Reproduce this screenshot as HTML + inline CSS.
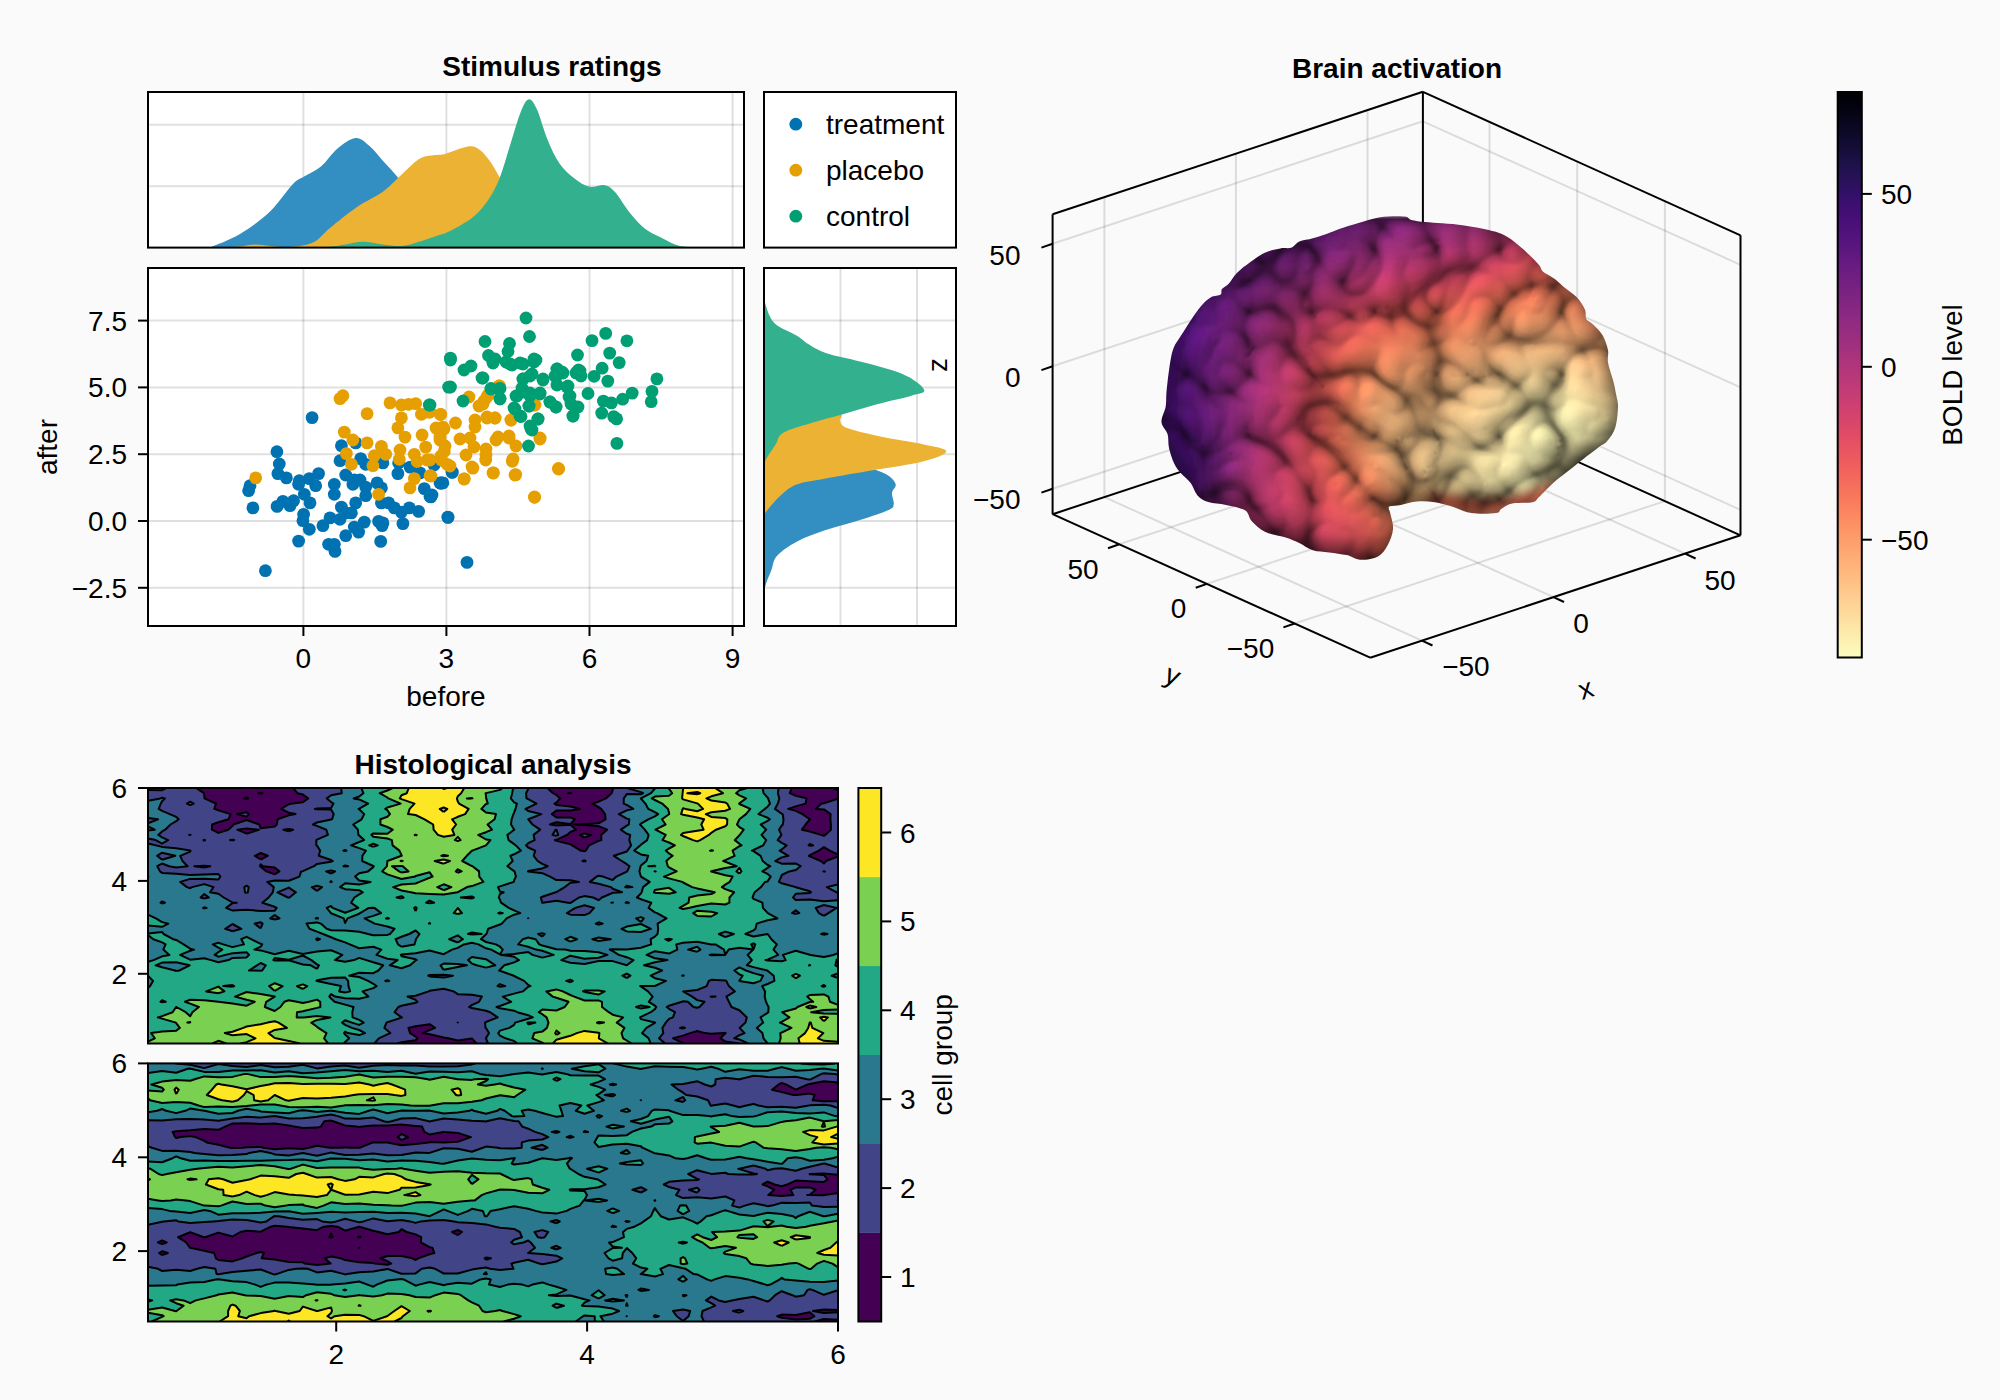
<!DOCTYPE html>
<html><head><meta charset="utf-8"><style>html,body{margin:0;padding:0;background:#fafafa;}svg{display:block;}</style></head><body>
<svg width="2000" height="1400" viewBox="0 0 2000 1400" font-family="'Liberation Sans', Arial, sans-serif">
<defs><linearGradient id="magma" x1="0" y1="0" x2="0" y2="1"><stop offset="0.000" stop-color="#000004"/><stop offset="0.031" stop-color="#030312"/><stop offset="0.062" stop-color="#0a0822"/><stop offset="0.094" stop-color="#130d34"/><stop offset="0.125" stop-color="#1d1147"/><stop offset="0.156" stop-color="#29115a"/><stop offset="0.188" stop-color="#36106b"/><stop offset="0.219" stop-color="#440f76"/><stop offset="0.250" stop-color="#51127c"/><stop offset="0.281" stop-color="#5d177f"/><stop offset="0.312" stop-color="#6a1c81"/><stop offset="0.344" stop-color="#762181"/><stop offset="0.375" stop-color="#832681"/><stop offset="0.406" stop-color="#902a81"/><stop offset="0.438" stop-color="#9c2e7f"/><stop offset="0.469" stop-color="#aa337d"/><stop offset="0.500" stop-color="#b73779"/><stop offset="0.531" stop-color="#c43c75"/><stop offset="0.562" stop-color="#d0416f"/><stop offset="0.594" stop-color="#dc4869"/><stop offset="0.625" stop-color="#e75263"/><stop offset="0.656" stop-color="#ef5d5e"/><stop offset="0.688" stop-color="#f56b5c"/><stop offset="0.719" stop-color="#f9795d"/><stop offset="0.750" stop-color="#fc8961"/><stop offset="0.781" stop-color="#fd9869"/><stop offset="0.812" stop-color="#fea772"/><stop offset="0.844" stop-color="#feb67c"/><stop offset="0.875" stop-color="#fec488"/><stop offset="0.906" stop-color="#fed395"/><stop offset="0.938" stop-color="#fde2a3"/><stop offset="0.969" stop-color="#fcf0b2"/><stop offset="1.000" stop-color="#fcfdbf"/></linearGradient></defs>
<rect width="2000" height="1400" fill="#fafafa"/>
<rect x="148" y="92" width="596" height="155.6" fill="#fff"/>
<rect x="148" y="268" width="596" height="358" fill="#fff"/>
<rect x="764" y="268" width="192" height="358" fill="#fff"/>
<rect x="764" y="92" width="192" height="155.6" fill="#fff"/>
<line x1="303.4" y1="92" x2="303.4" y2="247.6" stroke="rgba(0,0,0,0.12)" stroke-width="2"/>
<line x1="303.4" y1="268" x2="303.4" y2="626" stroke="rgba(0,0,0,0.12)" stroke-width="2"/>
<line x1="446.4" y1="92" x2="446.4" y2="247.6" stroke="rgba(0,0,0,0.12)" stroke-width="2"/>
<line x1="446.4" y1="268" x2="446.4" y2="626" stroke="rgba(0,0,0,0.12)" stroke-width="2"/>
<line x1="589.5" y1="92" x2="589.5" y2="247.6" stroke="rgba(0,0,0,0.12)" stroke-width="2"/>
<line x1="589.5" y1="268" x2="589.5" y2="626" stroke="rgba(0,0,0,0.12)" stroke-width="2"/>
<line x1="732.6" y1="92" x2="732.6" y2="247.6" stroke="rgba(0,0,0,0.12)" stroke-width="2"/>
<line x1="732.6" y1="268" x2="732.6" y2="626" stroke="rgba(0,0,0,0.12)" stroke-width="2"/>
<line x1="148" y1="186.2" x2="744" y2="186.2" stroke="rgba(0,0,0,0.12)" stroke-width="2"/>
<line x1="840.5" y1="268" x2="840.5" y2="626" stroke="rgba(0,0,0,0.12)" stroke-width="2"/>
<line x1="148" y1="124.8" x2="744" y2="124.8" stroke="rgba(0,0,0,0.12)" stroke-width="2"/>
<line x1="917" y1="268" x2="917" y2="626" stroke="rgba(0,0,0,0.12)" stroke-width="2"/>
<line x1="148" y1="587.8" x2="744" y2="587.8" stroke="rgba(0,0,0,0.12)" stroke-width="2"/>
<line x1="764" y1="587.8" x2="956" y2="587.8" stroke="rgba(0,0,0,0.12)" stroke-width="2"/>
<line x1="148" y1="521" x2="744" y2="521" stroke="rgba(0,0,0,0.12)" stroke-width="2"/>
<line x1="764" y1="521" x2="956" y2="521" stroke="rgba(0,0,0,0.12)" stroke-width="2"/>
<line x1="148" y1="454.2" x2="744" y2="454.2" stroke="rgba(0,0,0,0.12)" stroke-width="2"/>
<line x1="764" y1="454.2" x2="956" y2="454.2" stroke="rgba(0,0,0,0.12)" stroke-width="2"/>
<line x1="148" y1="387.4" x2="744" y2="387.4" stroke="rgba(0,0,0,0.12)" stroke-width="2"/>
<line x1="764" y1="387.4" x2="956" y2="387.4" stroke="rgba(0,0,0,0.12)" stroke-width="2"/>
<line x1="148" y1="320.6" x2="744" y2="320.6" stroke="rgba(0,0,0,0.12)" stroke-width="2"/>
<line x1="764" y1="320.6" x2="956" y2="320.6" stroke="rgba(0,0,0,0.12)" stroke-width="2"/>
<clipPath id="ctop"><rect x="148" y="92" width="596" height="155.6"/></clipPath>
<g clip-path="url(#ctop)">
<path d="M210 247.6C215 245.3 230 240 240 234C250 228 261.2 219.8 270 211.5C278.8 203.2 286.8 190.4 292.5 184.5C298.2 178.6 299.8 179.3 304.5 176.3C309.2 173.3 315.5 171.1 321 166.5C326.5 161.9 331.8 153.2 337.5 148.5C343.2 143.8 350.2 138.5 355.5 138C360.8 137.5 364.2 141.5 369 145.5C373.8 149.5 379.2 156.8 384 162C388.8 167.2 392.8 171.3 397.5 177C402.2 182.7 407.4 189.7 412 196C416.6 202.3 420.3 209 425 215C429.7 221 435 227.5 440 232C445 236.5 450 239.4 455 242C460 244.6 467.5 246.7 470 247.6L470 247.6L210 247.6Z" fill="#338ec1"/>
<path d="M225 247.6C227.5 247.4 235 247 240 246.5C245 246 250 244.6 255 244.5C260 244.4 265 245.6 270 246C275 246.4 280 247 285 247C290 247 295 246.9 300 246C305 245.1 310 244.5 315 241.5C320 238.5 323 233.8 330 228C337 222.2 348.2 213 357 207C365.8 201 375.8 196.8 382.5 192C389.2 187.2 391.8 183.8 397.5 178.5C403.2 173.2 412 164.2 417 160.5C422 156.8 423.2 157 427.5 156C431.8 155 438.8 155.1 442.5 154.5C446.2 153.9 445.5 153.6 450 152.2C454.5 150.8 464.5 146.6 469.5 146.2C474.5 145.8 476.5 147.4 480 150C483.5 152.6 487.2 157.5 490.5 162C493.8 166.5 496.2 171.5 499.5 177C502.8 182.5 506.6 188.7 510 195C513.4 201.3 516.7 208.8 520 215C523.3 221.2 525.8 227.2 530 232C534.2 236.8 540 241.4 545 244C550 246.6 557.5 247 560 247.6L560 247.6L225 247.6Z" fill="#ebb233"/>
<path d="M300 247.6C305 247.4 322.5 247.2 330 246.7C337.5 246.2 339.5 245.3 345 244.5C350.5 243.7 356.8 241.8 363 241.8C369.2 241.8 376 243.8 382.5 244.5C389 245.2 395.8 246.5 402 246C408.2 245.5 414.5 243.1 420 241.5C425.5 239.9 430 238.2 435 236.5C440 234.8 443.8 234.2 450 231C456.2 227.8 466.2 222.5 472.5 217.5C478.8 212.5 483 207.5 487.5 201C492 194.5 495.8 187.8 499.5 178.5C503.2 169.2 506.5 156.5 510 145.5C513.5 134.5 517.4 120.2 520.5 112.5C523.6 104.8 526 99.8 528.8 99.3C531.5 98.8 533.9 102.8 537 109.5C540.1 116.2 543.8 130.5 547.5 139.5C551.2 148.5 555 157 559.5 163.5C564 170 569.5 174.6 574.5 178.5C579.5 182.4 584.5 185.6 589.5 186.8C594.5 187.9 600.2 184.4 604.5 185.2C608.8 186.1 610.8 187.4 615 192C619.2 196.6 625 206.9 630 213C635 219.1 640 224.8 645 228.8C650 232.8 655 234.4 660 237C665 239.6 670.5 242.8 675 244.5C679.5 246.2 682.8 246.4 687 246.9C691.2 247.4 697.8 247.5 700 247.6L700 247.6L300 247.6Z" fill="#33b18f"/>
</g>
<clipPath id="cright"><rect x="764" y="268" width="192" height="358"/></clipPath>
<g clip-path="url(#cright)">
<path d="M765 600C765 597.9 764 592.1 765.1 587.1C766.2 582.1 769.4 575.2 771.4 570C773.4 564.8 772.8 560.5 777.1 555.7C781.4 550.9 789 545.7 797.1 541.4C805.2 537.1 815.2 533.6 825.7 530C836.2 526.4 849.5 523.3 860 520C870.5 516.7 883 512.6 888.6 510C894.2 507.4 893.1 507.2 893.7 504.3C894.3 501.4 891.7 496.2 892 492.9C892.3 489.6 896.3 487.2 895.7 484.3C895.1 481.4 892.2 478.2 888.6 475.7C885 473.2 880.7 471.7 874.3 469.4C867.9 467.1 859 464.9 850 462C841 459.1 829.2 455.7 820 452C810.8 448.3 802.5 445.3 795 440C787.5 434.7 779.8 426.7 775 420C770.2 413.3 767.7 405 766 400C764.3 395 765.2 391.7 765 390L764 390L764 600Z" fill="#338ec1"/>
<path d="M765 520C765 518.8 760.7 518.4 765.1 512.9C769.5 507.4 781.3 492.8 791.4 487.1C801.5 481.4 811.9 481.5 825.7 478.6C839.5 475.8 858.1 472.9 874.3 470C890.5 467.1 910.9 464.5 922.9 461.4C934.9 458.3 946.3 454.2 946.3 451.4C946.3 448.5 933.5 446.7 922.9 444.3C912.3 441.9 895.3 439.7 882.9 437.1C870.5 434.5 855.8 431.2 848.6 428.6C841.5 426 841.2 423.8 840 421.4C838.8 419 843.1 416.5 841.4 414.3C839.7 412.1 836.1 410.4 830 408C823.9 405.6 812.5 403 805 400C797.5 397 790.8 395 785 390C779.2 385 773.3 376.7 770 370C766.7 363.3 765.8 353.3 765 350L764 350L764 520Z" fill="#ebb233"/>
<path d="M765 470C765 468.6 763.3 465.7 765.1 461.4C766.9 457.1 772.7 449.1 775.7 444.3C778.7 439.6 777 436.5 782.9 432.9C788.8 429.3 801.4 426 811.4 422.9C821.4 419.8 832 417.4 842.9 414.3C853.8 411.2 865.6 407.4 877 404.3C888.4 401.2 903.5 398 911.4 395.7C919.3 393.4 924.3 393.5 924.3 390.6C924.3 387.8 916.9 382 911.4 378.6C905.9 375.2 900 372.9 891.4 370C882.8 367.1 871 364.2 860 361.4C849 358.5 834.3 355.8 825.7 352.9C817.1 350 813.4 347.2 808.6 344.3C803.8 341.4 802.7 339.3 797 335.7C791.3 332.1 779.6 328.4 774.3 322.9C769 317.4 766.6 307.5 765.1 302.9C763.6 298.2 765 296.3 765 295L764 295L764 470Z" fill="#33b18f"/>
</g>
<g fill="#0072b2"><circle cx="312.1" cy="417.6" r="6.4"/><circle cx="276.9" cy="451.7" r="6.4"/><circle cx="279.3" cy="464" r="6.4"/><circle cx="277.9" cy="473.6" r="6.4"/><circle cx="286.4" cy="477.9" r="6.4"/><circle cx="250" cy="485.7" r="6.4"/><circle cx="248.6" cy="490.7" r="6.4"/><circle cx="252.9" cy="507.9" r="6.4"/><circle cx="265.4" cy="570.7" r="6.4"/><circle cx="298.6" cy="484.3" r="6.4"/><circle cx="304.3" cy="494.3" r="6.4"/><circle cx="310" cy="502.9" r="6.4"/><circle cx="299.3" cy="480.7" r="6.4"/><circle cx="318.6" cy="473.6" r="6.4"/><circle cx="315.7" cy="485.7" r="6.4"/><circle cx="309.3" cy="478.6" r="6.4"/><circle cx="277.1" cy="506.4" r="6.4"/><circle cx="282.9" cy="501.4" r="6.4"/><circle cx="290" cy="505.7" r="6.4"/><circle cx="293.6" cy="500.7" r="6.4"/><circle cx="303.6" cy="514.3" r="6.4"/><circle cx="302.9" cy="520.7" r="6.4"/><circle cx="309.3" cy="529.3" r="6.4"/><circle cx="298.6" cy="541.1" r="6.4"/><circle cx="322.9" cy="525.7" r="6.4"/><circle cx="330" cy="517.9" r="6.4"/><circle cx="334.3" cy="484.3" r="6.4"/><circle cx="334.3" cy="494.3" r="6.4"/><circle cx="341.4" cy="445.7" r="6.4"/><circle cx="340" cy="460.7" r="6.4"/><circle cx="355.7" cy="442.9" r="6.4"/><circle cx="360.7" cy="458.6" r="6.4"/><circle cx="365.7" cy="464.3" r="6.4"/><circle cx="345.7" cy="475" r="6.4"/><circle cx="354.3" cy="480" r="6.4"/><circle cx="360" cy="480" r="6.4"/><circle cx="352.9" cy="484.3" r="6.4"/><circle cx="365.7" cy="487.1" r="6.4"/><circle cx="365.7" cy="495.7" r="6.4"/><circle cx="355.7" cy="502.9" r="6.4"/><circle cx="341.4" cy="507.1" r="6.4"/><circle cx="345.7" cy="512.9" r="6.4"/><circle cx="351.4" cy="512.9" r="6.4"/><circle cx="340" cy="519.3" r="6.4"/><circle cx="328.6" cy="544.3" r="6.4"/><circle cx="334.3" cy="544.3" r="6.4"/><circle cx="345.7" cy="535.7" r="6.4"/><circle cx="335" cy="551.4" r="6.4"/><circle cx="354.3" cy="527.1" r="6.4"/><circle cx="358.6" cy="532.1" r="6.4"/><circle cx="364.3" cy="522.1" r="6.4"/><circle cx="377.1" cy="482.9" r="6.4"/><circle cx="381.4" cy="487.9" r="6.4"/><circle cx="382.9" cy="522.9" r="6.4"/><circle cx="378.6" cy="521.4" r="6.4"/><circle cx="382.1" cy="525.7" r="6.4"/><circle cx="380.7" cy="541.4" r="6.4"/><circle cx="382.9" cy="462.9" r="6.4"/><circle cx="381.4" cy="502.9" r="6.4"/><circle cx="388.6" cy="502.9" r="6.4"/><circle cx="394.3" cy="507.9" r="6.4"/><circle cx="401.4" cy="512.1" r="6.4"/><circle cx="409.3" cy="507.9" r="6.4"/><circle cx="418.6" cy="511.4" r="6.4"/><circle cx="402.9" cy="523.6" r="6.4"/><circle cx="397.9" cy="473.6" r="6.4"/><circle cx="398.6" cy="462.9" r="6.4"/><circle cx="410" cy="467.1" r="6.4"/><circle cx="424.3" cy="488.6" r="6.4"/><circle cx="430" cy="496.4" r="6.4"/><circle cx="440" cy="482.9" r="6.4"/><circle cx="442.9" cy="482.9" r="6.4"/><circle cx="447.9" cy="517.1" r="6.4"/><circle cx="420" cy="472.9" r="6.4"/><circle cx="434.3" cy="464.3" r="6.4"/><circle cx="434" cy="465" r="6.4"/><circle cx="452" cy="472" r="6.4"/><circle cx="441" cy="483" r="6.4"/><circle cx="432" cy="495" r="6.4"/><circle cx="448" cy="517.4" r="6.4"/><circle cx="467" cy="562.4" r="6.4"/><circle cx="452.3" cy="472.4" r="6.4"/><circle cx="441.1" cy="483.1" r="6.4"/><circle cx="430.9" cy="496.9" r="6.4"/></g>
<g fill="#e69f00"><circle cx="255.7" cy="477.9" r="6.4"/><circle cx="340" cy="398.6" r="6.4"/><circle cx="342.9" cy="395.7" r="6.4"/><circle cx="367.1" cy="413.6" r="6.4"/><circle cx="390" cy="402.9" r="6.4"/><circle cx="401.4" cy="405" r="6.4"/><circle cx="408.6" cy="404.3" r="6.4"/><circle cx="415.7" cy="403.6" r="6.4"/><circle cx="421.4" cy="414.3" r="6.4"/><circle cx="428.6" cy="412.1" r="6.4"/><circle cx="440.7" cy="414.3" r="6.4"/><circle cx="401.4" cy="417.9" r="6.4"/><circle cx="397.9" cy="427.9" r="6.4"/><circle cx="405" cy="437.1" r="6.4"/><circle cx="422.1" cy="435" r="6.4"/><circle cx="437.1" cy="428.6" r="6.4"/><circle cx="442.9" cy="427.1" r="6.4"/><circle cx="344.3" cy="432.1" r="6.4"/><circle cx="352.9" cy="440" r="6.4"/><circle cx="367.1" cy="442.9" r="6.4"/><circle cx="381.4" cy="446.4" r="6.4"/><circle cx="385.7" cy="454.3" r="6.4"/><circle cx="374.3" cy="455.7" r="6.4"/><circle cx="372.9" cy="465.7" r="6.4"/><circle cx="346.4" cy="453.6" r="6.4"/><circle cx="351.4" cy="464.3" r="6.4"/><circle cx="400" cy="450" r="6.4"/><circle cx="399.3" cy="459.3" r="6.4"/><circle cx="414.3" cy="454.3" r="6.4"/><circle cx="417.1" cy="461.4" r="6.4"/><circle cx="425.7" cy="447.1" r="6.4"/><circle cx="427.1" cy="460" r="6.4"/><circle cx="440" cy="440" r="6.4"/><circle cx="441.4" cy="460" r="6.4"/><circle cx="414.3" cy="478.6" r="6.4"/><circle cx="410" cy="487.9" r="6.4"/><circle cx="430" cy="475.7" r="6.4"/><circle cx="378.6" cy="494.3" r="6.4"/><circle cx="444.3" cy="451.4" r="6.4"/><circle cx="447.1" cy="464.3" r="6.4"/><circle cx="440.5" cy="414.5" r="6.4"/><circle cx="455.5" cy="423" r="6.4"/><circle cx="436" cy="428" r="6.4"/><circle cx="444" cy="429" r="6.4"/><circle cx="440" cy="437" r="6.4"/><circle cx="445" cy="446" r="6.4"/><circle cx="441" cy="456" r="6.4"/><circle cx="450" cy="466" r="6.4"/><circle cx="460" cy="439" r="6.4"/><circle cx="470" cy="438" r="6.4"/><circle cx="474" cy="447" r="6.4"/><circle cx="466" cy="455" r="6.4"/><circle cx="472" cy="467" r="6.4"/><circle cx="464" cy="479" r="6.4"/><circle cx="486" cy="455" r="6.4"/><circle cx="486" cy="449" r="6.4"/><circle cx="496" cy="440" r="6.4"/><circle cx="509" cy="438" r="6.4"/><circle cx="516" cy="446" r="6.4"/><circle cx="513" cy="459" r="6.4"/><circle cx="493" cy="473" r="6.4"/><circle cx="515" cy="475" r="6.4"/><circle cx="540" cy="439" r="6.4"/><circle cx="558.5" cy="468.5" r="6.4"/><circle cx="534.5" cy="497" r="6.4"/><circle cx="475" cy="420" r="6.4"/><circle cx="475" cy="427" r="6.4"/><circle cx="487" cy="418" r="6.4"/><circle cx="495" cy="418" r="6.4"/><circle cx="511" cy="420" r="6.4"/><circle cx="479" cy="406" r="6.4"/><circle cx="484" cy="401" r="6.4"/><circle cx="488" cy="395" r="6.4"/><circle cx="469" cy="397" r="6.4"/><circle cx="499" cy="386" r="6.4"/><circle cx="534" cy="405" r="6.4"/><circle cx="430" cy="460" r="6.4"/><circle cx="431" cy="476" r="6.4"/><circle cx="430" cy="412" r="6.4"/><circle cx="499.5" cy="386" r="6.4"/><circle cx="487" cy="397" r="6.4"/><circle cx="483" cy="404" r="6.4"/><circle cx="487" cy="417" r="6.4"/><circle cx="495" cy="418" r="6.4"/><circle cx="511" cy="420" r="6.4"/><circle cx="535" cy="405" r="6.4"/><circle cx="498" cy="437" r="6.4"/><circle cx="509" cy="436" r="6.4"/><circle cx="540" cy="438" r="6.4"/><circle cx="558.6" cy="469" r="6.4"/><circle cx="534.6" cy="497.3" r="6.4"/><circle cx="515.7" cy="474.6" r="6.4"/><circle cx="493.4" cy="472.9" r="6.4"/><circle cx="464.3" cy="478.9" r="6.4"/><circle cx="472.9" cy="468.1" r="6.4"/><circle cx="512.3" cy="461.3" r="6.4"/><circle cx="485.7" cy="460" r="6.4"/></g>
<g fill="#009e73"><circle cx="429.3" cy="405" r="6.4"/><circle cx="448.6" cy="387.1" r="6.4"/><circle cx="450.5" cy="387" r="6.4"/><circle cx="463" cy="401" r="6.4"/><circle cx="464" cy="370" r="6.4"/><circle cx="471" cy="366" r="6.4"/><circle cx="482" cy="378" r="6.4"/><circle cx="450.5" cy="360" r="6.4"/><circle cx="491" cy="389" r="6.4"/><circle cx="499" cy="389" r="6.4"/><circle cx="500" cy="399" r="6.4"/><circle cx="493" cy="363" r="6.4"/><circle cx="515" cy="409" r="6.4"/><circle cx="520" cy="416" r="6.4"/><circle cx="529" cy="406" r="6.4"/><circle cx="531" cy="429" r="6.4"/><circle cx="538" cy="419" r="6.4"/><circle cx="528.5" cy="446" r="6.4"/><circle cx="517" cy="396" r="6.4"/><circle cx="523" cy="379" r="6.4"/><circle cx="532" cy="374" r="6.4"/><circle cx="543" cy="380" r="6.4"/><circle cx="540" cy="393" r="6.4"/><circle cx="530" cy="393" r="6.4"/><circle cx="556" cy="407" r="6.4"/><circle cx="550" cy="402" r="6.4"/><circle cx="557" cy="369" r="6.4"/><circle cx="563" cy="373" r="6.4"/><circle cx="556" cy="377" r="6.4"/><circle cx="567" cy="387" r="6.4"/><circle cx="569" cy="397" r="6.4"/><circle cx="573" cy="416" r="6.4"/><circle cx="575" cy="407" r="6.4"/><circle cx="577" cy="372" r="6.4"/><circle cx="580" cy="371" r="6.4"/><circle cx="523" cy="392" r="6.4"/><circle cx="510" cy="364" r="6.4"/><circle cx="534" cy="362" r="6.4"/><circle cx="520" cy="363" r="6.4"/><circle cx="430" cy="405" r="6.4"/><circle cx="526" cy="318" r="6.4"/><circle cx="529.5" cy="336.5" r="6.4"/><circle cx="485" cy="341.5" r="6.4"/><circle cx="509.5" cy="343.5" r="6.4"/><circle cx="508" cy="351.5" r="6.4"/><circle cx="488.5" cy="355.5" r="6.4"/><circle cx="493" cy="362" r="6.4"/><circle cx="495" cy="359" r="6.4"/><circle cx="506" cy="362" r="6.4"/><circle cx="512" cy="365" r="6.4"/><circle cx="523" cy="364" r="6.4"/><circle cx="534" cy="359" r="6.4"/><circle cx="536" cy="360" r="6.4"/><circle cx="483" cy="378" r="6.4"/><circle cx="491" cy="388.5" r="6.4"/><circle cx="500" cy="388.5" r="6.4"/><circle cx="500" cy="398.5" r="6.4"/><circle cx="523" cy="379" r="6.4"/><circle cx="530" cy="376" r="6.4"/><circle cx="543" cy="379" r="6.4"/><circle cx="522" cy="388" r="6.4"/><circle cx="516" cy="396" r="6.4"/><circle cx="530" cy="396" r="6.4"/><circle cx="540" cy="394" r="6.4"/><circle cx="514" cy="408" r="6.4"/><circle cx="529" cy="406" r="6.4"/><circle cx="521" cy="416.5" r="6.4"/><circle cx="538" cy="419" r="6.4"/><circle cx="530" cy="426" r="6.4"/><circle cx="532" cy="430" r="6.4"/><circle cx="557" cy="369" r="6.4"/><circle cx="562" cy="372" r="6.4"/><circle cx="555" cy="376" r="6.4"/><circle cx="557" cy="385" r="6.4"/><circle cx="568" cy="386" r="6.4"/><circle cx="570" cy="396" r="6.4"/><circle cx="550" cy="402" r="6.4"/><circle cx="556" cy="407" r="6.4"/><circle cx="578" cy="407" r="6.4"/><circle cx="573" cy="416" r="6.4"/><circle cx="571" cy="404" r="6.4"/><circle cx="577.5" cy="355" r="6.4"/><circle cx="578.5" cy="370" r="6.4"/><circle cx="581" cy="376" r="6.4"/><circle cx="576" cy="373" r="6.4"/><circle cx="588" cy="393.5" r="6.4"/><circle cx="592" cy="340.6" r="6.4"/><circle cx="605.7" cy="333.4" r="6.4"/><circle cx="626.9" cy="340.8" r="6.4"/><circle cx="609.7" cy="353.1" r="6.4"/><circle cx="619.2" cy="362.6" r="6.4"/><circle cx="602.1" cy="368.2" r="6.4"/><circle cx="594.1" cy="376.3" r="6.4"/><circle cx="607.8" cy="381.1" r="6.4"/><circle cx="656.9" cy="378.9" r="6.4"/><circle cx="652" cy="391.4" r="6.4"/><circle cx="651.2" cy="401.7" r="6.4"/><circle cx="632.2" cy="393.1" r="6.4"/><circle cx="622.6" cy="399.2" r="6.4"/><circle cx="603.4" cy="401.1" r="6.4"/><circle cx="611.4" cy="402.9" r="6.4"/><circle cx="601.7" cy="413.1" r="6.4"/><circle cx="616.6" cy="418.9" r="6.4"/><circle cx="613.7" cy="416.6" r="6.4"/><circle cx="616.9" cy="443.4" r="6.4"/><circle cx="450.4" cy="358.1" r="6.4"/></g>
<rect x="148" y="92" width="596" height="155.6" fill="none" stroke="#000" stroke-width="2"/>
<rect x="148" y="268" width="596" height="358" fill="none" stroke="#000" stroke-width="2"/>
<rect x="764" y="268" width="192" height="358" fill="none" stroke="#000" stroke-width="2"/>
<rect x="764" y="92" width="192" height="155.6" fill="none" stroke="#000" stroke-width="2"/>
<line x1="138" y1="587.8" x2="148" y2="587.8" stroke="#000" stroke-width="2"/>
<text x="127" y="597.8" text-anchor="end" font-size="28">−2.5</text>
<line x1="138" y1="521" x2="148" y2="521" stroke="#000" stroke-width="2"/>
<text x="127" y="531" text-anchor="end" font-size="28">0.0</text>
<line x1="138" y1="454.2" x2="148" y2="454.2" stroke="#000" stroke-width="2"/>
<text x="127" y="464.2" text-anchor="end" font-size="28">2.5</text>
<line x1="138" y1="387.4" x2="148" y2="387.4" stroke="#000" stroke-width="2"/>
<text x="127" y="397.4" text-anchor="end" font-size="28">5.0</text>
<line x1="138" y1="320.6" x2="148" y2="320.6" stroke="#000" stroke-width="2"/>
<text x="127" y="330.6" text-anchor="end" font-size="28">7.5</text>
<line x1="303.4" y1="626" x2="303.4" y2="636" stroke="#000" stroke-width="2"/>
<text x="303.4" y="668" text-anchor="middle" font-size="28">0</text>
<line x1="446.4" y1="626" x2="446.4" y2="636" stroke="#000" stroke-width="2"/>
<text x="446.4" y="668" text-anchor="middle" font-size="28">3</text>
<line x1="589.5" y1="626" x2="589.5" y2="636" stroke="#000" stroke-width="2"/>
<text x="589.5" y="668" text-anchor="middle" font-size="28">6</text>
<line x1="732.6" y1="626" x2="732.6" y2="636" stroke="#000" stroke-width="2"/>
<text x="732.6" y="668" text-anchor="middle" font-size="28">9</text>
<text x="446" y="706" text-anchor="middle" font-size="28">before</text>
<text x="0" y="0" transform="translate(57 447) rotate(-90)" text-anchor="middle" font-size="28">after</text>
<text x="552" y="76" text-anchor="middle" font-size="28" font-weight="bold">Stimulus ratings</text>
<circle cx="795.8" cy="124.2" r="6.4" fill="#0072b2"/>
<text x="826" y="134.2" text-anchor="start" font-size="28">treatment</text>
<circle cx="795.8" cy="170.2" r="6.4" fill="#e69f00"/>
<text x="826" y="180.2" text-anchor="start" font-size="28">placebo</text>
<circle cx="795.8" cy="216.2" r="6.4" fill="#009e73"/>
<text x="826" y="226.2" text-anchor="start" font-size="28">control</text>
<clipPath id="cc1"><rect x="148" y="788" width="690" height="255.5"/></clipPath>
<clipPath id="cc2"><rect x="148" y="1063.4" width="690" height="258.0999999999999"/></clipPath>
<g clip-path="url(#cc1)">
<path d="M401.5 1043.5L415.6 1043.5L429.6 1043.5L443.7 1043.5L457.8 1043.5L471.9 1043.5L476.5 1043.5L471.9 1038.4L457.8 1040.4L448.1 1038.3L443.7 1037.5L429.6 1034.3L422.8 1033.1L429.6 1030.1L435.1 1027.9L429.6 1024.2L415.6 1026.3L408.4 1027.9L410.1 1033.1L415.6 1036.6L417.5 1038.3L415.6 1040.2L401.5 1042.2L397.4 1043.5ZM683.1 1043.2L683.8 1043.5L697.2 1043.5L711.3 1043.5L725.3 1043.5L739.4 1043.5L739.5 1043.5L739.4 1043.5L725.3 1041.4L720.5 1038.3L725.3 1033.2L725.6 1033.1L725.3 1032.7L723.9 1033.1L711.3 1033.7L704.9 1033.1L697.2 1031L690.1 1033.1L683.1 1035.6L673.2 1038.3ZM274.7 874.3L279.4 871.4L274.7 867.6L262.8 866.2L260.7 864.3L259.9 866.2L260.7 866.7L266.4 871.4ZM823.9 863.5L826 861L838 856.4L838 855.8L838 854.6L829.7 850.6L823.9 847.1L818.8 850.6L809.8 855.2L808.9 855.8L809.8 856.3L820.8 861ZM260.7 859.5L267.8 855.8L260.7 853L254.8 855.8ZM584.5 851.2L585.9 850.6L589 845.4L598.6 840.9L601.4 840.1L601.1 834.9L607.1 829.7L598.6 826.2L584.5 825L573.7 824.5L584.5 824L598.6 823.3L605.6 819.3L605 814.1L601.2 808.9L598.6 807.2L592.5 803.6L598.6 801.7L605.9 798.4L611.6 793.2L612.7 790.2L613.2 788L612.7 788L598.6 788L584.5 788L570.4 788L556.4 788L547.4 788L553 793.2L556.4 794.9L560.1 798.4L556.4 802.6L554.5 803.6L556.4 804.9L570.4 806.5L579.9 808.9L570.4 810.6L556.4 810.5L551.9 814.1L556.4 817.4L570.4 817.4L575 819.3L570.4 824.1L556.4 822.2L549.9 824.5L556.4 825.4L570.4 824.7L576.1 829.7L570.4 831.9L567.1 834.9L556.4 839.9L555 840.1L556.4 840.9L570.4 844.2L572.1 845.4L580.7 850.6ZM580.1 834.9L584.5 833.4L591.2 834.9L584.5 837.7ZM568.2 793.2L570.4 792.7L570.9 793.2L570.4 793.4ZM809.8 845.8L813.1 845.4L809.8 843.9L808.6 845.4ZM232.5 840.5L234.2 840.1L232.5 839.8L230.1 840.1ZM823.9 835.8L825.3 834.9L830.9 829.7L830.9 824.5L830.4 819.3L830.6 814.1L823.9 809.4L815.7 808.9L821.4 803.6L823.9 803.2L838 798.6L838 798.4L838 793.2L838 790.3L832.1 788L823.9 788L809.8 788L795.8 788L791.8 788L789.8 793.2L795.8 795.8L806.5 798.4L805.6 803.6L795.8 806.4L788.1 808.9L795.8 810.9L802.5 814.1L809.8 819.3L810 819.3L809.8 819.3L805.6 824.5L801.9 829.7L809.8 831.5L821 834.9ZM218.4 832.9L228.3 829.7L232.5 826L233.4 824.5L246.6 820L259.2 824.5L260.7 828.2L274.7 826.6L276.8 824.5L277.7 819.3L288.8 815.3L295.5 814.1L288.8 812.7L281.2 808.9L288.8 804.2L292.5 803.6L302.9 802.2L308.2 798.4L302.9 794.5L297.4 793.2L293.2 788L288.8 788L274.7 788L260.7 788L246.6 788L232.5 788L218.4 788L204.3 788L196.1 788L203.9 793.2L204.3 795.9L204.5 798.4L216 803.6L214.3 808.9L218.4 810.3L230.6 814.1L228.5 819.3L218.4 822.2L212.1 824.5L211.9 829.7ZM237.1 814.1L246.6 812.3L248.8 814.1L246.6 816.8ZM244.1 798.4L246.6 797.4L248.1 798.4L246.6 799.2ZM258.4 793.2L260.7 792.8L262.3 793.2L260.7 793.7ZM246.6 833.7L258.9 829.7L246.6 828.4L237.3 829.7ZM288.8 831.2L293.1 829.7L288.8 829L283.4 829.7Z" fill="#440154" stroke="#440154" stroke-width="0.6"/>
<path d="M387.4 1043.5L397.4 1043.5L401.5 1042.2L415.6 1040.2L417.5 1038.3L415.6 1036.6L410.1 1033.1L408.4 1027.9L415.6 1026.3L429.6 1024.2L435.1 1027.9L429.6 1030.1L422.8 1033.1L429.6 1034.3L443.7 1037.5L448.1 1038.3L457.8 1040.4L471.9 1038.4L476.5 1043.5L486 1043.5L488.1 1043.5L486 1038.5L485.9 1038.3L486 1038.2L489 1033.1L486 1028.1L485.5 1027.9L485.1 1022.6L486 1022L497.7 1017.4L490.2 1012.2L486 1010.7L471.9 1008L469 1007L471.9 1005L479 1001.8L481.9 996.6L471.9 994.8L457.8 994.2L453.6 991.4L443.7 988.7L429.6 990.7L428.6 991.4L415.6 995.7L407.6 996.6L415.6 999.8L417.4 1001.8L415.6 1002.8L401.5 1005.8L398.3 1007L394.6 1012.2L401.5 1017.3L402 1017.4L401.5 1017.6L387.4 1022.2L386.5 1022.6L384.4 1027.9L387.4 1030.4L390.3 1033.1L387.4 1034.3L378.8 1038.3L374.4 1043.5ZM457.7 1022.6L457.8 1022.6L457.9 1022.6L457.8 1022.7ZM669 1043.5L683.1 1043.5L683.8 1043.5L683.1 1043.2L673.2 1038.3L683.1 1035.6L690.1 1033.1L697.2 1031L704.9 1033.1L711.3 1033.7L723.9 1033.1L725.3 1032.7L725.6 1033.1L725.3 1033.2L720.5 1038.3L725.3 1041.4L739.4 1043.5L739.5 1043.5L748.1 1043.5L739.4 1039.4L734.2 1038.3L739.4 1035.2L744.6 1033.1L739.6 1027.9L745.5 1022.6L746.8 1017.4L741.5 1012.2L739.4 1010.2L731.5 1007L728.9 1001.8L726.4 996.6L734.9 991.4L728.9 986.1L726.3 980.9L725.3 980.4L711.3 979.8L708.8 980.9L706.7 986.1L697.2 990L683.1 991.4L692.2 996.6L697.2 1000.1L704.5 1001.8L699.5 1007L697.2 1007.7L693.4 1007L687.9 1001.8L683.1 1001.2L681.9 1001.8L669 1005.7L666.7 1007L669 1008.8L675 1012.2L672.9 1017.4L669 1018.9L665.8 1022.6L662.4 1027.9L663.3 1033.1L659 1038.3L665.1 1043.5ZM680 1027.9L683.1 1027.2L685 1027.9L683.1 1028.5ZM710.7 996.6L711.3 996.4L715.5 996.6L711.3 997ZM429.6 976.4L443.7 977.5L453 975.7L443.7 974.7L429.6 975L428.2 975.7ZM683.1 975.8L683.7 975.7L683.1 975.3L682.2 975.7ZM232.5 931.2L241.4 928.8L232.5 924L225.2 928.8ZM260.7 928.4L262.6 923.6L260.7 922.3L254.7 923.6ZM598.6 924.8L602.7 923.6L598.6 922.3L595.8 923.6ZM274.7 919.4L279.5 918.4L274.7 915L270.2 918.4ZM317 918.5L318 918.4L317 917.8L315.7 918.4ZM570.4 914.7L584.5 915.1L589.5 913.1L594.1 907.9L584.5 905.2L575.4 907.9L570.4 910.9L566.9 913.1ZM795.8 913.9L799.3 913.1L795.8 910.2L792.1 913.1ZM823.9 915.9L828.4 913.1L836.5 907.9L823.9 905L815.7 907.9L818.8 913.1ZM204.3 908.5L206.6 907.9L204.3 907.3L203.1 907.9ZM232.5 910.6L246.6 909.7L260.7 911L274.7 910.8L276.7 907.9L274.7 906.8L262.3 902.7L268.7 897.5L272.8 892.3L273.8 887.1L267.3 881.9L274.7 880.4L288.8 880.7L299.4 876.6L301.1 871.4L302.9 871.2L314 866.2L317 863.9L331.1 861.7L332.8 861L331.1 860L318.8 855.8L320.2 850.6L317 845.6L316.3 845.4L316.4 840.1L317 839.7L327.9 834.9L326.3 829.7L317 825.9L313 824.5L317 822.4L331.1 819.4L332.1 819.3L333.7 814.1L331.1 809.4L317 809.2L314.8 808.9L317 808.5L331.1 807.9L333.5 803.6L331.1 802L326.8 798.4L331.1 795.2L341.8 793.2L341.1 788L331.1 788L317 788L302.9 788L293.2 788L297.4 793.2L302.9 794.5L308.2 798.4L302.9 802.2L292.5 803.6L288.8 804.2L281.2 808.9L288.8 812.7L295.5 814.1L288.8 815.3L277.7 819.3L276.8 824.5L274.7 826.6L260.7 828.2L259.2 824.5L246.6 820L233.4 824.5L232.5 826L228.3 829.7L218.4 832.9L211.9 829.7L212.1 824.5L218.4 822.2L228.5 819.3L230.6 814.1L218.4 810.3L214.3 808.9L216 803.6L204.5 798.4L204.3 795.9L203.9 793.2L196.1 788L190.2 788L176.2 788L166.1 788L162.1 790.2L148 789.9L148 793.2L148 798.4L148 800.7L160.4 798.4L162.1 797.8L165 798.4L162.1 801.2L160.8 803.6L158.7 808.9L162.1 810.9L169.8 814.1L176.2 816.9L178.7 819.3L176.2 821.1L170.5 824.5L165.2 829.7L162.1 831.4L158.3 834.9L162.1 837.4L168.1 840.1L162.1 843.6L155.7 840.1L148 838.5L148 840.1L148 843.5L156 845.4L162.1 846.9L176.2 848.3L190.2 850.5L190.5 850.6L190.2 851.6L180.2 855.8L182.5 861L187.6 866.2L176.2 867.4L169.1 866.2L162.1 863.5L157.3 866.2L160 871.4L162.1 872.9L176.2 873.8L190.2 875L204.3 874.4L218.4 874L220.4 876.6L218.4 879.5L204.3 878.7L190.2 878.9L180.2 881.9L186.9 887.1L190.2 888.2L192.1 887.1L204.3 884.1L213.5 887.1L210 892.3L218.4 893.7L223.7 897.5L232.5 902.5L236.7 902.7L232.5 903.1L226.1 907.9ZM245 892.3L244.3 887.1L246.6 885.7L248.7 887.1L247.8 892.3L246.6 893ZM266.4 871.4L260.7 866.7L259.9 866.2L260.7 864.3L262.8 866.2L274.7 867.6L279.4 871.4L274.7 874.3ZM194.4 866.2L204.3 865.7L210.3 866.2L204.3 867.4ZM254.8 855.8L260.7 853L267.8 855.8L260.7 859.5ZM203.5 840.1L204.3 839.8L205 840.1L204.3 841.1ZM230.1 840.1L232.5 839.8L234.2 840.1L232.5 840.5ZM189.1 834.9L190.2 834.8L190.6 834.9L190.2 835.1ZM237.3 829.7L246.6 828.4L258.9 829.7L246.6 833.7ZM283.4 829.7L288.8 829L293.1 829.7L288.8 831.2ZM186.9 803.6L190.2 801.6L193.7 803.6L190.2 805.2ZM162.1 903.5L165 902.7L162.1 901.4L160.5 902.7ZM542.3 902.8L542.8 902.7L556.4 900.8L568.1 902.7L570.4 903.1L571 902.7L579 897.5L584.5 896.1L593.1 897.5L598.6 900.2L601.9 897.5L612.7 892.8L622 892.3L612.7 888.8L611.1 887.1L598.6 883.8L589.9 881.9L596.6 876.6L598.6 875.8L603 876.6L612.7 880.1L616.4 876.6L626.8 871.7L627.2 871.4L629.6 866.2L626.8 864.2L621.8 861L613.8 855.8L626.8 851.5L627.5 850.6L631.1 845.4L629.3 840.1L630.2 834.9L626.8 833.8L620.9 829.7L626.8 825.7L628.8 824.5L629.3 819.3L626.8 818.6L618.9 814.1L626.8 810.4L633.3 808.9L626.8 804.9L623.7 803.6L623.8 798.4L626.8 794.1L640.9 794.3L643 793.2L640.9 792.1L626.8 788L626.8 788L613.2 788L612.7 790.2L611.6 793.2L605.9 798.4L598.6 801.7L592.5 803.6L598.6 807.2L601.2 808.9L605 814.1L605.6 819.3L598.6 823.3L584.5 824L573.7 824.5L584.5 825L598.6 826.2L607.1 829.7L601.1 834.9L601.4 840.1L598.6 840.9L589 845.4L585.9 850.6L584.5 851.2L580.7 850.6L572.1 845.4L570.4 844.2L556.4 840.9L555 840.1L556.4 839.9L567.1 834.9L570.4 831.9L576.1 829.7L570.4 824.7L556.4 825.4L549.9 824.5L556.4 822.2L570.4 824.1L575 819.3L570.4 817.4L556.4 817.4L551.9 814.1L556.4 810.5L570.4 810.6L579.9 808.9L570.4 806.5L556.4 804.9L554.5 803.6L556.4 802.6L560.1 798.4L556.4 794.9L553 793.2L547.4 788L542.3 788L528.9 788L528.2 789L526.1 793.2L526.5 798.4L528.2 799.1L536.5 803.6L528.2 807.6L525.5 808.9L528.2 811L541.3 814.1L528.3 819.3L532.5 824.5L540.1 829.7L533.6 834.9L534.6 840.1L528.2 843.2L526 845.4L528.2 847.5L535.2 850.6L533.7 855.8L537.6 861L542.3 863.9L547.7 866.2L542.3 868.4L528.2 871.1L528 871.4L528.2 871.5L542.3 873.2L550 876.6L556.4 880.1L570.4 880.3L578.9 881.9L570.4 882.7L564.7 887.1L556.4 892.2L555.7 892.3L542.3 896.8L540.8 897.5L542.2 902.7ZM582.5 861L584.5 860.3L585.7 861L584.5 861.6ZM552.5 834.9L555.6 829.7L556.4 829.7L556.5 829.7L558.2 834.9L556.4 835.8ZM612.7 902.8L612.9 902.7L612.7 902.6L611.4 902.7ZM204.3 898.5L208.9 897.5L204.3 894.1L200.6 897.5ZM288.8 897.7L289.4 897.5L295.9 892.3L288.8 887.6L277.4 892.3L287.9 897.5ZM795.8 899.9L809.8 899.5L823.9 901.3L838 900.3L838 897.5L838 893.3L836.7 892.3L826.8 887.1L838 884.5L838 881.9L838 876.6L838 871.4L838 866.2L838 861L838 856.4L826 861L823.9 863.5L820.8 861L809.8 856.3L808.9 855.8L809.8 855.2L818.8 850.6L823.9 847.1L829.7 850.6L838 854.6L838 850.6L838 845.4L838 840.1L838 834.9L838 829.7L838 824.5L838 819.3L838 814.1L838 808.9L838 803.6L838 798.6L823.9 803.2L821.4 803.6L815.7 808.9L823.9 809.4L830.6 814.1L830.4 819.3L830.9 824.5L830.9 829.7L825.3 834.9L823.9 835.8L821 834.9L809.8 831.5L801.9 829.7L805.6 824.5L809.8 819.3L810 819.3L809.8 819.3L802.5 814.1L795.8 810.9L788.1 808.9L795.8 806.4L805.6 803.6L806.5 798.4L795.8 795.8L789.8 793.2L791.8 788L781.7 788L778.6 788L777.9 793.2L779.3 798.4L777.9 803.6L774.9 808.9L781.7 813.8L782.7 814.1L783.5 819.3L782.9 824.5L781.7 825.6L779 829.7L781.4 834.9L777.7 840.1L781.7 842.9L786.5 845.4L781.7 849.5L779.6 850.6L781.7 851.9L788.4 855.8L781.7 857.4L775.2 861L781.7 863.7L795.8 863.5L800.6 866.2L795.8 870L789.2 871.4L781.7 875L781.2 876.6L778.9 881.9L781.7 883.3L795.7 887.1L795.8 887.2L809.8 891.2L811 892.3L809.8 892.9L795.8 893.8L793 897.5ZM823.4 871.4L823.9 871.3L824.9 871.4L823.9 871.9ZM808.6 845.4L809.8 843.9L813.1 845.4L809.8 845.8ZM317 891L322.1 887.1L317 885.8L311.8 887.1ZM331.1 882.3L331.7 881.9L331.1 881.1L330.3 881.9ZM331.1 873.7L335.1 871.4L331.1 870.4L326.1 871.4ZM162.1 859.8L175.3 855.8L162.1 852.7L157.1 855.8ZM584.5 837.7L591.2 834.9L584.5 833.4L580.1 834.9ZM154.7 829.7L148 826.3L148 829.7L148 830.4ZM158 819.3L148 817.9L148 819.3L148 823.4ZM246.6 816.8L248.8 814.1L246.6 812.3L237.1 814.1ZM246.6 799.2L248.1 798.4L246.6 797.4L244.1 798.4ZM260.7 793.7L262.3 793.2L260.7 792.8L258.4 793.2ZM570.4 793.4L570.9 793.2L570.4 792.7L568.2 793.2ZM838 790.3L838 788L832.1 788Z" fill="#414487" stroke="#414487" stroke-width="0.6"/>
<path d="M345.1 1043.5L359.2 1043.5L373.3 1043.5L374.4 1043.5L378.8 1038.3L387.4 1034.3L390.3 1033.1L387.4 1030.4L384.4 1027.9L386.5 1022.6L387.4 1022.2L401.5 1017.6L402 1017.4L401.5 1017.3L394.6 1012.2L398.3 1007L401.5 1005.8L415.6 1002.8L417.4 1001.8L415.6 999.8L407.6 996.6L415.6 995.7L428.6 991.4L429.6 990.7L443.7 988.7L453.6 991.4L457.8 994.2L471.9 994.8L481.9 996.6L479 1001.8L471.9 1005L469 1007L471.9 1008L486 1010.7L490.2 1012.2L497.7 1017.4L486 1022L485.1 1022.6L485.5 1027.9L486 1028.1L489 1033.1L486 1038.2L485.9 1038.3L486 1038.5L488.1 1043.5L500 1043.5L514.1 1043.5L517.4 1043.5L514.1 1041L505.6 1038.3L500 1035.7L498.3 1033.1L500 1030.6L509.4 1027.9L514.1 1024.8L515.1 1022.6L528.2 1018.8L532.9 1017.4L528.2 1015.2L517.3 1012.2L514.1 1010.7L500 1008.2L496.5 1007L500 1006L511.2 1001.8L502.8 996.6L514.1 993.6L522.9 991.4L528.2 986.7L530.5 986.1L528.2 984.9L524.1 980.9L514.1 976L513.8 975.7L500 970.7L499.1 970.5L500 969.7L504.3 965.3L514.1 962.4L518.9 960.1L514.1 956.7L501.5 954.9L514.1 953.9L528.2 952L532.5 954.9L542.3 957.6L553.7 954.9L542.3 950.8L536 949.6L528.2 946.7L518.2 944.4L522.9 939.2L528.2 937.5L535.7 939.2L539.2 944.4L542.3 945.5L556.4 949.3L565.4 949.6L570.4 950.7L584.5 951.1L598.6 952.2L607.4 954.9L598.6 957.8L584.5 958.8L570.4 955.7L561.3 960.1L570.4 962.8L584.5 964L598.6 961.1L612.7 961.1L626.8 965.2L633.5 960.1L626.8 957.2L618.9 954.9L612.7 951.2L609.8 949.6L612.7 949.2L626.8 949.5L640.9 947.8L651.2 944.4L650.6 939.2L654.9 936.6L657.5 934L658.2 928.8L657.6 923.6L666.5 918.4L657.1 913.1L654.9 912.4L648.6 907.9L651.3 902.7L640.9 899.2L636.9 897.5L640.9 893.5L641.7 892.3L643.1 887.1L649.7 881.9L641 876.6L640.9 876.5L639.4 871.4L640.6 866.2L640.9 865.6L646.5 861L648.2 855.8L640.9 854.4L634.2 850.6L640.2 845.4L640.9 844.7L647.2 840.1L648.6 834.9L644.8 829.7L640.9 825.4L640 824.5L640.9 823.7L648.3 819.3L654.9 816.3L658.2 814.1L654.9 812.2L648.3 808.9L645.4 803.6L640.9 798.5L640.8 798.4L640.9 798.4L651 793.2L654.9 788.5L655.6 788L654.9 788L640.9 788L626.8 788L640.9 792.1L643 793.2L640.9 794.3L626.8 794.1L623.8 798.4L623.7 803.6L626.8 804.9L633.3 808.9L626.8 810.4L618.9 814.1L626.8 818.6L629.3 819.3L628.8 824.5L626.8 825.7L620.9 829.7L626.8 833.8L630.2 834.9L629.3 840.1L631.1 845.4L627.5 850.6L626.8 851.5L613.8 855.8L621.8 861L626.8 864.2L629.6 866.2L627.2 871.4L626.8 871.7L616.4 876.6L612.7 880.1L603 876.6L598.6 875.8L596.6 876.6L589.9 881.9L598.6 883.8L611.1 887.1L612.7 888.8L622 892.3L612.7 892.8L601.9 897.5L598.6 900.2L593.1 897.5L584.5 896.1L579 897.5L571 902.7L570.4 903.1L568.1 902.7L556.4 900.8L542.8 902.7L542.3 902.8L542.2 902.7L540.8 897.5L542.3 896.8L555.7 892.3L556.4 892.2L564.7 887.1L570.4 882.7L578.9 881.9L570.4 880.3L556.4 880.1L550 876.6L542.3 873.2L528.2 871.5L528 871.4L528.2 871.1L542.3 868.4L547.7 866.2L542.3 863.9L537.6 861L533.7 855.8L535.2 850.6L528.2 847.5L526 845.4L528.2 843.2L534.6 840.1L533.6 834.9L540.1 829.7L532.5 824.5L528.3 819.3L541.3 814.1L528.2 811L525.5 808.9L528.2 807.6L536.5 803.6L528.2 799.1L526.5 798.4L526.1 793.2L528.2 789L528.9 788L528.2 788L514.1 788L513.1 788L512.2 793.2L510.8 798.4L514.1 802.3L516.9 803.6L515.5 808.9L514.1 812.7L513.4 814.1L511.6 819.3L511 824.5L514.1 829.6L514.3 829.7L514.1 829.8L507.4 834.9L508.6 840.1L514.1 844.1L515.8 845.4L520.9 850.6L514.1 854.3L510.4 855.8L512.7 861L507.4 866.2L514.1 871.1L514.6 871.4L515.9 876.6L514.1 880.3L513.9 881.9L500 886.4L498 887.1L500 891.7L503.6 892.3L500 894L498.8 897.5L500 899.7L501 902.7L508.7 907.9L514.1 910.4L520.3 913.1L514.1 914.7L506.6 918.4L501.8 923.6L500 924.5L488.2 928.8L486.5 934L486 934.3L480.9 939.2L486 942L495.9 944.4L500 946.7L502.8 949.6L500 954.4L491.2 949.6L486 948.3L478.5 944.4L471.9 942.8L463.9 944.4L457.8 947.9L452.1 949.6L443.7 954.2L429.6 950.5L415.6 953.2L401.5 954.5L400.9 954.9L401.5 956.2L415.6 959.3L416.7 960.1L415.6 960.4L410.1 965.3L401.5 968.3L389.8 965.3L397.6 960.1L387.4 958.7L376.5 954.9L381.3 949.6L373.3 946.7L359.2 948.2L349.8 944.4L345.1 942.4L335.8 939.2L331.1 937.3L323 934L317 931.6L309.5 928.8L306.5 923.6L317 922.4L320.8 923.6L326.6 928.8L331.1 930.3L345.1 930.5L359.2 931.7L368.1 934L373.3 935.3L387.4 934.9L390 934L394.5 928.8L387.4 926.5L374.7 923.6L373.3 922.8L364.6 918.4L373.3 915.9L381.1 913.1L374.5 907.9L373.3 907.7L368.8 907.9L360 913.1L359.2 913.7L347.5 918.4L345.1 923.1L343.8 918.4L331.1 913.2L331 913.1L326.7 907.9L331.1 906L332.6 907.9L345.1 912.8L358.3 907.9L351.1 902.7L354.4 897.5L359.2 894.4L362.8 892.3L359.2 890.2L345.1 889.2L340.1 887.1L345.1 883.3L359.2 884.4L370.6 881.9L359.2 880.4L355.1 876.6L359.2 873.2L368 871.4L373.3 867.1L373.7 866.2L373.3 866L362.2 861L362.4 855.8L365.9 850.6L359.2 848.1L351 845.4L359.2 842L364.1 840.1L359.2 835.5L358.4 834.9L357.9 829.7L353.2 824.5L359.2 820.9L361.6 819.3L364.2 814.1L359.2 809.3L358.6 808.9L359.2 808.6L368.2 803.6L359.2 799.4L353.7 798.4L359.2 796.5L363.4 793.2L361.3 788L359.2 788L345.1 788L341.1 788L341.8 793.2L331.1 795.2L326.8 798.4L331.1 802L333.5 803.6L331.1 807.9L317 808.5L314.8 808.9L317 809.2L331.1 809.4L333.7 814.1L332.1 819.3L331.1 819.4L317 822.4L313 824.5L317 825.9L326.3 829.7L327.9 834.9L317 839.7L316.4 840.1L316.3 845.4L317 845.6L320.2 850.6L318.8 855.8L331.1 860L332.8 861L331.1 861.7L317 863.9L314 866.2L302.9 871.2L301.1 871.4L299.4 876.6L288.8 880.7L274.7 880.4L267.3 881.9L273.8 887.1L272.8 892.3L268.7 897.5L262.3 902.7L274.7 906.8L276.7 907.9L274.7 910.8L260.7 911L246.6 909.7L232.5 910.6L226.1 907.9L232.5 903.1L236.7 902.7L232.5 902.5L223.7 897.5L218.4 893.7L210 892.3L213.5 887.1L204.3 884.1L192.1 887.1L190.2 888.2L186.9 887.1L180.2 881.9L190.2 878.9L204.3 878.7L218.4 879.5L220.4 876.6L218.4 874L204.3 874.4L190.2 875L176.2 873.8L162.1 872.9L160 871.4L157.3 866.2L162.1 863.5L169.1 866.2L176.2 867.4L187.6 866.2L182.5 861L180.2 855.8L190.2 851.6L190.5 850.6L190.2 850.5L176.2 848.3L162.1 846.9L156 845.4L148 843.5L148 845.4L148 850.6L148 855.8L148 861L148 866.2L148 871.4L148 876.4L148.3 876.6L148 876.8L148 881.9L148 887.1L148 892.3L148 897.5L148 902.4L148.2 902.7L148 903.6L148 907.9L148 913.1L148 914.7L155.9 918.4L162.1 922.1L168.3 923.6L162.1 926.8L148 925.4L148 928.8L148 933.6L162.1 931.9L163.6 934L173.1 939.2L176.2 939.9L183.6 944.4L190.2 948.7L194.1 949.6L190.2 950.8L180.1 954.9L190.2 959.7L204.3 958.2L211 960.1L218.4 962.2L228.5 960.1L232.5 957.9L246.6 957.4L249.1 954.9L246.6 952.2L232.5 953.3L225.6 954.9L218.4 956.7L214.7 954.9L218.4 952.1L222.3 949.6L218.4 947.6L212.8 944.4L218.4 942.8L223.3 944.4L232.5 947.1L244 944.4L241.3 939.2L246.6 936.8L251.1 939.2L260.7 943.8L262.2 944.4L260.7 946.7L254.4 949.6L260.7 950.4L274.7 954.3L288.8 950.8L302.9 953.9L317 951.6L331.1 950.3L342.3 954.9L334.9 960.1L345.1 961.8L354 960.1L359.2 957.9L366.3 960.1L373.3 962.3L383.2 965.3L378.4 970.5L373.3 973.2L359.2 972.7L349.2 975.7L359.2 977L368.1 980.9L373.3 983.8L376.6 986.1L373.3 988.1L362.6 991.4L368.4 996.6L359.2 998.7L345.1 998.3L335.1 996.6L331.1 994.1L329.3 996.6L331.1 998.5L334.6 1001.8L345.1 1004.6L353.5 1007L352.3 1012.2L352.6 1017.4L359.2 1019.9L363.7 1022.6L359.2 1024.9L352 1022.6L345.1 1020.2L342.1 1022.6L345.1 1024.9L351.9 1027.9L359.2 1030L365.1 1033.1L359.2 1035.1L347.8 1033.1L345.1 1031.7L344.1 1033.1L345.1 1034.5L349.2 1038.3L345.1 1042.1L343.9 1043.5ZM497.6 986.1L500 984.1L505.2 986.1L500 986.7ZM385.3 980.9L387.4 980.3L389.2 980.9L387.4 981.3ZM428.2 975.7L429.6 975L443.7 974.7L453 975.7L443.7 977.5L429.6 976.4ZM440.5 965.3L443.7 963.6L457.8 964L466.9 965.3L457.8 966.9L443.7 969.8ZM476.6 965.3L471.9 963.6L468.1 960.1L471.9 956.9L486 959.2L487.5 960.1L495.3 965.3L486 967.6ZM316.2 939.2L317 938.3L320 939.2L317 940.5ZM565.3 939.2L570.4 936.8L577.1 939.2L570.4 941.6ZM592.4 939.2L598.6 937.5L610.8 939.2L598.6 941ZM538.1 934L542.3 933.3L544.7 934L542.3 936.6ZM225.2 928.8L232.5 924L241.4 928.8L232.5 931.2ZM621.5 928.8L626.8 926.6L640.9 924L650.9 928.8L640.9 932L626.8 931.4ZM254.7 923.6L260.7 922.3L262.6 923.6L260.7 928.4ZM595.8 923.6L598.6 922.3L602.7 923.6L598.6 924.8ZM270.2 918.4L274.7 915L279.5 918.4L274.7 919.4ZM315.7 918.4L317 917.8L318 918.4L317 918.5ZM528.1 918.4L528.2 918.3L528.3 918.4L528.2 918.5ZM636.2 918.4L640.9 917.1L643.9 918.4L640.9 922ZM566.9 913.1L570.4 910.9L575.4 907.9L584.5 905.2L594.1 907.9L589.5 913.1L584.5 915.1L570.4 914.7ZM203.1 907.9L204.3 907.3L206.6 907.9L204.3 908.5ZM160.5 902.7L162.1 901.4L165 902.7L162.1 903.5ZM611.4 902.7L612.7 902.6L612.9 902.7L612.7 902.8ZM625.7 902.7L626.8 902L628.9 902.7L626.8 903.4ZM200.6 897.5L204.3 894.1L208.9 897.5L204.3 898.5ZM287.9 897.5L277.4 892.3L288.8 887.6L295.9 892.3L289.4 897.5L288.8 897.7ZM311.8 887.1L317 885.8L322.1 887.1L317 891ZM625.3 887.1L626.8 885.8L632.4 887.1L626.8 887.6ZM330.3 881.9L331.1 881.1L331.7 881.9L331.1 882.3ZM326.1 871.4L331.1 870.4L335.1 871.4L331.1 873.7ZM343.5 866.2L345.1 865.4L348.1 866.2L345.1 866.5ZM157.1 855.8L162.1 852.7L175.3 855.8L162.1 859.8ZM343.4 850.6L345.1 849.9L346.5 850.6L345.1 851.3ZM654.9 1043.5L665.1 1043.5L659 1038.3L663.3 1033.1L662.4 1027.9L665.8 1022.6L669 1018.9L672.9 1017.4L675 1012.2L669 1008.8L666.7 1007L669 1005.7L681.9 1001.8L683.1 1001.2L687.9 1001.8L693.4 1007L697.2 1007.7L699.5 1007L704.5 1001.8L697.2 1000.1L692.2 996.6L683.1 991.4L697.2 990L706.7 986.1L708.8 980.9L711.3 979.8L725.3 980.4L726.3 980.9L728.9 986.1L734.9 991.4L726.4 996.6L728.9 1001.8L731.5 1007L739.4 1010.2L741.5 1012.2L746.8 1017.4L745.5 1022.6L739.6 1027.9L744.6 1033.1L739.4 1035.2L734.2 1038.3L739.4 1039.4L748.1 1043.5L753.5 1043.5L767.6 1043.5L767.6 1043.5L767.6 1043.4L763.5 1038.3L762.4 1033.1L756.8 1027.9L763.2 1022.6L760.5 1017.4L767.6 1012.8L768.3 1012.2L768.6 1007L767.6 1005.1L766 1001.8L764.7 996.6L765.1 991.4L762.1 986.1L767.6 984L774.4 980.9L773.7 975.7L767.6 970.7L767.3 970.5L753.5 967.1L746.9 965.3L751.9 960.1L747.6 954.9L753.3 949.6L739.4 947.8L728.6 949.6L725.3 954.8L724 949.6L715.5 944.4L711.3 944.4L697.2 941.7L683.1 942.8L676.3 944.4L677.3 949.6L669 953.6L654.9 951.2L646.6 954.9L654.9 958.2L667.5 960.1L654.9 962.3L644.1 965.3L654.9 967.8L662.1 970.5L654.9 973.7L650.7 975.7L654.9 978.2L666 980.9L654.9 986L640.9 986L640.2 986.1L640.9 986.4L648 991.4L652.6 996.6L648.8 1001.8L654.9 1005.7L656.3 1007L654.9 1009.1L650.8 1012.2L640.9 1016.9L640.1 1017.4L640.9 1019.1L654.9 1022.5L655.1 1022.6L654.9 1022.8L646.4 1027.9L642.1 1033.1L648.6 1038.3L650.7 1043.5ZM739.3 980.9L739.4 980.5L742.7 975.7L739.4 974.4L734.3 970.5L739.4 967.4L746 970.5L753.5 973.1L763 975.7L760.5 980.9L753.5 983.3L739.4 981ZM682.2 975.7L683.1 975.3L683.7 975.7L683.1 975.8ZM709.7 954.9L711.3 954.6L725.1 954.9L711.3 955.3ZM688.2 949.6L697.2 946.8L700.4 949.6L697.2 951.8ZM683.1 1028.5L685 1027.9L683.1 1027.2L680 1027.9ZM457.8 1022.7L457.9 1022.6L457.8 1022.6L457.7 1022.6ZM640.9 1008.6L649.6 1007L640.9 1005.4L636.1 1007ZM711.3 997L715.5 996.6L711.3 996.4L710.7 996.6ZM345.1 992.6L350.1 991.4L348.5 986.1L348.1 980.9L345.1 977.4L331.1 977.8L317 980.2L316.5 980.9L317 981.1L331.1 984L341 986.1L339.2 991.4ZM150.1 986.1L153 980.9L148 975.8L148 980.9L148 986.1L148 987.8ZM626.8 978.1L630.4 975.7L626.8 973.6L622.4 975.7ZM838 978.1L838 975.7L838 973.4L831.7 975.7ZM176.2 971L179.3 970.5L189.6 965.3L176.2 962.2L162.1 962.6L155.6 965.3L162.1 967.2L175 970.5ZM260.7 970.7L262.2 970.5L265.8 965.3L260.7 963L257 965.3L248.9 970.5ZM317 968.9L319 965.3L317 964.4L311.4 960.1L302.9 955.5L288.8 959.8L274.7 958.1L273.4 960.1L274.7 960.5L288.8 960.3L302.9 964.5L310.8 965.3ZM809.8 965.9L810.2 965.3L809.8 964.9L808.9 965.3ZM838 966.9L838 965.3L838 960.1L838 958.7L836.5 960.1L835.4 965.3ZM153.6 960.1L162.1 956.3L169.4 954.9L163.3 949.6L165.6 944.4L162.1 942.4L153.3 939.2L148 935.1L148 939.2L148 944.4L148 949.6L148 954.9L148 960.1L148 961.8ZM767.6 960.4L781.7 961.2L785.7 960.1L782.9 954.9L795.8 950.7L809.8 954.7L810.5 954.9L823.9 957L833.5 954.9L838 953.2L838 949.6L838 944.4L838 939.2L838 934L838 928.8L838 923.6L838 918.4L838 913.1L838 907.9L838 902.7L838 900.3L823.9 901.3L809.8 899.5L795.8 899.9L793 897.5L795.8 893.8L809.8 892.9L811 892.3L809.8 891.2L795.8 887.2L795.7 887.1L781.7 883.3L778.9 881.9L781.2 876.6L781.7 875L789.2 871.4L795.8 870L800.6 866.2L795.8 863.5L781.7 863.7L775.2 861L781.7 857.4L788.4 855.8L781.7 851.9L779.6 850.6L781.7 849.5L786.5 845.4L781.7 842.9L777.7 840.1L781.4 834.9L779 829.7L781.7 825.6L782.9 824.5L783.5 819.3L782.7 814.1L781.7 813.8L774.9 808.9L777.9 803.6L779.3 798.4L777.9 793.2L778.6 788L767.6 788L762.6 788L763.6 793.2L767.6 797.6L768.1 798.4L770 803.6L767.6 806.7L764.8 808.9L758.5 814.1L767.6 817.7L769.9 819.3L767.6 820.9L760.7 824.5L766.2 829.7L761.5 834.9L766.2 840.1L763.1 845.4L753.5 850L751.9 850.6L753.5 851.1L760.6 855.8L762.7 861L767.6 865L770.3 866.2L767.6 867.8L762.3 871.4L767.6 873.9L770.7 876.6L767.6 881.4L765 881.9L761 887.1L754.7 892.3L753.5 894.8L752.5 897.5L753.5 898.9L762.4 902.7L762.9 907.9L767.6 912.9L767.8 913.1L777.4 918.4L767.6 920.2L756.7 923.6L755.5 928.8L753.5 930.4L745.4 934L753.5 936.5L767.6 934L771.4 939.2L776.8 944.4L773.5 949.6L778.2 954.9L767.6 959.7L765.5 960.1ZM821.2 934L823.9 933.2L827.5 934L823.9 934.8ZM792.1 913.1L795.8 910.2L799.3 913.1L795.8 913.9ZM818.8 913.1L815.7 907.9L823.9 905L836.5 907.9L828.4 913.1L823.9 915.9ZM401.5 946.8L414.5 944.4L415.6 940.8L415.9 939.2L419.5 934L415.6 930.5L409.2 934L401.5 936.8L395.6 939.2L398 944.4ZM753.5 949.4L755.2 944.4L753.5 943.3L751.3 944.4ZM457.8 942.5L462.9 939.2L457.8 935.4L449.2 939.2ZM669 941L671.8 939.2L669 938.8L665.3 939.2ZM471.9 934.4L481.7 934L471.9 932.5L468 934ZM725.3 937.1L733.9 934L725.3 931.6L718.9 934ZM429.6 924L430.1 923.6L429.6 922.9L428.9 923.6ZM387.4 918.7L388.9 918.4L387.4 917.8L386 918.4ZM500 913.7L502.8 913.1L500 912.4L498.3 913.1ZM246.6 893L247.8 892.3L248.7 887.1L246.6 885.7L244.3 887.1L245 892.3ZM838 893.3L838 892.3L838 887.1L838 884.5L826.8 887.1L836.7 892.3ZM823.9 871.9L824.9 871.4L823.9 871.3L823.4 871.4ZM204.3 867.4L210.3 866.2L204.3 865.7L194.4 866.2ZM654.9 866.3L655.2 866.2L654.9 865.8L648.3 866.2ZM584.5 861.6L585.7 861L584.5 860.3L582.5 861ZM162.1 843.6L168.1 840.1L162.1 837.4L158.3 834.9L162.1 831.4L165.2 829.7L170.5 824.5L176.2 821.1L178.7 819.3L176.2 816.9L169.8 814.1L162.1 810.9L158.7 808.9L160.8 803.6L162.1 801.2L165 798.4L162.1 797.8L160.4 798.4L148 800.7L148 803.6L148 808.9L148 814.1L148 817.9L158 819.3L148 823.4L148 824.5L148 826.3L154.7 829.7L148 830.4L148 834.9L148 838.5L155.7 840.1ZM204.3 841.1L205 840.1L204.3 839.8L203.5 840.1ZM190.2 835.1L190.6 834.9L190.2 834.8L189.1 834.9ZM556.4 835.8L558.2 834.9L556.5 829.7L556.4 829.7L555.6 829.7L552.5 834.9ZM190.2 805.2L193.7 803.6L190.2 801.6L186.9 803.6ZM162.1 790.2L166.1 788L162.1 788L148 788L148 789.9Z" fill="#2a788e" stroke="#2a788e" stroke-width="0.6"/>
<path d="M154.8 1038.3L151.2 1033.1L162.1 1031.4L176.2 1030.7L179.8 1027.9L176.2 1023.1L175.9 1022.6L162.1 1018.6L157.8 1017.4L162.1 1016.1L172.6 1012.2L176.1 1007L176.2 1006.9L176.4 1007L185.7 1012.2L190.2 1016.2L192.4 1012.2L198.9 1007L190.2 1003.6L185 1001.8L190.2 999.7L204.3 1000.2L218.4 1001.8L218.5 1001.8L232.5 1003.4L246.6 1005.7L254.7 1001.8L246.6 999.8L235.1 996.6L246.6 992L260.7 994.1L274.7 996.6L266.2 1001.8L264.8 1007L274.7 1011L280.4 1007L284.3 1001.8L288.8 1000.2L296.9 1001.8L302.9 1002.9L308.9 1001.8L317 999.6L320.2 1001.8L320.4 1007L317 1007.9L302.9 1011.3L297 1012.2L296.7 1017.4L302.9 1017.6L303.8 1017.4L317 1015.9L330.5 1017.4L317 1019.9L311.3 1022.6L317 1026.8L318.3 1027.9L326.5 1033.1L324.1 1038.3L328.2 1043.5L331.1 1043.5L343.9 1043.5L345.1 1042.1L349.2 1038.3L345.1 1034.5L344.1 1033.1L345.1 1031.7L347.8 1033.1L359.2 1035.1L365.1 1033.1L359.2 1030L351.9 1027.9L345.1 1024.9L342.1 1022.6L345.1 1020.2L352 1022.6L359.2 1024.9L363.7 1022.6L359.2 1019.9L352.6 1017.4L352.3 1012.2L353.5 1007L345.1 1004.6L334.6 1001.8L331.1 998.5L329.3 996.6L331.1 994.1L335.1 996.6L345.1 998.3L359.2 998.7L368.4 996.6L362.6 991.4L373.3 988.1L376.6 986.1L373.3 983.8L368.1 980.9L359.2 977L349.2 975.7L359.2 972.7L373.3 973.2L378.4 970.5L383.2 965.3L373.3 962.3L366.3 960.1L359.2 957.9L354 960.1L345.1 961.8L334.9 960.1L342.3 954.9L331.1 950.3L317 951.6L302.9 953.9L288.8 950.8L274.7 954.3L260.7 950.4L254.4 949.6L260.7 946.7L262.2 944.4L260.7 943.8L251.1 939.2L246.6 936.8L241.3 939.2L244 944.4L232.5 947.1L223.3 944.4L218.4 942.8L212.8 944.4L218.4 947.6L222.3 949.6L218.4 952.1L214.7 954.9L218.4 956.7L225.6 954.9L232.5 953.3L246.6 952.2L249.1 954.9L246.6 957.4L232.5 957.9L228.5 960.1L218.4 962.2L211 960.1L204.3 958.2L190.2 959.7L180.1 954.9L190.2 950.8L194.1 949.6L190.2 948.7L183.6 944.4L176.2 939.9L173.1 939.2L163.6 934L162.1 931.9L148 933.6L148 934L148 935.1L153.3 939.2L162.1 942.4L165.6 944.4L163.3 949.6L169.4 954.9L162.1 956.3L153.6 960.1L148 961.8L148 965.3L148 970.5L148 975.7L148 975.8L153 980.9L150.1 986.1L148 987.8L148 991.4L148 996.6L148 1001.8L148 1007L148 1012.2L148 1017.4L148 1022.6L148 1027.9L148 1033.1L148 1038.3L148 1041.6ZM160.5 1001.8L162.1 1000.2L165.8 1001.8L162.1 1002.3ZM206.2 991.4L218.4 986.6L224.4 991.4L218.4 993.3ZM339.2 991.4L341 986.1L331.1 984L317 981.1L316.5 980.9L317 980.2L331.1 977.8L345.1 977.4L348.1 980.9L348.5 986.1L350.1 991.4L345.1 992.6ZM223.3 986.1L232.5 985.1L234.2 986.1L232.5 986.8ZM269.1 986.1L274.7 983.2L282.6 986.1L274.7 991ZM296.9 986.1L302.9 984.4L307.2 986.1L302.9 989ZM175 970.5L162.1 967.2L155.6 965.3L162.1 962.6L176.2 962.2L189.6 965.3L179.3 970.5L176.2 971ZM248.9 970.5L257 965.3L260.7 963L265.8 965.3L262.2 970.5L260.7 970.7ZM310.8 965.3L302.9 964.5L288.8 960.3L274.7 960.5L273.4 960.1L274.7 958.1L288.8 959.8L302.9 955.5L311.4 960.1L317 964.4L319 965.3L317 968.9ZM514.1 1041L517.4 1043.5L528.2 1043.5L542.3 1043.5L543.7 1043.5L542.3 1042.7L532.4 1038.3L534.2 1033.1L542.3 1031.6L546.9 1027.9L548.5 1022.6L546.6 1017.4L542.3 1014.2L538.7 1012.2L542.3 1009.5L556.4 1010.5L564.7 1007L568.5 1001.8L556.4 997.8L552.7 996.6L546.3 991.4L556.4 989.4L562.8 991.4L570.4 995L574.2 996.6L584.5 1000.5L598.6 1000.4L602 1001.8L602 1007L608.8 1012.2L612.7 1014.7L623.1 1017.4L616.8 1022.6L624.4 1027.9L621.5 1033.1L623.1 1038.3L626.8 1040.5L631.6 1043.5L640.9 1043.5L650.7 1043.5L648.6 1038.3L642.1 1033.1L646.4 1027.9L654.9 1022.8L655.1 1022.6L654.9 1022.5L640.9 1019.1L640.1 1017.4L640.9 1016.9L650.8 1012.2L654.9 1009.1L656.3 1007L654.9 1005.7L648.8 1001.8L652.6 996.6L648 991.4L640.9 986.4L640.2 986.1L640.9 986L654.9 986L666 980.9L654.9 978.2L650.7 975.7L654.9 973.7L662.1 970.5L654.9 967.8L644.1 965.3L654.9 962.3L667.5 960.1L654.9 958.2L646.6 954.9L654.9 951.2L669 953.6L677.3 949.6L676.3 944.4L683.1 942.8L697.2 941.7L711.3 944.4L715.5 944.4L724 949.6L725.3 954.8L728.6 949.6L739.4 947.8L753.3 949.6L747.6 954.9L751.9 960.1L746.9 965.3L753.5 967.1L767.3 970.5L767.6 970.7L773.7 975.7L774.4 980.9L767.6 984L762.1 986.1L765.1 991.4L764.7 996.6L766 1001.8L767.6 1005.1L768.6 1007L768.3 1012.2L767.6 1012.8L760.5 1017.4L763.2 1022.6L756.8 1027.9L762.4 1033.1L763.5 1038.3L767.6 1043.4L767.6 1043.5L779 1043.5L780.7 1038.3L780.3 1033.1L781.7 1032.5L791.5 1027.9L781.7 1023.4L779.9 1022.6L781.7 1021.8L789.5 1017.4L782.2 1012.2L795.8 1008.5L797.5 1007L809.8 1002L813.2 1001.8L809.8 999L807.3 996.6L809.8 995L823.9 994.4L828.4 996.6L830 1001.8L838 1004.8L838 1001.8L838 996.6L838 991.4L838 986.1L838 980.9L838 978.1L831.7 975.7L838 973.4L838 970.5L838 966.9L835.4 965.3L836.5 960.1L838 958.7L838 954.9L838 953.2L833.5 954.9L823.9 957L810.5 954.9L809.8 954.7L795.8 950.7L782.9 954.9L785.7 960.1L781.7 961.2L767.6 960.4L765.5 960.1L767.6 959.7L778.2 954.9L773.5 949.6L776.8 944.4L771.4 939.2L767.6 934L753.5 936.5L745.4 934L753.5 930.4L755.5 928.8L756.7 923.6L767.6 920.2L777.4 918.4L767.8 913.1L767.6 912.9L762.9 907.9L762.4 902.7L753.5 898.9L752.5 897.5L753.5 894.8L754.7 892.3L761 887.1L765 881.9L767.6 881.4L770.7 876.6L767.6 873.9L762.3 871.4L767.6 867.8L770.3 866.2L767.6 865L762.7 861L760.6 855.8L753.5 851.1L751.9 850.6L753.5 850L763.1 845.4L766.2 840.1L761.5 834.9L766.2 829.7L760.7 824.5L767.6 820.9L769.9 819.3L767.6 817.7L758.5 814.1L764.8 808.9L767.6 806.7L770 803.6L768.1 798.4L767.6 797.6L763.6 793.2L762.6 788L753.5 788L747.1 788L739.4 790.3L736.1 793.2L739.4 795.4L746.1 798.4L739.4 803.3L739.1 803.6L739.4 804L750.3 808.9L746 814.1L739.4 819.3L739.4 819.3L737 824.5L739.4 827.1L743.7 829.7L739.8 834.9L739.4 835.2L734.8 840.1L739.4 843.7L741.6 845.4L739.4 846.2L732.6 850.6L734.6 855.8L725.3 860.2L723.2 861L725.3 861.7L736.7 866.2L725.3 868L711.3 871.3L711.1 871.4L711.3 871.5L725.3 875.2L732.6 876.6L729.7 881.9L725.3 884.6L721.9 887.1L725.3 889.1L734.1 892.3L729.5 897.5L729.4 902.7L725.3 904.5L711.3 903.6L697.2 906L688.6 907.9L683.1 909.1L679.6 907.9L683.1 905.9L688.6 902.7L689.2 897.5L697.2 895.5L711.3 894L714.7 892.3L711.3 891.5L697.2 888.4L692.1 887.1L683.1 882.5L682.3 881.9L669 878.4L664 876.6L669 874.6L676.7 871.4L669 867.3L667.8 866.2L666.4 861L669 858.5L672.7 855.8L669 853.4L665.8 850.6L669 848.5L674.9 845.4L669 842.5L662.6 840.1L665.7 834.9L655.5 829.7L665.6 824.5L662 819.3L669 814.2L669.2 814.1L669 812.5L668 808.9L662.2 803.6L654.9 800L651.8 798.4L654.9 796.6L669 795.7L672.2 793.2L669 788.6L668.6 788L655.6 788L654.9 788.5L651 793.2L640.9 798.4L640.8 798.4L640.9 798.5L645.4 803.6L648.3 808.9L654.9 812.2L658.2 814.1L654.9 816.3L648.3 819.3L640.9 823.7L640 824.5L640.9 825.4L644.8 829.7L648.6 834.9L647.2 840.1L640.9 844.7L640.2 845.4L634.2 850.6L640.9 854.4L648.2 855.8L646.5 861L640.9 865.6L640.6 866.2L639.4 871.4L640.9 876.5L641 876.6L649.7 881.9L643.1 887.1L641.7 892.3L640.9 893.5L636.9 897.5L640.9 899.2L651.3 902.7L648.6 907.9L654.9 912.4L657.1 913.1L666.5 918.4L657.6 923.6L658.2 928.8L657.5 934L654.9 936.6L650.6 939.2L651.2 944.4L640.9 947.8L626.8 949.5L612.7 949.2L609.8 949.6L612.7 951.2L618.9 954.9L626.8 957.2L633.5 960.1L626.8 965.2L612.7 961.1L598.6 961.1L584.5 964L570.4 962.8L561.3 960.1L570.4 955.7L584.5 958.8L598.6 957.8L607.4 954.9L598.6 952.2L584.5 951.1L570.4 950.7L565.4 949.6L556.4 949.3L542.3 945.5L539.2 944.4L535.7 939.2L528.2 937.5L522.9 939.2L518.2 944.4L528.2 946.7L536 949.6L542.3 950.8L553.7 954.9L542.3 957.6L532.5 954.9L528.2 952L514.1 953.9L501.5 954.9L514.1 956.7L518.9 960.1L514.1 962.4L504.3 965.3L500 969.7L499.1 970.5L500 970.7L513.8 975.7L514.1 976L524.1 980.9L528.2 984.9L530.5 986.1L528.2 986.7L522.9 991.4L514.1 993.6L502.8 996.6L511.2 1001.8L500 1006L496.5 1007L500 1008.2L514.1 1010.7L517.3 1012.2L528.2 1015.2L532.9 1017.4L528.2 1018.8L515.1 1022.6L514.1 1024.8L509.4 1027.9L500 1030.6L498.3 1033.1L500 1035.7L505.6 1038.3ZM527.4 1022.6L528.2 1022.4L535.4 1022.6L528.2 1024.5ZM636.1 1007L640.9 1005.4L649.6 1007L640.9 1008.6ZM583 991.4L584.5 990.5L598.6 990.4L604.7 991.4L598.6 994.6L584.5 991.9ZM821.7 986.1L823.9 984.9L825.2 986.1L823.9 987ZM566.3 980.9L570.4 979.6L572.8 980.9L570.4 982.3ZM622.4 975.7L626.8 973.6L630.4 975.7L626.8 978.1ZM792.2 975.7L795.8 973.9L800 975.7L795.8 978.3ZM808.9 965.3L809.8 964.9L810.2 965.3L809.8 965.9ZM751.3 944.4L753.5 943.3L755.2 944.4L753.5 949.4ZM665.3 939.2L669 938.8L671.8 939.2L669 941ZM718.9 934L725.3 931.6L733.9 934L725.3 937.1ZM693.2 913.1L697.2 910.7L711.3 911.7L717.2 913.1L711.3 916.5L697.2 915.9ZM654 892.3L654.9 889.9L669 887.8L675.7 892.3L669 893.8L654.9 892.8ZM654.6 871.4L654.9 871.3L655.7 871.4L654.9 871.7ZM736.5 871.4L739.4 867.8L741.5 871.4L739.4 873.6ZM648.3 866.2L654.9 865.8L655.2 866.2L654.9 866.3ZM190.2 1022.7L190.3 1022.6L190.2 1022.1L187.4 1022.6ZM598.6 1023.6L604 1022.6L598.6 1021.9L597 1022.6ZM823.9 1013.5L838 1013.8L838 1012.2L838 1009.6L823.9 1010L811.2 1012.2ZM500 986.7L505.2 986.1L500 984.1L497.6 986.1ZM387.4 981.3L389.2 980.9L387.4 980.3L385.3 980.9ZM739.4 981L753.5 983.3L760.5 980.9L763 975.7L753.5 973.1L746 970.5L739.4 967.4L734.3 970.5L739.4 974.4L742.7 975.7L739.4 980.5L739.3 980.9ZM401.5 968.3L410.1 965.3L415.6 960.4L416.7 960.1L415.6 959.3L401.5 956.2L400.9 954.9L401.5 954.5L415.6 953.2L429.6 950.5L443.7 954.2L452.1 949.6L457.8 947.9L463.9 944.4L471.9 942.8L478.5 944.4L486 948.3L491.2 949.6L500 954.4L502.8 949.6L500 946.7L495.9 944.4L486 942L480.9 939.2L486 934.3L486.5 934L488.2 928.8L500 924.5L501.8 923.6L506.6 918.4L514.1 914.7L520.3 913.1L514.1 910.4L508.7 907.9L501 902.7L500 899.7L498.8 897.5L500 894L503.6 892.3L500 891.7L498 887.1L500 886.4L513.9 881.9L514.1 880.3L515.9 876.6L514.6 871.4L514.1 871.1L507.4 866.2L512.7 861L510.4 855.8L514.1 854.3L520.9 850.6L515.8 845.4L514.1 844.1L508.6 840.1L507.4 834.9L514.1 829.8L514.3 829.7L514.1 829.6L511 824.5L511.6 819.3L513.4 814.1L514.1 812.7L515.5 808.9L516.9 803.6L514.1 802.3L510.8 798.4L512.2 793.2L513.1 788L502.7 788L500 789.9L486 793.1L485.6 793.2L486 796.7L486.2 798.4L487.8 803.6L486 803.9L481.4 808.9L486 812.5L496 814.1L494.6 819.3L487.6 824.5L492 829.7L486 832.2L478.2 834.9L486 839.5L490.4 840.1L486 845.4L486 845.4L472.3 850.6L471.9 850.7L466.8 855.8L462.2 861L471.9 866.1L472.5 866.2L479.1 871.4L479.3 876.6L483.4 881.9L471.9 886.1L467 887.1L457.8 892.2L457.5 892.3L443.7 894.5L429.6 893.9L415.6 893.3L410.9 892.3L401.5 890.5L393.2 887.1L401.5 884.5L415.6 883.5L419.5 881.9L429.6 877.8L432.6 876.6L429.6 872.2L415.6 876L415.1 876.6L401.5 879L394.3 876.6L387.4 874.4L382.2 871.4L386.9 866.2L387.4 861.2L387.4 861L401.5 855.8L401.7 855.8L401.5 855L399.4 850.6L392.6 845.4L391.9 840.1L387.4 838.5L373.3 836.8L371.4 834.9L373.3 833.4L387.4 833.8L392.7 829.7L387.4 827L380.4 824.5L380.5 819.3L387.4 816.8L390 814.1L387.4 810.2L385.3 808.9L387.4 807.5L400.7 803.6L388.3 798.4L387.4 797.5L379.7 793.2L387.4 790.5L392.7 788L387.4 788L373.3 788L361.3 788L363.4 793.2L359.2 796.5L353.7 798.4L359.2 799.4L368.2 803.6L359.2 808.6L358.6 808.9L359.2 809.3L364.2 814.1L361.6 819.3L359.2 820.9L353.2 824.5L357.9 829.7L358.4 834.9L359.2 835.5L364.1 840.1L359.2 842L351 845.4L359.2 848.1L365.9 850.6L362.4 855.8L362.2 861L373.3 866L373.7 866.2L373.3 867.1L368 871.4L359.2 873.2L355.1 876.6L359.2 880.4L370.6 881.9L359.2 884.4L345.1 883.3L340.1 887.1L345.1 889.2L359.2 890.2L362.8 892.3L359.2 894.4L354.4 897.5L351.1 902.7L358.3 907.9L345.1 912.8L332.6 907.9L331.1 906L326.7 907.9L331 913.1L331.1 913.2L343.8 918.4L345.1 923.1L347.5 918.4L359.2 913.7L360 913.1L368.8 907.9L373.3 907.7L374.5 907.9L381.1 913.1L373.3 915.9L364.6 918.4L373.3 922.8L374.7 923.6L387.4 926.5L394.5 928.8L390 934L387.4 934.9L373.3 935.3L368.1 934L359.2 931.7L345.1 930.5L331.1 930.3L326.6 928.8L320.8 923.6L317 922.4L306.5 923.6L309.5 928.8L317 931.6L323 934L331.1 937.3L335.8 939.2L345.1 942.4L349.8 944.4L359.2 948.2L373.3 946.7L381.3 949.6L376.5 954.9L387.4 958.7L397.6 960.1L389.8 965.3ZM398 944.4L395.6 939.2L401.5 936.8L409.2 934L415.6 930.5L419.5 934L415.9 939.2L415.6 940.8L414.5 944.4L401.5 946.8ZM449.2 939.2L457.8 935.4L462.9 939.2L457.8 942.5ZM468 934L471.9 932.5L481.7 934L471.9 934.4ZM428.9 923.6L429.6 922.9L430.1 923.6L429.6 924ZM386 918.4L387.4 917.8L388.9 918.4L387.4 918.7ZM453.8 913.1L457.8 908L462 913.1L457.8 914ZM498.3 913.1L500 912.4L502.8 913.1L500 913.7ZM414.1 907.9L415.6 907L416.7 907.9L415.6 911.2ZM426.2 902.7L429.6 900.6L434.1 902.7L429.6 903.3ZM396.6 897.5L401.5 896.1L403.6 897.5L401.5 898.4ZM460.8 897.5L471.9 896.5L473.9 897.5L471.9 898.5ZM369.2 845.4L373.3 843.7L377.7 845.4L373.3 846.8ZM443.7 969.8L457.8 966.9L466.9 965.3L457.8 964L443.7 963.6L440.5 965.3ZM486 967.6L495.3 965.3L487.5 960.1L486 959.2L471.9 956.9L468.1 960.1L471.9 963.6L476.6 965.3ZM711.3 955.3L725.1 954.9L711.3 954.6L709.7 954.9ZM697.2 951.8L700.4 949.6L697.2 946.8L688.2 949.6ZM317 940.5L320 939.2L317 938.3L316.2 939.2ZM570.4 941.6L577.1 939.2L570.4 936.8L565.3 939.2ZM598.6 941L610.8 939.2L598.6 937.5L592.4 939.2ZM542.3 936.6L544.7 934L542.3 933.3L538.1 934ZM823.9 934.8L827.5 934L823.9 933.2L821.2 934ZM626.8 931.4L640.9 932L650.9 928.8L640.9 924L626.8 926.6L621.5 928.8ZM162.1 926.8L168.3 923.6L162.1 922.1L155.9 918.4L148 914.7L148 918.4L148 923.6L148 925.4ZM528.2 918.5L528.3 918.4L528.2 918.3L528.1 918.4ZM640.9 922L643.9 918.4L640.9 917.1L636.2 918.4ZM148.2 902.7L148 902.4L148 902.7L148 903.6ZM626.8 903.4L628.9 902.7L626.8 902L625.7 902.7ZM443.7 890.2L451.4 887.1L443.7 884.3L437.3 887.1ZM626.8 887.6L632.4 887.1L626.8 885.8L625.3 887.1ZM148.3 876.6L148 876.4L148 876.6L148 876.8ZM401.5 872.5L408.6 871.4L402.8 866.2L401.5 865.9L392 866.2L399.2 871.4ZM457.8 872.7L461.7 871.4L457.8 869.3L455.8 871.4ZM345.1 866.5L348.1 866.2L345.1 865.4L343.5 866.2ZM443.7 856.3L448 855.8L443.7 855L441.4 855.8ZM345.1 851.3L346.5 850.6L345.1 849.9L343.4 850.6ZM711.3 851L713 850.6L711.3 850.3L710 850.6ZM415.6 835.7L416.7 834.9L415.6 834.6L414.7 834.9Z" fill="#22a884" stroke="#22a884" stroke-width="0.6"/>
<path d="M162.1 1043.5L176.2 1043.5L190.2 1043.5L204.3 1043.5L212.5 1043.5L218.4 1040.8L226.2 1043.5L232.5 1043.5L240.4 1043.5L246.6 1042.2L255.5 1038.3L246.6 1034.1L232.5 1035.3L224.8 1033.1L232.5 1031.8L243.3 1027.9L246.6 1026.5L260.7 1024.3L267.6 1022.6L274.7 1021.2L278.5 1022.6L286.9 1027.9L274.7 1029.9L268.5 1033.1L274.7 1038L276 1038.3L288.8 1040.9L300 1043.5L302.9 1043.5L317 1043.5L328.2 1043.5L324.1 1038.3L326.5 1033.1L318.3 1027.9L317 1026.8L311.3 1022.6L317 1019.9L330.5 1017.4L317 1015.9L303.8 1017.4L302.9 1017.6L296.7 1017.4L297 1012.2L302.9 1011.3L317 1007.9L320.4 1007L320.2 1001.8L317 999.6L308.9 1001.8L302.9 1002.9L296.9 1001.8L288.8 1000.2L284.3 1001.8L280.4 1007L274.7 1011L264.8 1007L266.2 1001.8L274.7 996.6L260.7 994.1L246.6 992L235.1 996.6L246.6 999.8L254.7 1001.8L246.6 1005.7L232.5 1003.4L218.5 1001.8L218.4 1001.8L204.3 1000.2L190.2 999.7L185 1001.8L190.2 1003.6L198.9 1007L192.4 1012.2L190.2 1016.2L185.7 1012.2L176.4 1007L176.2 1006.9L176.1 1007L172.6 1012.2L162.1 1016.1L157.8 1017.4L162.1 1018.6L175.9 1022.6L176.2 1023.1L179.8 1027.9L176.2 1030.7L162.1 1031.4L151.2 1033.1L154.8 1038.3L148 1041.6L148 1043.5ZM187.4 1022.6L190.2 1022.1L190.3 1022.6L190.2 1022.7ZM542.3 1042.7L543.7 1043.5L553 1043.5L556.4 1039.7L561.5 1038.3L570.4 1035.8L576.8 1033.1L584.5 1030.9L598.6 1032.7L599.4 1033.1L598.8 1038.3L608 1043.5L612.7 1043.5L626.8 1043.5L631.6 1043.5L626.8 1040.5L623.1 1038.3L621.5 1033.1L624.4 1027.9L616.8 1022.6L623.1 1017.4L612.7 1014.7L608.8 1012.2L602 1007L602 1001.8L598.6 1000.4L584.5 1000.5L574.2 996.6L570.4 995L562.8 991.4L556.4 989.4L546.3 991.4L552.7 996.6L556.4 997.8L568.5 1001.8L564.7 1007L556.4 1010.5L542.3 1009.5L538.7 1012.2L542.3 1014.2L546.6 1017.4L548.5 1022.6L546.9 1027.9L542.3 1031.6L534.2 1033.1L532.4 1038.3ZM555.2 1033.1L556.4 1030.6L559.5 1033.1L556.4 1034.9ZM597 1022.6L598.6 1021.9L604 1022.6L598.6 1023.6ZM781.7 1043.5L795.8 1043.5L799.8 1043.5L798.4 1038.3L805.1 1033.1L808.2 1027.9L809.7 1022.6L809.8 1022.6L810.8 1022.6L812.3 1027.9L823.4 1033.1L817.9 1038.3L823.9 1040.8L838 1041.7L838 1038.3L838 1033.1L838 1027.9L838 1022.6L838 1017.4L838 1013.8L823.9 1013.5L811.2 1012.2L823.9 1010L838 1009.6L838 1007L838 1004.8L830 1001.8L828.4 996.6L823.9 994.4L809.8 995L807.3 996.6L809.8 999L813.2 1001.8L809.8 1002L797.5 1007L795.8 1008.5L782.2 1012.2L789.5 1017.4L781.7 1021.8L779.9 1022.6L781.7 1023.4L791.5 1027.9L781.7 1032.5L780.3 1033.1L780.7 1038.3L779 1043.5ZM820.1 1017.4L823.9 1016.7L827.9 1017.4L823.9 1021.3ZM806.4 1007L809.8 1005.6L816.3 1007L809.8 1008.5ZM528.2 1024.5L535.4 1022.6L528.2 1022.4L527.4 1022.6ZM162.1 1002.3L165.8 1001.8L162.1 1000.2L160.5 1001.8ZM218.4 993.3L224.4 991.4L218.4 986.6L206.2 991.4ZM584.5 991.9L598.6 994.6L604.7 991.4L598.6 990.4L584.5 990.5L583 991.4ZM232.5 986.8L234.2 986.1L232.5 985.1L223.3 986.1ZM274.7 991L282.6 986.1L274.7 983.2L269.1 986.1ZM302.9 989L307.2 986.1L302.9 984.4L296.9 986.1ZM823.9 987L825.2 986.1L823.9 984.9L821.7 986.1ZM570.4 982.3L572.8 980.9L570.4 979.6L566.3 980.9ZM795.8 978.3L800 975.7L795.8 973.9L792.2 975.7ZM457.8 914L462 913.1L457.8 908L453.8 913.1ZM697.2 915.9L711.3 916.5L717.2 913.1L711.3 911.7L697.2 910.7L693.2 913.1ZM415.6 911.2L416.7 907.9L415.6 907L414.1 907.9ZM683.1 909.1L688.6 907.9L697.2 906L711.3 903.6L725.3 904.5L729.4 902.7L729.5 897.5L734.1 892.3L725.3 889.1L721.9 887.1L725.3 884.6L729.7 881.9L732.6 876.6L725.3 875.2L711.3 871.5L711.1 871.4L711.3 871.3L725.3 868L736.7 866.2L725.3 861.7L723.2 861L725.3 860.2L734.6 855.8L732.6 850.6L739.4 846.2L741.6 845.4L739.4 843.7L734.8 840.1L739.4 835.2L739.8 834.9L743.7 829.7L739.4 827.1L737 824.5L739.4 819.3L739.4 819.3L746 814.1L750.3 808.9L739.4 804L739.1 803.6L739.4 803.3L746.1 798.4L739.4 795.4L736.1 793.2L739.4 790.3L747.1 788L739.4 788L725.3 788L715 788L723 793.2L711.3 796.3L706.4 798.4L711.3 800.5L725.3 802.5L727.1 803.6L730.1 808.9L725.3 810.7L711.3 812.3L705.8 814.1L711.3 816.9L725.3 818.1L727.3 819.3L727.1 824.5L725.3 826.2L716 829.7L711.3 832.8L708.9 834.9L700.2 840.1L697.2 841.4L693.1 840.1L683.1 836L680.9 834.9L683.1 833L697.2 830.7L703.6 829.7L701.3 824.5L704.1 819.3L697.2 817.5L683.1 814.8L681.1 814.1L682.7 808.9L683.1 808.3L685.6 808.9L697.2 811.3L703.1 808.9L697.9 803.6L697.2 803.4L683.1 799.4L682.1 798.4L682.6 793.2L683.1 789L683.5 788L683.1 788L669 788L668.6 788L669 788.6L672.2 793.2L669 795.7L654.9 796.6L651.8 798.4L654.9 800L662.2 803.6L668 808.9L669 812.5L669.2 814.1L669 814.2L662 819.3L665.6 824.5L655.5 829.7L665.7 834.9L662.6 840.1L669 842.5L674.9 845.4L669 848.5L665.8 850.6L669 853.4L672.7 855.8L669 858.5L666.4 861L667.8 866.2L669 867.3L676.7 871.4L669 874.6L664 876.6L669 878.4L682.3 881.9L683.1 882.5L692.1 887.1L697.2 888.4L711.3 891.5L714.7 892.3L711.3 894L697.2 895.5L689.2 897.5L688.6 902.7L683.1 905.9L679.6 907.9ZM710 850.6L711.3 850.3L713 850.6L711.3 851ZM429.6 903.3L434.1 902.7L429.6 900.6L426.2 902.7ZM401.5 898.4L403.6 897.5L401.5 896.1L396.6 897.5ZM471.9 898.5L473.9 897.5L471.9 896.5L460.8 897.5ZM415.6 893.3L429.6 893.9L443.7 894.5L457.5 892.3L457.8 892.2L467 887.1L471.9 886.1L483.4 881.9L479.3 876.6L479.1 871.4L472.5 866.2L471.9 866.1L462.2 861L466.8 855.8L471.9 850.7L472.3 850.6L486 845.4L486 845.4L490.4 840.1L486 839.5L478.2 834.9L486 832.2L492 829.7L487.6 824.5L494.6 819.3L496 814.1L486 812.5L481.4 808.9L486 803.9L487.8 803.6L486.2 798.4L486 796.7L485.6 793.2L486 793.1L500 789.9L502.7 788L500 788L486 788L471.9 788L464.3 788L461.1 793.2L457.8 796.3L456.9 798.4L457.8 801.6L459 803.6L468.6 808.9L465.1 814.1L457.8 816.8L452.1 819.3L456.1 824.5L452.2 829.7L454.4 834.9L443.7 836.7L437.9 834.9L433.6 829.7L433.2 824.5L429.6 822.4L424.6 819.3L415.6 815L408 814.1L409.7 808.9L414.5 803.6L401.5 799.1L399.8 798.4L401.5 795.2L406.8 793.2L408.7 788L401.5 788L392.7 788L387.4 790.5L379.7 793.2L387.4 797.5L388.3 798.4L400.7 803.6L387.4 807.5L385.3 808.9L387.4 810.2L390 814.1L387.4 816.8L380.5 819.3L380.4 824.5L387.4 827L392.7 829.7L387.4 833.8L373.3 833.4L371.4 834.9L373.3 836.8L387.4 838.5L391.9 840.1L392.6 845.4L399.4 850.6L401.5 855L401.7 855.8L401.5 855.8L387.4 861L387.4 861.2L386.9 866.2L382.2 871.4L387.4 874.4L394.3 876.6L401.5 879L415.1 876.6L415.6 876L429.6 872.2L432.6 876.6L429.6 877.8L419.5 881.9L415.6 883.5L401.5 884.5L393.2 887.1L401.5 890.5L410.9 892.3ZM437.3 887.1L443.7 884.3L451.4 887.1L443.7 890.2ZM399.2 871.4L392 866.2L401.5 865.9L402.8 866.2L408.6 871.4L401.5 872.5ZM455.8 871.4L457.8 869.3L461.7 871.4L457.8 872.7ZM400.6 861L401.5 860.7L402.7 861L401.5 861.3ZM434.7 861L443.7 859.6L449.9 861L443.7 863.7ZM441.4 855.8L443.7 855L448 855.8L443.7 856.3ZM454.8 840.1L457.8 836.9L460.6 840.1L457.8 841ZM414.7 834.9L415.6 834.6L416.7 834.9L415.6 835.7ZM466.9 798.4L471.9 797.9L472.4 798.4L471.9 798.8ZM654.9 892.8L669 893.8L675.7 892.3L669 887.8L654.9 889.9L654 892.3ZM654.9 871.7L655.7 871.4L654.9 871.3L654.6 871.4ZM739.4 873.6L741.5 871.4L739.4 867.8L736.5 871.4ZM373.3 846.8L377.7 845.4L373.3 843.7L369.2 845.4ZM443.7 812.1L447.3 808.9L443.7 807.5L439.8 808.9ZM697.2 794.2L700.3 793.2L697.2 792L687.3 793.2ZM443.7 789L447 788L443.7 788L442 788Z" fill="#7ad151" stroke="#7ad151" stroke-width="0.6"/>
<path d="M218.4 1043.5L226.2 1043.5L218.4 1040.8L212.5 1043.5ZM246.6 1043.5L260.7 1043.5L274.7 1043.5L288.8 1043.5L300 1043.5L288.8 1040.9L276 1038.3L274.7 1038L268.5 1033.1L274.7 1029.9L286.9 1027.9L278.5 1022.6L274.7 1021.2L267.6 1022.6L260.7 1024.3L246.6 1026.5L243.3 1027.9L232.5 1031.8L224.8 1033.1L232.5 1035.3L246.6 1034.1L255.5 1038.3L246.6 1042.2L240.4 1043.5ZM556.4 1043.5L570.4 1043.5L584.5 1043.5L598.6 1043.5L608 1043.5L598.8 1038.3L599.4 1033.1L598.6 1032.7L584.5 1030.9L576.8 1033.1L570.4 1035.8L561.5 1038.3L556.4 1039.7L553 1043.5ZM809.8 1043.5L823.9 1043.5L838 1043.5L838 1041.7L823.9 1040.8L817.9 1038.3L823.4 1033.1L812.3 1027.9L810.8 1022.6L809.8 1022.6L809.7 1022.6L808.2 1027.9L805.1 1033.1L798.4 1038.3L799.8 1043.5ZM556.4 1034.9L559.5 1033.1L556.4 1030.6L555.2 1033.1ZM823.9 1021.3L827.9 1017.4L823.9 1016.7L820.1 1017.4ZM809.8 1008.5L816.3 1007L809.8 1005.6L806.4 1007ZM401.5 861.3L402.7 861L401.5 860.7L400.6 861ZM443.7 863.7L449.9 861L443.7 859.6L434.7 861ZM457.8 841L460.6 840.1L457.8 836.9L454.8 840.1ZM697.2 841.4L700.2 840.1L708.9 834.9L711.3 832.8L716 829.7L725.3 826.2L727.1 824.5L727.3 819.3L725.3 818.1L711.3 816.9L705.8 814.1L711.3 812.3L725.3 810.7L730.1 808.9L727.1 803.6L725.3 802.5L711.3 800.5L706.4 798.4L711.3 796.3L723 793.2L715 788L711.3 788L697.2 788L683.5 788L683.1 789L682.6 793.2L682.1 798.4L683.1 799.4L697.2 803.4L697.9 803.6L703.1 808.9L697.2 811.3L685.6 808.9L683.1 808.3L682.7 808.9L681.1 814.1L683.1 814.8L697.2 817.5L704.1 819.3L701.3 824.5L703.6 829.7L697.2 830.7L683.1 833L680.9 834.9L683.1 836L693.1 840.1ZM687.3 793.2L697.2 792L700.3 793.2L697.2 794.2ZM443.7 836.7L454.4 834.9L452.2 829.7L456.1 824.5L452.1 819.3L457.8 816.8L465.1 814.1L468.6 808.9L459 803.6L457.8 801.6L456.9 798.4L457.8 796.3L461.1 793.2L464.3 788L457.8 788L447 788L443.7 789L442 788L429.6 788L415.6 788L408.7 788L406.8 793.2L401.5 795.2L399.8 798.4L401.5 799.1L414.5 803.6L409.7 808.9L408 814.1L415.6 815L424.6 819.3L429.6 822.4L433.2 824.5L433.6 829.7L437.9 834.9ZM439.8 808.9L443.7 807.5L447.3 808.9L443.7 812.1ZM471.9 798.8L472.4 798.4L471.9 797.9L466.9 798.4Z" fill="#fde725" stroke="#fde725" stroke-width="0.6"/>
<path d="M397.4 1043.5L401.5 1042.2L415.6 1040.2L417.5 1038.3L415.6 1036.6L410.1 1033.1L408.4 1027.9L415.6 1026.3L429.6 1024.2L435.1 1027.9L429.6 1030.1L422.8 1033.1L429.6 1034.3L443.7 1037.5L448.1 1038.3L457.8 1040.4L471.9 1038.4L476.5 1043.5M683.8 1043.5L683.1 1043.2L673.2 1038.3L683.1 1035.6L690.1 1033.1L697.2 1031L704.9 1033.1L711.3 1033.7L723.9 1033.1L725.3 1032.7L725.6 1033.1L725.3 1033.2L720.5 1038.3L725.3 1041.4L739.4 1043.5L739.5 1043.5M838 856.4L826 861L823.9 863.5L820.8 861L809.8 856.3L808.9 855.8L809.8 855.2L818.8 850.6L823.9 847.1L829.7 850.6L838 854.6M838 798.6L823.9 803.2L821.4 803.6L815.7 808.9L823.9 809.4L830.6 814.1L830.4 819.3L830.9 824.5L830.9 829.7L825.3 834.9L823.9 835.8L821 834.9L809.8 831.5L801.9 829.7L805.6 824.5L809.8 819.3L810 819.3L809.8 819.3L802.5 814.1L795.8 810.9L788.1 808.9L795.8 806.4L805.6 803.6L806.5 798.4L795.8 795.8L789.8 793.2L791.8 788M293.2 788L297.4 793.2L302.9 794.5L308.2 798.4L302.9 802.2L292.5 803.6L288.8 804.2L281.2 808.9L288.8 812.7L295.5 814.1L288.8 815.3L277.7 819.3L276.8 824.5L274.7 826.6L260.7 828.2L259.2 824.5L246.6 820L233.4 824.5L232.5 826L228.3 829.7L218.4 832.9L211.9 829.7L212.1 824.5L218.4 822.2L228.5 819.3L230.6 814.1L218.4 810.3L214.3 808.9L216 803.6L204.5 798.4L204.3 795.9L203.9 793.2L196.1 788M613.2 788L612.7 790.2L611.6 793.2L605.9 798.4L598.6 801.7L592.5 803.6L598.6 807.2L601.2 808.9L605 814.1L605.6 819.3L598.6 823.3L584.5 824L573.7 824.5L584.5 825L598.6 826.2L607.1 829.7L601.1 834.9L601.4 840.1L598.6 840.9L589 845.4L585.9 850.6L584.5 851.2L580.7 850.6L572.1 845.4L570.4 844.2L556.4 840.9L555 840.1L556.4 839.9L567.1 834.9L570.4 831.9L576.1 829.7L570.4 824.7L556.4 825.4L549.9 824.5L556.4 822.2L570.4 824.1L575 819.3L570.4 817.4L556.4 817.4L551.9 814.1L556.4 810.5L570.4 810.6L579.9 808.9L570.4 806.5L556.4 804.9L554.5 803.6L556.4 802.6L560.1 798.4L556.4 794.9L553 793.2L547.4 788M832.1 788L838 790.3M274.7 874.3L266.4 871.4L260.7 866.7L259.9 866.2L260.7 864.3L262.8 866.2L274.7 867.6L279.4 871.4L274.7 874.3M260.7 859.5L254.8 855.8L260.7 853L267.8 855.8L260.7 859.5M809.8 845.8L808.6 845.4L809.8 843.9L813.1 845.4L809.8 845.8M232.5 840.5L230.1 840.1L232.5 839.8L234.2 840.1L232.5 840.5M584.5 837.7L591.2 834.9L584.5 833.4L580.1 834.9L584.5 837.7M246.6 833.7L237.3 829.7L246.6 828.4L258.9 829.7L246.6 833.7M288.8 831.2L283.4 829.7L288.8 829L293.1 829.7L288.8 831.2M246.6 816.8L248.8 814.1L246.6 812.3L237.1 814.1L246.6 816.8M246.6 799.2L248.1 798.4L246.6 797.4L244.1 798.4L246.6 799.2M260.7 793.7L262.3 793.2L260.7 792.8L258.4 793.2L260.7 793.7M570.4 793.4L570.9 793.2L570.4 792.7L568.2 793.2L570.4 793.4M374.4 1043.5L378.8 1038.3L387.4 1034.3L390.3 1033.1L387.4 1030.4L384.4 1027.9L386.5 1022.6L387.4 1022.2L401.5 1017.6L402 1017.4L401.5 1017.3L394.6 1012.2L398.3 1007L401.5 1005.8L415.6 1002.8L417.4 1001.8L415.6 999.8L407.6 996.6L415.6 995.7L428.6 991.4L429.6 990.7L443.7 988.7L453.6 991.4L457.8 994.2L471.9 994.8L481.9 996.6L479 1001.8L471.9 1005L469 1007L471.9 1008L486 1010.7L490.2 1012.2L497.7 1017.4L486 1022L485.1 1022.6L485.5 1027.9L486 1028.1L489 1033.1L486 1038.2L485.9 1038.3L486 1038.5L488.1 1043.5M665.1 1043.5L659 1038.3L663.3 1033.1L662.4 1027.9L665.8 1022.6L669 1018.9L672.9 1017.4L675 1012.2L669 1008.8L666.7 1007L669 1005.7L681.9 1001.8L683.1 1001.2L687.9 1001.8L693.4 1007L697.2 1007.7L699.5 1007L704.5 1001.8L697.2 1000.1L692.2 996.6L683.1 991.4L697.2 990L706.7 986.1L708.8 980.9L711.3 979.8L725.3 980.4L726.3 980.9L728.9 986.1L734.9 991.4L726.4 996.6L728.9 1001.8L731.5 1007L739.4 1010.2L741.5 1012.2L746.8 1017.4L745.5 1022.6L739.6 1027.9L744.6 1033.1L739.4 1035.2L734.2 1038.3L739.4 1039.4L748.1 1043.5M838 900.3L823.9 901.3L809.8 899.5L795.8 899.9L793 897.5L795.8 893.8L809.8 892.9L811 892.3L809.8 891.2L795.8 887.2L795.7 887.1L781.7 883.3L778.9 881.9L781.2 876.6L781.7 875L789.2 871.4L795.8 870L800.6 866.2L795.8 863.5L781.7 863.7L775.2 861L781.7 857.4L788.4 855.8L781.7 851.9L779.6 850.6L781.7 849.5L786.5 845.4L781.7 842.9L777.7 840.1L781.4 834.9L779 829.7L781.7 825.6L782.9 824.5L783.5 819.3L782.7 814.1L781.7 813.8L774.9 808.9L777.9 803.6L779.3 798.4L777.9 793.2L778.6 788M838 884.5L826.8 887.1L836.7 892.3L838 893.3M148 838.5L155.7 840.1L162.1 843.6L168.1 840.1L162.1 837.4L158.3 834.9L162.1 831.4L165.2 829.7L170.5 824.5L176.2 821.1L178.7 819.3L176.2 816.9L169.8 814.1L162.1 810.9L158.7 808.9L160.8 803.6L162.1 801.2L165 798.4L162.1 797.8L160.4 798.4L148 800.7M148 826.3L154.7 829.7L148 830.4M148 817.9L158 819.3L148 823.4M148 789.9L162.1 790.2L166.1 788M341.1 788L341.8 793.2L331.1 795.2L326.8 798.4L331.1 802L333.5 803.6L331.1 807.9L317 808.5L314.8 808.9L317 809.2L331.1 809.4L333.7 814.1L332.1 819.3L331.1 819.4L317 822.4L313 824.5L317 825.9L326.3 829.7L327.9 834.9L317 839.7L316.4 840.1L316.3 845.4L317 845.6L320.2 850.6L318.8 855.8L331.1 860L332.8 861L331.1 861.7L317 863.9L314 866.2L302.9 871.2L301.1 871.4L299.4 876.6L288.8 880.7L274.7 880.4L267.3 881.9L273.8 887.1L272.8 892.3L268.7 897.5L262.3 902.7L274.7 906.8L276.7 907.9L274.7 910.8L260.7 911L246.6 909.7L232.5 910.6L226.1 907.9L232.5 903.1L236.7 902.7L232.5 902.5L223.7 897.5L218.4 893.7L210 892.3L213.5 887.1L204.3 884.1L192.1 887.1L190.2 888.2L186.9 887.1L180.2 881.9L190.2 878.9L204.3 878.7L218.4 879.5L220.4 876.6L218.4 874L204.3 874.4L190.2 875L176.2 873.8L162.1 872.9L160 871.4L157.3 866.2L162.1 863.5L169.1 866.2L176.2 867.4L187.6 866.2L182.5 861L180.2 855.8L190.2 851.6L190.5 850.6L190.2 850.5L176.2 848.3L162.1 846.9L156 845.4L148 843.5M626.8 788L640.9 792.1L643 793.2L640.9 794.3L626.8 794.1L623.8 798.4L623.7 803.6L626.8 804.9L633.3 808.9L626.8 810.4L618.9 814.1L626.8 818.6L629.3 819.3L628.8 824.5L626.8 825.7L620.9 829.7L626.8 833.8L630.2 834.9L629.3 840.1L631.1 845.4L627.5 850.6L626.8 851.5L613.8 855.8L621.8 861L626.8 864.2L629.6 866.2L627.2 871.4L626.8 871.7L616.4 876.6L612.7 880.1L603 876.6L598.6 875.8L596.6 876.6L589.9 881.9L598.6 883.8L611.1 887.1L612.7 888.8L622 892.3L612.7 892.8L601.9 897.5L598.6 900.2L593.1 897.5L584.5 896.1L579 897.5L571 902.7L570.4 903.1L568.1 902.7L556.4 900.8L542.8 902.7L542.3 902.8L542.2 902.7L540.8 897.5L542.3 896.8L555.7 892.3L556.4 892.2L564.7 887.1L570.4 882.7L578.9 881.9L570.4 880.3L556.4 880.1L550 876.6L542.3 873.2L528.2 871.5L528 871.4L528.2 871.1L542.3 868.4L547.7 866.2L542.3 863.9L537.6 861L533.7 855.8L535.2 850.6L528.2 847.5L526 845.4L528.2 843.2L534.6 840.1L533.6 834.9L540.1 829.7L532.5 824.5L528.3 819.3L541.3 814.1L528.2 811L525.5 808.9L528.2 807.6L536.5 803.6L528.2 799.1L526.5 798.4L526.1 793.2L528.2 789L528.9 788M683.1 1028.5L685 1027.9L683.1 1027.2L680 1027.9L683.1 1028.5M457.8 1022.7L457.9 1022.6L457.8 1022.6L457.7 1022.6L457.8 1022.7M711.3 997L715.5 996.6L711.3 996.4L710.7 996.6L711.3 997M429.6 976.4L428.2 975.7L429.6 975L443.7 974.7L453 975.7L443.7 977.5L429.6 976.4M683.1 975.8L682.2 975.7L683.1 975.3L683.7 975.7L683.1 975.8M232.5 931.2L225.2 928.8L232.5 924L241.4 928.8L232.5 931.2M260.7 928.4L254.7 923.6L260.7 922.3L262.6 923.6L260.7 928.4M598.6 924.8L595.8 923.6L598.6 922.3L602.7 923.6L598.6 924.8M274.7 919.4L270.2 918.4L274.7 915L279.5 918.4L274.7 919.4M317 918.5L315.7 918.4L317 917.8L318 918.4L317 918.5M570.4 914.7L566.9 913.1L570.4 910.9L575.4 907.9L584.5 905.2L594.1 907.9L589.5 913.1L584.5 915.1L570.4 914.7M795.8 913.9L792.1 913.1L795.8 910.2L799.3 913.1L795.8 913.9M823.9 915.9L818.8 913.1L815.7 907.9L823.9 905L836.5 907.9L828.4 913.1L823.9 915.9M204.3 908.5L203.1 907.9L204.3 907.3L206.6 907.9L204.3 908.5M162.1 903.5L160.5 902.7L162.1 901.4L165 902.7L162.1 903.5M612.7 902.8L611.4 902.7L612.7 902.6L612.9 902.7L612.7 902.8M204.3 898.5L200.6 897.5L204.3 894.1L208.9 897.5L204.3 898.5M288.8 897.7L287.9 897.5L277.4 892.3L288.8 887.6L295.9 892.3L289.4 897.5L288.8 897.7M246.6 893L247.8 892.3L248.7 887.1L246.6 885.7L244.3 887.1L245 892.3L246.6 893M317 891L311.8 887.1L317 885.8L322.1 887.1L317 891M331.1 882.3L330.3 881.9L331.1 881.1L331.7 881.9L331.1 882.3M331.1 873.7L326.1 871.4L331.1 870.4L335.1 871.4L331.1 873.7M823.9 871.9L824.9 871.4L823.9 871.3L823.4 871.4L823.9 871.9M204.3 867.4L210.3 866.2L204.3 865.7L194.4 866.2L204.3 867.4M584.5 861.6L585.7 861L584.5 860.3L582.5 861L584.5 861.6M162.1 859.8L157.1 855.8L162.1 852.7L175.3 855.8L162.1 859.8M204.3 841.1L205 840.1L204.3 839.8L203.5 840.1L204.3 841.1M190.2 835.1L190.6 834.9L190.2 834.8L189.1 834.9L190.2 835.1M556.4 835.8L558.2 834.9L556.5 829.7L556.4 829.7L555.6 829.7L552.5 834.9L556.4 835.8M190.2 805.2L193.7 803.6L190.2 801.6L186.9 803.6L190.2 805.2M343.9 1043.5L345.1 1042.1L349.2 1038.3L345.1 1034.5L344.1 1033.1L345.1 1031.7L347.8 1033.1L359.2 1035.1L365.1 1033.1L359.2 1030L351.9 1027.9L345.1 1024.9L342.1 1022.6L345.1 1020.2L352 1022.6L359.2 1024.9L363.7 1022.6L359.2 1019.9L352.6 1017.4L352.3 1012.2L353.5 1007L345.1 1004.6L334.6 1001.8L331.1 998.5L329.3 996.6L331.1 994.1L335.1 996.6L345.1 998.3L359.2 998.7L368.4 996.6L362.6 991.4L373.3 988.1L376.6 986.1L373.3 983.8L368.1 980.9L359.2 977L349.2 975.7L359.2 972.7L373.3 973.2L378.4 970.5L383.2 965.3L373.3 962.3L366.3 960.1L359.2 957.9L354 960.1L345.1 961.8L334.9 960.1L342.3 954.9L331.1 950.3L317 951.6L302.9 953.9L288.8 950.8L274.7 954.3L260.7 950.4L254.4 949.6L260.7 946.7L262.2 944.4L260.7 943.8L251.1 939.2L246.6 936.8L241.3 939.2L244 944.4L232.5 947.1L223.3 944.4L218.4 942.8L212.8 944.4L218.4 947.6L222.3 949.6L218.4 952.1L214.7 954.9L218.4 956.7L225.6 954.9L232.5 953.3L246.6 952.2L249.1 954.9L246.6 957.4L232.5 957.9L228.5 960.1L218.4 962.2L211 960.1L204.3 958.2L190.2 959.7L180.1 954.9L190.2 950.8L194.1 949.6L190.2 948.7L183.6 944.4L176.2 939.9L173.1 939.2L163.6 934L162.1 931.9L148 933.6M650.7 1043.5L648.6 1038.3L642.1 1033.1L646.4 1027.9L654.9 1022.8L655.1 1022.6L654.9 1022.5L640.9 1019.1L640.1 1017.4L640.9 1016.9L650.8 1012.2L654.9 1009.1L656.3 1007L654.9 1005.7L648.8 1001.8L652.6 996.6L648 991.4L640.9 986.4L640.2 986.1L640.9 986L654.9 986L666 980.9L654.9 978.2L650.7 975.7L654.9 973.7L662.1 970.5L654.9 967.8L644.1 965.3L654.9 962.3L667.5 960.1L654.9 958.2L646.6 954.9L654.9 951.2L669 953.6L677.3 949.6L676.3 944.4L683.1 942.8L697.2 941.7L711.3 944.4L715.5 944.4L724 949.6L725.3 954.8L728.6 949.6L739.4 947.8L753.3 949.6L747.6 954.9L751.9 960.1L746.9 965.3L753.5 967.1L767.3 970.5L767.6 970.7L773.7 975.7L774.4 980.9L767.6 984L762.1 986.1L765.1 991.4L764.7 996.6L766 1001.8L767.6 1005.1L768.6 1007L768.3 1012.2L767.6 1012.8L760.5 1017.4L763.2 1022.6L756.8 1027.9L762.4 1033.1L763.5 1038.3L767.6 1043.4L767.6 1043.5M148 975.8L153 980.9L150.1 986.1L148 987.8M838 978.1L831.7 975.7L838 973.4M838 966.9L835.4 965.3L836.5 960.1L838 958.7M838 953.2L833.5 954.9L823.9 957L810.5 954.9L809.8 954.7L795.8 950.7L782.9 954.9L785.7 960.1L781.7 961.2L767.6 960.4L765.5 960.1L767.6 959.7L778.2 954.9L773.5 949.6L776.8 944.4L771.4 939.2L767.6 934L753.5 936.5L745.4 934L753.5 930.4L755.5 928.8L756.7 923.6L767.6 920.2L777.4 918.4L767.8 913.1L767.6 912.9L762.9 907.9L762.4 902.7L753.5 898.9L752.5 897.5L753.5 894.8L754.7 892.3L761 887.1L765 881.9L767.6 881.4L770.7 876.6L767.6 873.9L762.3 871.4L767.6 867.8L770.3 866.2L767.6 865L762.7 861L760.6 855.8L753.5 851.1L751.9 850.6L753.5 850L763.1 845.4L766.2 840.1L761.5 834.9L766.2 829.7L760.7 824.5L767.6 820.9L769.9 819.3L767.6 817.7L758.5 814.1L764.8 808.9L767.6 806.7L770 803.6L768.1 798.4L767.6 797.6L763.6 793.2L762.6 788M148 935.1L153.3 939.2L162.1 942.4L165.6 944.4L163.3 949.6L169.4 954.9L162.1 956.3L153.6 960.1L148 961.8M148 925.4L162.1 926.8L168.3 923.6L162.1 922.1L155.9 918.4L148 914.7M148 903.6L148.2 902.7L148 902.4M148 876.8L148.3 876.6L148 876.4M361.3 788L363.4 793.2L359.2 796.5L353.7 798.4L359.2 799.4L368.2 803.6L359.2 808.6L358.6 808.9L359.2 809.3L364.2 814.1L361.6 819.3L359.2 820.9L353.2 824.5L357.9 829.7L358.4 834.9L359.2 835.5L364.1 840.1L359.2 842L351 845.4L359.2 848.1L365.9 850.6L362.4 855.8L362.2 861L373.3 866L373.7 866.2L373.3 867.1L368 871.4L359.2 873.2L355.1 876.6L359.2 880.4L370.6 881.9L359.2 884.4L345.1 883.3L340.1 887.1L345.1 889.2L359.2 890.2L362.8 892.3L359.2 894.4L354.4 897.5L351.1 902.7L358.3 907.9L345.1 912.8L332.6 907.9L331.1 906L326.7 907.9L331 913.1L331.1 913.2L343.8 918.4L345.1 923.1L347.5 918.4L359.2 913.7L360 913.1L368.8 907.9L373.3 907.7L374.5 907.9L381.1 913.1L373.3 915.9L364.6 918.4L373.3 922.8L374.7 923.6L387.4 926.5L394.5 928.8L390 934L387.4 934.9L373.3 935.3L368.1 934L359.2 931.7L345.1 930.5L331.1 930.3L326.6 928.8L320.8 923.6L317 922.4L306.5 923.6L309.5 928.8L317 931.6L323 934L331.1 937.3L335.8 939.2L345.1 942.4L349.8 944.4L359.2 948.2L373.3 946.7L381.3 949.6L376.5 954.9L387.4 958.7L397.6 960.1L389.8 965.3L401.5 968.3L410.1 965.3L415.6 960.4L416.7 960.1L415.6 959.3L401.5 956.2L400.9 954.9L401.5 954.5L415.6 953.2L429.6 950.5L443.7 954.2L452.1 949.6L457.8 947.9L463.9 944.4L471.9 942.8L478.5 944.4L486 948.3L491.2 949.6L500 954.4L502.8 949.6L500 946.7L495.9 944.4L486 942L480.9 939.2L486 934.3L486.5 934L488.2 928.8L500 924.5L501.8 923.6L506.6 918.4L514.1 914.7L520.3 913.1L514.1 910.4L508.7 907.9L501 902.7L500 899.7L498.8 897.5L500 894L503.6 892.3L500 891.7L498 887.1L500 886.4L513.9 881.9L514.1 880.3L515.9 876.6L514.6 871.4L514.1 871.1L507.4 866.2L512.7 861L510.4 855.8L514.1 854.3L520.9 850.6L515.8 845.4L514.1 844.1L508.6 840.1L507.4 834.9L514.1 829.8L514.3 829.7L514.1 829.6L511 824.5L511.6 819.3L513.4 814.1L514.1 812.7L515.5 808.9L516.9 803.6L514.1 802.3L510.8 798.4L512.2 793.2L513.1 788M655.6 788L654.9 788.5L651 793.2L640.9 798.4L640.8 798.4L640.9 798.5L645.4 803.6L648.3 808.9L654.9 812.2L658.2 814.1L654.9 816.3L648.3 819.3L640.9 823.7L640 824.5L640.9 825.4L644.8 829.7L648.6 834.9L647.2 840.1L640.9 844.7L640.2 845.4L634.2 850.6L640.9 854.4L648.2 855.8L646.5 861L640.9 865.6L640.6 866.2L639.4 871.4L640.9 876.5L641 876.6L649.7 881.9L643.1 887.1L641.7 892.3L640.9 893.5L636.9 897.5L640.9 899.2L651.3 902.7L648.6 907.9L654.9 912.4L657.1 913.1L666.5 918.4L657.6 923.6L658.2 928.8L657.5 934L654.9 936.6L650.6 939.2L651.2 944.4L640.9 947.8L626.8 949.5L612.7 949.2L609.8 949.6L612.7 951.2L618.9 954.9L626.8 957.2L633.5 960.1L626.8 965.2L612.7 961.1L598.6 961.1L584.5 964L570.4 962.8L561.3 960.1L570.4 955.7L584.5 958.8L598.6 957.8L607.4 954.9L598.6 952.2L584.5 951.1L570.4 950.7L565.4 949.6L556.4 949.3L542.3 945.5L539.2 944.4L535.7 939.2L528.2 937.5L522.9 939.2L518.2 944.4L528.2 946.7L536 949.6L542.3 950.8L553.7 954.9L542.3 957.6L532.5 954.9L528.2 952L514.1 953.9L501.5 954.9L514.1 956.7L518.9 960.1L514.1 962.4L504.3 965.3L500 969.7L499.1 970.5L500 970.7L513.8 975.7L514.1 976L524.1 980.9L528.2 984.9L530.5 986.1L528.2 986.7L522.9 991.4L514.1 993.6L502.8 996.6L511.2 1001.8L500 1006L496.5 1007L500 1008.2L514.1 1010.7L517.3 1012.2L528.2 1015.2L532.9 1017.4L528.2 1018.8L515.1 1022.6L514.1 1024.8L509.4 1027.9L500 1030.6L498.3 1033.1L500 1035.7L505.6 1038.3L514.1 1041L517.4 1043.5M640.9 1008.6L636.1 1007L640.9 1005.4L649.6 1007L640.9 1008.6M345.1 992.6L339.2 991.4L341 986.1L331.1 984L317 981.1L316.5 980.9L317 980.2L331.1 977.8L345.1 977.4L348.1 980.9L348.5 986.1L350.1 991.4L345.1 992.6M500 986.7L505.2 986.1L500 984.1L497.6 986.1L500 986.7M387.4 981.3L389.2 980.9L387.4 980.3L385.3 980.9L387.4 981.3M739.4 981L753.5 983.3L760.5 980.9L763 975.7L753.5 973.1L746 970.5L739.4 967.4L734.3 970.5L739.4 974.4L742.7 975.7L739.4 980.5L739.3 980.9L739.4 981M626.8 978.1L622.4 975.7L626.8 973.6L630.4 975.7L626.8 978.1M176.2 971L175 970.5L162.1 967.2L155.6 965.3L162.1 962.6L176.2 962.2L189.6 965.3L179.3 970.5L176.2 971M260.7 970.7L248.9 970.5L257 965.3L260.7 963L265.8 965.3L262.2 970.5L260.7 970.7M317 968.9L310.8 965.3L302.9 964.5L288.8 960.3L274.7 960.5L273.4 960.1L274.7 958.1L288.8 959.8L302.9 955.5L311.4 960.1L317 964.4L319 965.3L317 968.9M443.7 969.8L457.8 966.9L466.9 965.3L457.8 964L443.7 963.6L440.5 965.3L443.7 969.8M486 967.6L495.3 965.3L487.5 960.1L486 959.2L471.9 956.9L468.1 960.1L471.9 963.6L476.6 965.3L486 967.6M809.8 965.9L808.9 965.3L809.8 964.9L810.2 965.3L809.8 965.9M711.3 955.3L725.1 954.9L711.3 954.6L709.7 954.9L711.3 955.3M697.2 951.8L700.4 949.6L697.2 946.8L688.2 949.6L697.2 951.8M401.5 946.8L398 944.4L395.6 939.2L401.5 936.8L409.2 934L415.6 930.5L419.5 934L415.9 939.2L415.6 940.8L414.5 944.4L401.5 946.8M753.5 949.4L751.3 944.4L753.5 943.3L755.2 944.4L753.5 949.4M317 940.5L320 939.2L317 938.3L316.2 939.2L317 940.5M457.8 942.5L449.2 939.2L457.8 935.4L462.9 939.2L457.8 942.5M570.4 941.6L577.1 939.2L570.4 936.8L565.3 939.2L570.4 941.6M598.6 941L610.8 939.2L598.6 937.5L592.4 939.2L598.6 941M669 941L665.3 939.2L669 938.8L671.8 939.2L669 941M471.9 934.4L468 934L471.9 932.5L481.7 934L471.9 934.4M542.3 936.6L544.7 934L542.3 933.3L538.1 934L542.3 936.6M725.3 937.1L718.9 934L725.3 931.6L733.9 934L725.3 937.1M823.9 934.8L827.5 934L823.9 933.2L821.2 934L823.9 934.8M626.8 931.4L640.9 932L650.9 928.8L640.9 924L626.8 926.6L621.5 928.8L626.8 931.4M429.6 924L428.9 923.6L429.6 922.9L430.1 923.6L429.6 924M387.4 918.7L386 918.4L387.4 917.8L388.9 918.4L387.4 918.7M528.2 918.5L528.3 918.4L528.2 918.3L528.1 918.4L528.2 918.5M640.9 922L643.9 918.4L640.9 917.1L636.2 918.4L640.9 922M500 913.7L498.3 913.1L500 912.4L502.8 913.1L500 913.7M626.8 903.4L628.9 902.7L626.8 902L625.7 902.7L626.8 903.4M626.8 887.6L632.4 887.1L626.8 885.8L625.3 887.1L626.8 887.6M345.1 866.5L348.1 866.2L345.1 865.4L343.5 866.2L345.1 866.5M654.9 866.3L648.3 866.2L654.9 865.8L655.2 866.2L654.9 866.3M345.1 851.3L346.5 850.6L345.1 849.9L343.4 850.6L345.1 851.3M328.2 1043.5L324.1 1038.3L326.5 1033.1L318.3 1027.9L317 1026.8L311.3 1022.6L317 1019.9L330.5 1017.4L317 1015.9L303.8 1017.4L302.9 1017.6L296.7 1017.4L297 1012.2L302.9 1011.3L317 1007.9L320.4 1007L320.2 1001.8L317 999.6L308.9 1001.8L302.9 1002.9L296.9 1001.8L288.8 1000.2L284.3 1001.8L280.4 1007L274.7 1011L264.8 1007L266.2 1001.8L274.7 996.6L260.7 994.1L246.6 992L235.1 996.6L246.6 999.8L254.7 1001.8L246.6 1005.7L232.5 1003.4L218.5 1001.8L218.4 1001.8L204.3 1000.2L190.2 999.7L185 1001.8L190.2 1003.6L198.9 1007L192.4 1012.2L190.2 1016.2L185.7 1012.2L176.4 1007L176.2 1006.9L176.1 1007L172.6 1012.2L162.1 1016.1L157.8 1017.4L162.1 1018.6L175.9 1022.6L176.2 1023.1L179.8 1027.9L176.2 1030.7L162.1 1031.4L151.2 1033.1L154.8 1038.3L148 1041.6M631.6 1043.5L626.8 1040.5L623.1 1038.3L621.5 1033.1L624.4 1027.9L616.8 1022.6L623.1 1017.4L612.7 1014.7L608.8 1012.2L602 1007L602 1001.8L598.6 1000.4L584.5 1000.5L574.2 996.6L570.4 995L562.8 991.4L556.4 989.4L546.3 991.4L552.7 996.6L556.4 997.8L568.5 1001.8L564.7 1007L556.4 1010.5L542.3 1009.5L538.7 1012.2L542.3 1014.2L546.6 1017.4L548.5 1022.6L546.9 1027.9L542.3 1031.6L534.2 1033.1L532.4 1038.3L542.3 1042.7L543.7 1043.5M838 1013.8L823.9 1013.5L811.2 1012.2L823.9 1010L838 1009.6M838 1004.8L830 1001.8L828.4 996.6L823.9 994.4L809.8 995L807.3 996.6L809.8 999L813.2 1001.8L809.8 1002L797.5 1007L795.8 1008.5L782.2 1012.2L789.5 1017.4L781.7 1021.8L779.9 1022.6L781.7 1023.4L791.5 1027.9L781.7 1032.5L780.3 1033.1L780.7 1038.3L779 1043.5M392.7 788L387.4 790.5L379.7 793.2L387.4 797.5L388.3 798.4L400.7 803.6L387.4 807.5L385.3 808.9L387.4 810.2L390 814.1L387.4 816.8L380.5 819.3L380.4 824.5L387.4 827L392.7 829.7L387.4 833.8L373.3 833.4L371.4 834.9L373.3 836.8L387.4 838.5L391.9 840.1L392.6 845.4L399.4 850.6L401.5 855L401.7 855.8L401.5 855.8L387.4 861L387.4 861.2L386.9 866.2L382.2 871.4L387.4 874.4L394.3 876.6L401.5 879L415.1 876.6L415.6 876L429.6 872.2L432.6 876.6L429.6 877.8L419.5 881.9L415.6 883.5L401.5 884.5L393.2 887.1L401.5 890.5L410.9 892.3L415.6 893.3L429.6 893.9L443.7 894.5L457.5 892.3L457.8 892.2L467 887.1L471.9 886.1L483.4 881.9L479.3 876.6L479.1 871.4L472.5 866.2L471.9 866.1L462.2 861L466.8 855.8L471.9 850.7L472.3 850.6L486 845.4L486 845.4L490.4 840.1L486 839.5L478.2 834.9L486 832.2L492 829.7L487.6 824.5L494.6 819.3L496 814.1L486 812.5L481.4 808.9L486 803.9L487.8 803.6L486.2 798.4L486 796.7L485.6 793.2L486 793.1L500 789.9L502.7 788M668.6 788L669 788.6L672.2 793.2L669 795.7L654.9 796.6L651.8 798.4L654.9 800L662.2 803.6L668 808.9L669 812.5L669.2 814.1L669 814.2L662 819.3L665.6 824.5L655.5 829.7L665.7 834.9L662.6 840.1L669 842.5L674.9 845.4L669 848.5L665.8 850.6L669 853.4L672.7 855.8L669 858.5L666.4 861L667.8 866.2L669 867.3L676.7 871.4L669 874.6L664 876.6L669 878.4L682.3 881.9L683.1 882.5L692.1 887.1L697.2 888.4L711.3 891.5L714.7 892.3L711.3 894L697.2 895.5L689.2 897.5L688.6 902.7L683.1 905.9L679.6 907.9L683.1 909.1L688.6 907.9L697.2 906L711.3 903.6L725.3 904.5L729.4 902.7L729.5 897.5L734.1 892.3L725.3 889.1L721.9 887.1L725.3 884.6L729.7 881.9L732.6 876.6L725.3 875.2L711.3 871.5L711.1 871.4L711.3 871.3L725.3 868L736.7 866.2L725.3 861.7L723.2 861L725.3 860.2L734.6 855.8L732.6 850.6L739.4 846.2L741.6 845.4L739.4 843.7L734.8 840.1L739.4 835.2L739.8 834.9L743.7 829.7L739.4 827.1L737 824.5L739.4 819.3L739.4 819.3L746 814.1L750.3 808.9L739.4 804L739.1 803.6L739.4 803.3L746.1 798.4L739.4 795.4L736.1 793.2L739.4 790.3L747.1 788M190.2 1022.7L187.4 1022.6L190.2 1022.1L190.3 1022.6L190.2 1022.7M528.2 1024.5L535.4 1022.6L528.2 1022.4L527.4 1022.6L528.2 1024.5M598.6 1023.6L597 1022.6L598.6 1021.9L604 1022.6L598.6 1023.6M162.1 1002.3L165.8 1001.8L162.1 1000.2L160.5 1001.8L162.1 1002.3M218.4 993.3L224.4 991.4L218.4 986.6L206.2 991.4L218.4 993.3M584.5 991.9L598.6 994.6L604.7 991.4L598.6 990.4L584.5 990.5L583 991.4L584.5 991.9M232.5 986.8L234.2 986.1L232.5 985.1L223.3 986.1L232.5 986.8M274.7 991L282.6 986.1L274.7 983.2L269.1 986.1L274.7 991M302.9 989L307.2 986.1L302.9 984.4L296.9 986.1L302.9 989M823.9 987L825.2 986.1L823.9 984.9L821.7 986.1L823.9 987M570.4 982.3L572.8 980.9L570.4 979.6L566.3 980.9L570.4 982.3M795.8 978.3L800 975.7L795.8 973.9L792.2 975.7L795.8 978.3M457.8 914L462 913.1L457.8 908L453.8 913.1L457.8 914M697.2 915.9L711.3 916.5L717.2 913.1L711.3 911.7L697.2 910.7L693.2 913.1L697.2 915.9M415.6 911.2L416.7 907.9L415.6 907L414.1 907.9L415.6 911.2M429.6 903.3L434.1 902.7L429.6 900.6L426.2 902.7L429.6 903.3M401.5 898.4L403.6 897.5L401.5 896.1L396.6 897.5L401.5 898.4M471.9 898.5L473.9 897.5L471.9 896.5L460.8 897.5L471.9 898.5M654.9 892.8L669 893.8L675.7 892.3L669 887.8L654.9 889.9L654 892.3L654.9 892.8M443.7 890.2L437.3 887.1L443.7 884.3L451.4 887.1L443.7 890.2M401.5 872.5L399.2 871.4L392 866.2L401.5 865.9L402.8 866.2L408.6 871.4L401.5 872.5M457.8 872.7L455.8 871.4L457.8 869.3L461.7 871.4L457.8 872.7M654.9 871.7L655.7 871.4L654.9 871.3L654.6 871.4L654.9 871.7M739.4 873.6L741.5 871.4L739.4 867.8L736.5 871.4L739.4 873.6M443.7 856.3L441.4 855.8L443.7 855L448 855.8L443.7 856.3M711.3 851L710 850.6L711.3 850.3L713 850.6L711.3 851M373.3 846.8L377.7 845.4L373.3 843.7L369.2 845.4L373.3 846.8M415.6 835.7L414.7 834.9L415.6 834.6L416.7 834.9L415.6 835.7M226.2 1043.5L218.4 1040.8L212.5 1043.5M300 1043.5L288.8 1040.9L276 1038.3L274.7 1038L268.5 1033.1L274.7 1029.9L286.9 1027.9L278.5 1022.6L274.7 1021.2L267.6 1022.6L260.7 1024.3L246.6 1026.5L243.3 1027.9L232.5 1031.8L224.8 1033.1L232.5 1035.3L246.6 1034.1L255.5 1038.3L246.6 1042.2L240.4 1043.5M608 1043.5L598.8 1038.3L599.4 1033.1L598.6 1032.7L584.5 1030.9L576.8 1033.1L570.4 1035.8L561.5 1038.3L556.4 1039.7L553 1043.5M838 1041.7L823.9 1040.8L817.9 1038.3L823.4 1033.1L812.3 1027.9L810.8 1022.6L809.8 1022.6L809.7 1022.6L808.2 1027.9L805.1 1033.1L798.4 1038.3L799.8 1043.5M408.7 788L406.8 793.2L401.5 795.2L399.8 798.4L401.5 799.1L414.5 803.6L409.7 808.9L408 814.1L415.6 815L424.6 819.3L429.6 822.4L433.2 824.5L433.6 829.7L437.9 834.9L443.7 836.7L454.4 834.9L452.2 829.7L456.1 824.5L452.1 819.3L457.8 816.8L465.1 814.1L468.6 808.9L459 803.6L457.8 801.6L456.9 798.4L457.8 796.3L461.1 793.2L464.3 788M447 788L443.7 789L442 788M683.5 788L683.1 789L682.6 793.2L682.1 798.4L683.1 799.4L697.2 803.4L697.9 803.6L703.1 808.9L697.2 811.3L685.6 808.9L683.1 808.3L682.7 808.9L681.1 814.1L683.1 814.8L697.2 817.5L704.1 819.3L701.3 824.5L703.6 829.7L697.2 830.7L683.1 833L680.9 834.9L683.1 836L693.1 840.1L697.2 841.4L700.2 840.1L708.9 834.9L711.3 832.8L716 829.7L725.3 826.2L727.1 824.5L727.3 819.3L725.3 818.1L711.3 816.9L705.8 814.1L711.3 812.3L725.3 810.7L730.1 808.9L727.1 803.6L725.3 802.5L711.3 800.5L706.4 798.4L711.3 796.3L723 793.2L715 788M556.4 1034.9L559.5 1033.1L556.4 1030.6L555.2 1033.1L556.4 1034.9M823.9 1021.3L827.9 1017.4L823.9 1016.7L820.1 1017.4L823.9 1021.3M809.8 1008.5L816.3 1007L809.8 1005.6L806.4 1007L809.8 1008.5M401.5 861.3L402.7 861L401.5 860.7L400.6 861L401.5 861.3M443.7 863.7L449.9 861L443.7 859.6L434.7 861L443.7 863.7M457.8 841L460.6 840.1L457.8 836.9L454.8 840.1L457.8 841M443.7 812.1L439.8 808.9L443.7 807.5L447.3 808.9L443.7 812.1M471.9 798.8L472.4 798.4L471.9 797.9L466.9 798.4L471.9 798.8M697.2 794.2L687.3 793.2L697.2 792L700.3 793.2L697.2 794.2" fill="none" stroke="#000" stroke-width="2" stroke-linejoin="round"/>
</g>
<g clip-path="url(#cc2)">
<path d="M781.7 1317.7L795.8 1319.4L809.8 1318.8L814.4 1316.2L809.8 1312.3L795.8 1315L781.7 1314.6L777.2 1316.2ZM823.9 1321.5L838 1321.5L838 1319.8L823.9 1319L814.8 1321.5ZM823.9 1312.9L838 1312.2L838 1311L838 1309.9L823.9 1309.4L812.9 1311ZM317 1264.9L330.6 1263.6L324.8 1258.3L331.1 1256.6L340.9 1258.3L345.1 1260.1L359.2 1262.2L373.3 1263.1L374.8 1263.6L387.4 1264.7L391.2 1263.6L387.4 1261.1L380.4 1258.3L387.4 1256L401.5 1255.9L412.3 1258.3L415.6 1260L418.3 1258.3L429.6 1254.2L434.4 1253L432.4 1247.8L429.6 1247.1L420.9 1242.5L421.2 1237.2L415.6 1234.4L406.6 1232L401.5 1229.2L398.9 1232L387.4 1234.3L378.7 1232L373.3 1230.8L359.3 1226.7L359.2 1226.7L359.1 1226.7L345.1 1230.7L337.6 1226.7L331.1 1225.9L323.7 1226.7L317 1230.2L302.9 1228.4L288.8 1227L287.5 1226.7L274.7 1225.8L270.7 1226.7L260.7 1231.7L246.6 1230.7L240.3 1232L232.5 1236.5L218.4 1232.6L205.1 1237.2L204.3 1237.5L203.8 1237.2L190.2 1232.2L178 1237.2L186.2 1242.5L190.1 1247.8L190.2 1247.8L204.3 1250.7L214.1 1253L215.9 1258.3L218.4 1259.9L232.5 1261.4L242.4 1258.3L246.6 1256.5L256.6 1253L260.7 1252L263.8 1253L261.6 1258.3L274.7 1259.5L288.8 1262.1L302.9 1262.2L304.7 1263.6ZM358.9 1247.8L359.2 1247.6L359.6 1247.8L359.2 1248.1ZM329.5 1237.2L331.1 1233.5L332.7 1237.2L331.1 1237.6ZM358.1 1237.2L359.2 1236.5L360.7 1237.2L359.2 1237.6ZM162.1 1255.1L167.8 1253L162.1 1251.3L159.1 1253ZM162.1 1244.1L166.6 1242.5L162.1 1240.5L157.9 1242.5ZM457.8 1235.1L461.9 1232L457.8 1230L452.1 1232ZM781.7 1196L793.3 1195.1L790.5 1189.8L795.8 1187.4L809.8 1187.4L815.8 1189.8L809.8 1194.8L807.2 1195.1L809.8 1195.1L823.9 1195.3L824.5 1195.1L838 1193.1L838 1189.8L838 1184.5L838 1179.3L838 1174.7L829 1174L823.9 1173.6L809.8 1174L809.7 1174L809.8 1174.2L823.9 1175.1L827.7 1179.3L823.9 1181.9L809.8 1181.2L795.8 1180.6L787.4 1184.5L781.7 1186.2L774.6 1184.5L767.6 1181.7L762.5 1184.5L767.6 1186.3L774.4 1189.8L768.3 1195.1ZM232.5 1148.1L242.9 1147.7L246.6 1147.2L260.7 1146.9L263.4 1147.7L274.7 1149.3L288.8 1148.2L302.9 1148.9L308.9 1147.7L317 1145.8L330 1147.7L331.1 1147.8L341.9 1147.7L345.1 1147.3L349.8 1147.7L359.2 1147.8L359.6 1147.7L373.1 1142.4L373.3 1142.3L378.6 1142.4L387.4 1142.6L401.5 1145.3L415.6 1144.1L428.6 1142.4L429.6 1142.1L443.7 1142.4L457.8 1141.7L470.9 1137.1L457.8 1132.9L444.3 1131.9L443.7 1131.8L443.4 1131.9L429.6 1134.6L424.5 1131.9L422.1 1126.6L415.6 1125.9L401.5 1124.5L387.4 1125.5L373.3 1125.5L362.4 1126.6L359.2 1127.1L356.5 1126.6L345.1 1125.5L333.2 1121.3L331.1 1120.6L324.3 1121.3L320.9 1126.6L317 1127.6L302.9 1127.9L294.2 1126.6L288.8 1125.6L274.7 1123.6L260.7 1123.9L246.6 1123.2L232.5 1123.5L225 1126.6L218.4 1129.8L204.3 1128.9L190.2 1130.3L176.2 1131.2L172.6 1131.9L175.1 1137.1L176.2 1138.1L180.6 1137.1L190.2 1136L195.7 1137.1L204.3 1140.8L206.7 1142.4L218.4 1144.8L230.1 1147.7ZM397.8 1137.1L401.5 1134L408 1137.1L401.5 1140.1ZM823.9 1101.3L838 1101.2L838 1100.3L838 1095L838 1089.7L838 1084.5L838 1082.5L823.9 1081.3L809.8 1084.1L807.8 1084.5L795.8 1089.7L786 1084.5L781.7 1083L778.6 1084.5L772 1089.7L781.7 1092L793.4 1095L795.8 1095.1L796.7 1095L809.8 1093.6L814.6 1095L812.6 1100.3Z" fill="#440154" stroke="#440154" stroke-width="0.6"/>
<path d="M654.9 1317.3L658.8 1316.2L654.9 1315.1L653.8 1316.2ZM683.1 1321L688.6 1316.2L690.2 1311L683.1 1309.5L673 1311L676.7 1316.2ZM711.3 1321.5L725.3 1321.5L739.4 1321.5L753.5 1321.5L767.6 1321.5L781.7 1321.5L795.8 1321.5L809.8 1321.5L814.8 1321.5L823.9 1319L838 1319.8L838 1316.2L838 1312.2L823.9 1312.9L812.9 1311L823.9 1309.4L838 1309.9L838 1305.7L838 1300.4L838 1295.2L838 1290.1L823.9 1294.8L812.4 1289.9L809.8 1289.3L807.6 1289.9L804 1295.2L795.8 1296.7L792.4 1295.2L781.7 1291.2L775.1 1295.2L769.8 1300.4L767.6 1301.5L764 1300.4L753.5 1296.7L739.4 1298.9L731.9 1300.4L725.3 1301.9L718.7 1300.4L711.3 1296.6L705.9 1300.4L711.3 1303.2L715.2 1305.7L711.3 1307.4L702.5 1311L701.5 1316.2L704 1321.5ZM777.2 1316.2L781.7 1314.6L795.8 1315L809.8 1312.3L814.4 1316.2L809.8 1318.8L795.8 1319.4L781.7 1317.7ZM733 1311L739.4 1309.8L743.3 1311L739.4 1312.7ZM683.1 1296.5L686.5 1295.2L683.1 1295.1L682.9 1295.2ZM218.4 1274.3L220 1274.1L232.5 1272.1L246.6 1270.7L260.7 1269.5L273.1 1274.1L274.7 1274.5L276.5 1274.1L288.8 1269.9L296.2 1268.8L302.9 1268.4L307.6 1268.8L317 1272.4L331.1 1270.8L344.3 1274.1L345.1 1274.4L347.1 1274.1L359.2 1272.2L373.3 1271.6L387.4 1268.9L401.5 1273.7L415.6 1273.4L421.7 1268.8L429.6 1267.5L435.2 1268.8L443.7 1273.5L457.8 1273.5L471.9 1269.6L476.5 1268.8L486 1267.5L490.1 1268.8L500 1269.9L513.5 1268.8L511.4 1263.6L514.1 1262.7L528.2 1259.8L539.2 1263.6L542.3 1264.2L546.5 1263.6L556.4 1261.6L562.2 1258.3L556.4 1255.7L542.3 1254L528.2 1253.1L528.1 1253L528.2 1253L535.1 1247.8L530.7 1242.5L528.2 1240.4L523.5 1242.5L514.1 1244.3L511.1 1242.5L514.1 1239.8L522 1237.2L519.8 1232L514.1 1228.9L500 1227.7L495.2 1226.7L486 1224.4L471.9 1223.1L457.8 1222.2L454.1 1221.4L443.7 1219.9L429.6 1220.5L420.8 1221.4L415.6 1222.9L410.3 1221.4L401.5 1219.9L387.4 1221.3L373.3 1218.4L363.4 1221.4L359.2 1222.3L355.5 1221.4L345.1 1218.7L336.4 1221.4L331.1 1222.6L322.3 1221.4L317 1219.1L302.9 1219.8L288.8 1217.9L279.1 1216.2L274.7 1216L274.2 1216.2L266.4 1221.4L260.7 1222.4L255.2 1221.4L246.6 1219.9L232.5 1219.6L218.4 1221.1L213.5 1221.4L204.3 1222.1L190.2 1223.1L178.3 1221.4L176.2 1220.3L163.7 1221.4L162.1 1221.7L148 1224.8L148 1226.7L148 1232L148 1237.2L148 1242.5L148 1247.8L148 1253L148 1258.3L148 1263.6L148 1266.8L158 1268.8L162.1 1271L176.2 1269.7L190.2 1271L197.3 1268.8L204.3 1267L215.4 1268.8L216.6 1274.1ZM304.7 1263.6L302.9 1262.2L288.8 1262.1L274.7 1259.5L261.6 1258.3L263.8 1253L260.7 1252L256.6 1253L246.6 1256.5L242.4 1258.3L232.5 1261.4L218.4 1259.9L215.9 1258.3L214.1 1253L204.3 1250.7L190.2 1247.8L190.1 1247.8L186.2 1242.5L178 1237.2L190.2 1232.2L203.8 1237.2L204.3 1237.5L205.1 1237.2L218.4 1232.6L232.5 1236.5L240.3 1232L246.6 1230.7L260.7 1231.7L270.7 1226.7L274.7 1225.8L287.5 1226.7L288.8 1227L302.9 1228.4L317 1230.2L323.7 1226.7L331.1 1225.9L337.6 1226.7L345.1 1230.7L359.1 1226.7L359.2 1226.7L359.3 1226.7L373.3 1230.8L378.7 1232L387.4 1234.3L398.9 1232L401.5 1229.2L406.6 1232L415.6 1234.4L421.2 1237.2L420.9 1242.5L429.6 1247.1L432.4 1247.8L434.4 1253L429.6 1254.2L418.3 1258.3L415.6 1260L412.3 1258.3L401.5 1255.9L387.4 1256L380.4 1258.3L387.4 1261.1L391.2 1263.6L387.4 1264.7L374.8 1263.6L373.3 1263.1L359.2 1262.2L345.1 1260.1L340.9 1258.3L331.1 1256.6L324.8 1258.3L330.6 1263.6L317 1264.9ZM484.6 1258.3L486 1257.5L490.9 1258.3L486 1259.7ZM159.1 1253L162.1 1251.3L167.8 1253L162.1 1255.1ZM157.9 1242.5L162.1 1240.5L166.6 1242.5L162.1 1244.1ZM452.1 1232L457.8 1230L461.9 1232L457.8 1235.1ZM486 1274.3L486.8 1274.1L486 1272.2L483.8 1274.1ZM359.2 1248.1L359.6 1247.8L359.2 1247.6L358.9 1247.8ZM556.4 1249.5L560.7 1247.8L556.4 1245.8L551.3 1247.8ZM331.1 1237.6L332.7 1237.2L331.1 1233.5L329.5 1237.2ZM359.2 1237.6L360.7 1237.2L359.2 1236.5L358.1 1237.2ZM542.3 1237.9L544.6 1237.2L548.2 1232L542.3 1230.1L534.5 1232L537.9 1237.2ZM556.4 1223.4L559.8 1221.4L556.4 1220L550.6 1221.4ZM739.4 1207.6L744.8 1205.6L753.5 1203.3L765.3 1205.6L767.6 1206.2L772.1 1205.6L781.7 1202.8L795.8 1203.1L809.8 1202.5L812 1205.6L823.9 1207.1L838 1206.8L838 1205.6L838 1200.8L837.7 1200.4L838 1200.2L838 1195.1L838 1193.1L824.5 1195.1L823.9 1195.3L809.8 1195.1L807.2 1195.1L809.8 1194.8L815.8 1189.8L809.8 1187.4L795.8 1187.4L790.5 1189.8L793.3 1195.1L781.7 1196L768.3 1195.1L774.4 1189.8L767.6 1186.3L762.5 1184.5L767.6 1181.7L774.6 1184.5L781.7 1186.2L787.4 1184.5L795.8 1180.6L809.8 1181.2L823.9 1181.9L827.7 1179.3L823.9 1175.1L809.8 1174.2L809.7 1174L809.8 1174L823.9 1173.6L829 1174L838 1174.7L838 1174L838 1168.7L838 1167.5L824.6 1163.5L823.9 1163.4L823.7 1163.5L809.8 1166.8L801.8 1168.7L795.8 1170.7L784.7 1168.7L781.7 1168.3L774.1 1168.7L767.6 1170.2L765.6 1168.7L753.5 1165.5L739.4 1168.7L738.3 1168.7L739.4 1169.1L753.5 1173.4L757 1174L753.5 1174.5L739.4 1174.4L728.3 1174L725.3 1172.8L711.3 1173.9L697.2 1170.2L688.2 1174L697.2 1178.9L698.9 1179.3L697.2 1180.1L683.1 1180.6L669 1181.8L663.8 1184.5L669 1187L679.5 1189.8L676 1195.1L683.1 1198.1L697.2 1197.3L711.3 1198.4L725.3 1196.5L734.3 1200.4L732.1 1205.6ZM689 1189.8L697.2 1187.8L699.5 1189.8L697.2 1192.7ZM640.9 1192.5L646.4 1189.8L640.9 1187.2L632.4 1189.8ZM204.3 1153.9L218.4 1155.3L232.5 1155L246.6 1154.1L249.1 1152.9L260.7 1151.1L270.4 1152.9L274.7 1154.4L288.8 1155.5L302.9 1153L317 1155.8L329.5 1152.9L331.1 1152.5L333.2 1152.9L345.1 1154.9L359.2 1154.7L373.3 1153.6L387.4 1155.3L401.5 1155.1L413 1152.9L415.6 1152.4L429.5 1152.9L429.6 1152.9L429.6 1152.9L443.7 1148.3L457.8 1148.7L471.9 1151.7L482.9 1147.7L486 1146.6L497.8 1147.7L500 1148.3L514.1 1148.6L521.7 1147.7L521.8 1142.4L528.2 1140.6L542.3 1139.5L548.3 1137.1L542.3 1134.1L535 1131.9L528.2 1128.7L522.3 1126.6L518.6 1121.3L514.1 1121L500 1118.2L486.4 1121.3L486 1121.5L484 1121.3L471.9 1120.7L457.8 1119.4L443.7 1118.5L430.5 1121.3L429.6 1121.5L428.8 1121.3L415.6 1118.1L401.5 1118.5L391.6 1121.3L387.4 1122L383.8 1121.3L373.3 1117.4L359.2 1118.8L345.1 1118.6L338 1116.1L331.1 1114.5L320.6 1116.1L317 1116.8L302.9 1118.2L288.8 1118.6L274.7 1116.1L260.7 1117.6L246.6 1116.8L232.5 1118.4L218.4 1120.8L204.3 1119.5L190.2 1119L176.2 1119.3L162.1 1120.5L148 1120.2L148 1121.3L148 1126.6L148 1131.9L148 1137.1L148 1142.4L148 1146.3L151.9 1147.7L162.1 1150.9L176.2 1150.8L190.2 1152.1L194.4 1152.9ZM230.1 1147.7L218.4 1144.8L206.7 1142.4L204.3 1140.8L195.7 1137.1L190.2 1136L180.6 1137.1L176.2 1138.1L175.1 1137.1L172.6 1131.9L176.2 1131.2L190.2 1130.3L204.3 1128.9L218.4 1129.8L225 1126.6L232.5 1123.5L246.6 1123.2L260.7 1123.9L274.7 1123.6L288.8 1125.6L294.2 1126.6L302.9 1127.9L317 1127.6L320.9 1126.6L324.3 1121.3L331.1 1120.6L333.2 1121.3L345.1 1125.5L356.5 1126.6L359.2 1127.1L362.4 1126.6L373.3 1125.5L387.4 1125.5L401.5 1124.5L415.6 1125.9L422.1 1126.6L424.5 1131.9L429.6 1134.6L443.4 1131.9L443.7 1131.8L444.3 1131.9L457.8 1132.9L470.9 1137.1L457.8 1141.7L443.7 1142.4L429.6 1142.1L428.6 1142.4L415.6 1144.1L401.5 1145.3L387.4 1142.6L378.6 1142.4L373.3 1142.3L373.1 1142.4L359.6 1147.7L359.2 1147.8L349.8 1147.7L345.1 1147.3L341.9 1147.7L331.1 1147.8L330 1147.7L317 1145.8L308.9 1147.7L302.9 1148.9L288.8 1148.2L274.7 1149.3L263.4 1147.7L260.7 1146.9L246.6 1147.2L242.9 1147.7L232.5 1148.1ZM542.3 1150L547.6 1147.7L542.3 1144.8L531.5 1147.7ZM401.5 1140.1L408 1137.1L401.5 1134L397.8 1137.1ZM570.4 1137.9L573.5 1137.1L570.4 1135.7L566.7 1137.1ZM556.4 1133L559.4 1131.9L556.4 1130.9L551.7 1131.9ZM711.3 1105.7L712.2 1105.5L725.3 1103.5L733.2 1105.5L739.4 1107.2L746.2 1105.5L753.5 1103.9L758.3 1105.5L767.6 1107.2L781.7 1106.8L795.8 1107.7L808.8 1105.5L809.8 1105.3L823.9 1104.8L830.6 1105.5L838 1108L838 1105.5L838 1101.2L823.9 1101.3L812.6 1100.3L814.6 1095L809.8 1093.6L796.7 1095L795.8 1095.1L793.4 1095L781.7 1092L772 1089.7L778.6 1084.5L781.7 1083L786 1084.5L795.8 1089.7L807.8 1084.5L809.8 1084.1L823.9 1081.3L838 1082.5L838 1079.2L838 1074.4L834 1073.9L823.9 1073.3L821.5 1073.9L811.1 1079.2L809.8 1079.5L807.1 1079.2L795.8 1076.8L781.7 1077.3L767.6 1076.9L753.5 1075.7L739.6 1079.2L739.4 1079.6L739 1079.2L725.3 1077.7L715.7 1079.2L715.2 1084.5L711.3 1086.5L704.7 1084.5L697.2 1081.2L683.1 1083.9L671.5 1084.5L678.3 1089.7L683.1 1092.7L686.3 1095L697.2 1096.5L708.1 1100.3L710.6 1105.5ZM683.1 1101.9L685.3 1100.3L683.1 1097L675.4 1100.3ZM176.2 1063.5L190.2 1064.8L204.3 1068.1L218.4 1064L232.5 1065.9L246.6 1067L260.7 1065.1L274.7 1067.2L288.8 1066.7L302.9 1064.8L317 1068.4L331.1 1066.6L345.1 1065.4L359.2 1067.8L373.3 1065.7L387.4 1065.1L401.5 1065.6L415.6 1065.5L429.6 1066.4L443.7 1066.6L457.8 1066.3L471.9 1064.4L475.6 1063.4L471.9 1063.4L457.8 1063.4L443.7 1063.4L429.6 1063.4L415.6 1063.4L401.5 1063.4L387.4 1063.4L373.3 1063.4L359.2 1063.4L345.1 1063.4L331.1 1063.4L317 1063.4L302.9 1063.4L288.8 1063.4L274.7 1063.4L260.7 1063.4L246.6 1063.4L232.5 1063.4L218.4 1063.4L204.3 1063.4L190.2 1063.4L176.2 1063.4L175.5 1063.4Z" fill="#414487" stroke="#414487" stroke-width="0.6"/>
<path d="M584.5 1321.5L594.8 1321.5L594.7 1316.2L584.5 1315.5L583 1316.2L575.8 1321.5ZM612.7 1321.5L626.8 1321.5L640.9 1321.5L654.9 1321.5L669 1321.5L683.1 1321.5L697.2 1321.5L704 1321.5L701.5 1316.2L702.5 1311L711.3 1307.4L715.2 1305.7L711.3 1303.2L705.9 1300.4L711.3 1296.6L718.7 1300.4L725.3 1301.9L731.9 1300.4L739.4 1298.9L753.5 1296.7L764 1300.4L767.6 1301.5L769.8 1300.4L775.1 1295.2L781.7 1291.2L792.4 1295.2L795.8 1296.7L804 1295.2L807.6 1289.9L809.8 1289.3L812.4 1289.9L823.9 1294.8L838 1290.1L838 1289.9L838 1284.6L838 1280.6L823.9 1281.9L809.8 1281.8L795.8 1280.5L784.4 1279.4L781.7 1277.8L779.8 1279.4L770.3 1284.6L767.6 1285.2L765.5 1284.6L753.5 1281L747.9 1279.4L739.4 1277.8L725.3 1276.1L714.6 1279.4L711.3 1280.9L707 1279.4L697.2 1274.4L693.7 1274.1L685.6 1268.8L683.1 1268.2L669 1265L660.4 1268.8L663 1274.1L654.9 1276.5L640.9 1274.1L640.6 1274.1L640.9 1274.1L647.4 1268.8L640.9 1267.6L633 1263.6L636.3 1258.3L632.3 1253L626.8 1248.1L622.8 1253L622.1 1258.3L612.7 1260.7L608.6 1258.3L604.5 1253L612.7 1248.1L621.9 1247.8L612.7 1246.5L609 1242.5L612.7 1242.1L624 1237.2L623 1232L626.8 1228.9L634.4 1226.7L640.9 1223.3L643.7 1221.4L651 1216.2L653.3 1210.9L654.9 1208L656.7 1210.9L660.8 1216.2L669 1219.5L683.1 1217.3L692.8 1221.4L697.2 1223.7L700.7 1221.4L706.5 1216.2L711.3 1215.2L722.9 1210.9L725.3 1210.3L727.4 1210.9L739.4 1214.5L753.5 1215.9L767.6 1212.8L781.7 1213.9L793.2 1216.2L795.8 1218.1L798.1 1216.2L809.8 1211.8L823.4 1216.2L823.9 1216.3L824.9 1216.2L838 1213.8L838 1210.9L838 1206.8L823.9 1207.1L812 1205.6L809.8 1202.5L795.8 1203.1L781.7 1202.8L772.1 1205.6L767.6 1206.2L765.3 1205.6L753.5 1203.3L744.8 1205.6L739.4 1207.6L732.1 1205.6L734.3 1200.4L725.3 1196.5L711.3 1198.4L697.2 1197.3L683.1 1198.1L676 1195.1L679.5 1189.8L669 1187L663.8 1184.5L669 1181.8L683.1 1180.6L697.2 1180.1L698.9 1179.3L697.2 1178.9L688.2 1174L697.2 1170.2L711.3 1173.9L725.3 1172.8L728.3 1174L739.4 1174.4L753.5 1174.5L757 1174L753.5 1173.4L739.4 1169.1L738.3 1168.7L739.4 1168.7L753.5 1165.5L765.6 1168.7L767.6 1170.2L774.1 1168.7L781.7 1168.3L784.7 1168.7L795.8 1170.7L801.8 1168.7L809.8 1166.8L823.7 1163.5L823.9 1163.4L824.6 1163.5L838 1167.5L838 1163.5L838 1158.2L838 1156.7L832.6 1158.2L823.9 1159.7L809.8 1160.7L802.1 1158.2L795.8 1157.2L787.7 1158.2L782.5 1163.5L781.7 1163.7L778.8 1163.5L767.6 1161.7L753.5 1159.3L746.6 1158.2L739.4 1156.7L732.1 1158.2L725.3 1159.5L711.3 1159.8L705.9 1158.2L697.2 1155.2L687.3 1158.2L683.1 1159L675.2 1158.2L669 1155.4L654.9 1153.2L653.8 1152.9L642.4 1147.7L640.9 1146.2L626.8 1143.8L612.7 1144.4L598.6 1147L594.4 1142.4L597.5 1137.1L598.6 1135.4L612.7 1136L626.8 1135.2L632 1131.9L640.9 1128.5L651.2 1126.6L654.9 1124.3L669 1123.6L672.4 1121.3L669 1116.7L654.9 1119.6L649.7 1121.3L640.9 1123.7L630.9 1121.3L640.9 1119L648.1 1116.1L651.8 1110.8L654.9 1109.5L669 1110.3L669.6 1110.8L683.1 1115.1L697.2 1115L708.8 1116.1L711.3 1116.4L713 1116.1L725.3 1114.2L731.9 1116.1L739.4 1116.9L753.5 1116.5L755.7 1116.1L767.6 1112.2L781.7 1111.6L795.8 1113.1L809.8 1113.4L823.9 1112.4L835.2 1116.1L838 1116.5L838 1116.1L838 1110.8L838 1108L830.6 1105.5L823.9 1104.8L809.8 1105.3L808.8 1105.5L795.8 1107.7L781.7 1106.8L767.6 1107.2L758.3 1105.5L753.5 1103.9L746.2 1105.5L739.4 1107.2L733.2 1105.5L725.3 1103.5L712.2 1105.5L711.3 1105.7L710.6 1105.5L708.1 1100.3L697.2 1096.5L686.3 1095L683.1 1092.7L678.3 1089.7L671.5 1084.5L683.1 1083.9L697.2 1081.2L704.7 1084.5L711.3 1086.5L715.2 1084.5L715.7 1079.2L725.3 1077.7L739 1079.2L739.4 1079.6L739.6 1079.2L753.5 1075.7L767.6 1076.9L781.7 1077.3L795.8 1076.8L807.1 1079.2L809.8 1079.5L811.1 1079.2L821.5 1073.9L823.9 1073.3L834 1073.9L838 1074.4L838 1073.9L838 1070.5L825.2 1068.7L823.9 1068.5L820.5 1068.7L809.8 1070.1L795.8 1070.7L788.3 1068.7L781.7 1067.1L775.1 1068.7L767.6 1070.8L753.5 1070.7L739.4 1069.3L725.3 1071.8L718 1068.7L711.3 1066.8L701.7 1068.7L697.2 1069.6L693.6 1068.7L683.1 1067L669 1066.7L654.9 1066.3L641.8 1068.7L640.9 1069L639.6 1068.7L626.8 1066.6L613.1 1063.4L612.7 1063.4L598.6 1063.4L584.5 1063.4L570.4 1063.4L556.4 1063.4L542.3 1063.4L528.2 1063.4L514.1 1063.4L500 1063.4L486 1063.4L475.6 1063.4L471.9 1064.4L457.8 1066.3L443.7 1066.6L429.6 1066.4L415.6 1065.5L401.5 1065.6L387.4 1065.1L373.3 1065.7L359.2 1067.8L345.1 1065.4L331.1 1066.6L317 1068.4L302.9 1064.8L288.8 1066.7L274.7 1067.2L260.7 1065.1L246.6 1067L232.5 1065.9L218.4 1064L204.3 1068.1L190.2 1064.8L176.2 1063.5L175.5 1063.4L162.1 1063.4L148 1063.4L148 1068.7L148 1073.1L162.1 1071L176.2 1072.8L187.8 1068.7L190.2 1068.5L190.7 1068.7L204.3 1071.9L218.4 1072.1L232.5 1070.4L246.6 1070.5L260.7 1070.3L274.7 1072.6L288.8 1071.3L302.9 1073.3L317 1072.5L331.1 1071.3L345.1 1070.1L359.2 1071.2L373.3 1070.8L387.4 1071.9L401.5 1070.7L415.6 1073.7L429.6 1071.4L443.7 1071.7L457.8 1072.3L471.9 1071.2L479.9 1073.9L486 1074.9L500 1076.2L514.1 1074L514.5 1073.9L528.2 1072.6L538.4 1073.9L542.3 1074.4L544.6 1073.9L556.4 1071.9L566.3 1073.9L570.4 1075.3L584.5 1075.6L598.6 1075.6L605 1079.2L598.6 1081.9L590.6 1084.5L598.6 1086.9L605.2 1089.7L598.6 1094.1L596.4 1095L598.6 1096.7L603.9 1100.3L598.6 1102.1L587.3 1105.5L593.9 1110.8L584.5 1113.8L575.8 1110.8L581.3 1105.5L570.4 1103.1L559.5 1105.5L561.4 1110.8L563 1116.1L556.4 1116.8L553.9 1116.1L542.3 1113L534.7 1110.8L528.2 1109.6L521.7 1110.8L524.4 1116.1L514.1 1116.6L512 1116.1L504.7 1110.8L500 1108.9L497.2 1110.8L486 1113.8L473.7 1110.8L471.9 1109.7L469.4 1110.8L457.8 1112.6L443.7 1113.4L430.4 1110.8L429.6 1110.6L415.6 1110.7L401.5 1110.5L400.3 1110.8L387.4 1113.2L378.3 1110.8L373.3 1109.5L368.8 1110.8L359.2 1113.9L345.1 1112.8L331.9 1110.8L331.1 1110.7L330 1110.8L317 1112.1L308.7 1110.8L302.9 1110.2L298.4 1110.8L288.8 1113.2L274.7 1112.4L260.7 1111.4L259 1110.8L246.6 1108.8L237.9 1110.8L232.5 1113L218.4 1113.7L204.5 1110.8L204.3 1110.8L190.2 1108.6L185.2 1110.8L176.2 1113.1L166.2 1110.8L162.1 1109L157.1 1110.8L148 1112.3L148 1116.1L148 1120.2L162.1 1120.5L176.2 1119.3L190.2 1119L204.3 1119.5L218.4 1120.8L232.5 1118.4L246.6 1116.8L260.7 1117.6L274.7 1116.1L288.8 1118.6L302.9 1118.2L317 1116.8L320.6 1116.1L331.1 1114.5L338 1116.1L345.1 1118.6L359.2 1118.8L373.3 1117.4L383.8 1121.3L387.4 1122L391.6 1121.3L401.5 1118.5L415.6 1118.1L428.8 1121.3L429.6 1121.5L430.5 1121.3L443.7 1118.5L457.8 1119.4L471.9 1120.7L484 1121.3L486 1121.5L486.4 1121.3L500 1118.2L514.1 1121L518.6 1121.3L522.3 1126.6L528.2 1128.7L535 1131.9L542.3 1134.1L548.3 1137.1L542.3 1139.5L528.2 1140.6L521.8 1142.4L521.7 1147.7L514.1 1148.6L500 1148.3L497.8 1147.7L486 1146.6L482.9 1147.7L471.9 1151.7L457.8 1148.7L443.7 1148.3L429.6 1152.9L429.6 1152.9L429.5 1152.9L415.6 1152.4L413 1152.9L401.5 1155.1L387.4 1155.3L373.3 1153.6L359.2 1154.7L345.1 1154.9L333.2 1152.9L331.1 1152.5L329.5 1152.9L317 1155.8L302.9 1153L288.8 1155.5L274.7 1154.4L270.4 1152.9L260.7 1151.1L249.1 1152.9L246.6 1154.1L232.5 1155L218.4 1155.3L204.3 1153.9L194.4 1152.9L190.2 1152.1L176.2 1150.8L162.1 1150.9L151.9 1147.7L148 1146.3L148 1147.7L148 1152.9L148 1158.2L148 1161.4L162.1 1162.2L172.6 1158.2L176.2 1156.4L180.7 1158.2L190.2 1160.8L204.3 1160.5L218.4 1161.1L232.5 1161.1L246.6 1160.8L260.7 1160.7L274.7 1160.2L288.8 1160.1L302.9 1159.5L317 1161.3L331.1 1158.6L345.1 1158.8L359.2 1160.3L373.3 1159.6L387.4 1161.5L401.5 1160.5L415.6 1160.8L429.6 1161.9L440.1 1163.5L443.7 1163.8L444.9 1163.5L457.8 1160.6L471.9 1158.4L486 1159.8L500 1160.2L513.1 1158.2L514.1 1157.9L514.8 1158.2L514.1 1159.2L511.7 1163.5L514.1 1164.5L522.2 1163.5L528.2 1162.7L542.2 1158.2L542.3 1158.2L542.4 1158.2L556.4 1160.1L568.3 1158.2L570.4 1157.6L572 1158.2L570.4 1159.4L566.9 1163.5L569.8 1168.7L570.4 1168.8L578.4 1174L584.5 1176.8L597 1179.3L598.6 1179.8L605.6 1184.5L598.6 1187.3L584.5 1189.3L570.4 1189.2L569.8 1189.8L570.4 1190.6L584.5 1190.9L587.1 1195.1L584.5 1199.9L583.8 1200.4L579.6 1205.6L570.4 1208.9L566.7 1210.9L556.4 1213.6L542.3 1212.5L535.6 1210.9L528.2 1208.7L514.1 1206.2L500 1209.2L490.6 1210.9L487 1216.2L486 1216.3L484.9 1216.2L482.8 1210.9L471.9 1208.8L468.3 1210.9L457.8 1214.9L447.5 1210.9L443.7 1209.4L440.8 1210.9L429.7 1216.2L429.6 1216.2L429.6 1216.2L415.6 1213.5L401.5 1212.8L387.4 1213L373.3 1211.7L359.2 1212L345.1 1212.5L331.1 1211.8L317 1212.9L302.9 1213.7L288.8 1211.3L274.7 1211.4L260.7 1212.8L246.6 1213.3L232.5 1213.3L218.4 1214.7L209.8 1210.9L204.3 1210.1L199.6 1210.9L190.2 1213L176.2 1211.5L169.5 1210.9L162.1 1209.1L148 1208L148 1210.9L148 1216.2L148 1221.4L148 1224.8L162.1 1221.7L163.7 1221.4L176.2 1220.3L178.3 1221.4L190.2 1223.1L204.3 1222.1L213.5 1221.4L218.4 1221.1L232.5 1219.6L246.6 1219.9L255.2 1221.4L260.7 1222.4L266.4 1221.4L274.2 1216.2L274.7 1216L279.1 1216.2L288.8 1217.9L302.9 1219.8L317 1219.1L322.3 1221.4L331.1 1222.6L336.4 1221.4L345.1 1218.7L355.5 1221.4L359.2 1222.3L363.4 1221.4L373.3 1218.4L387.4 1221.3L401.5 1219.9L410.3 1221.4L415.6 1222.9L420.8 1221.4L429.6 1220.5L443.7 1219.9L454.1 1221.4L457.8 1222.2L471.9 1223.1L486 1224.4L495.2 1226.7L500 1227.7L514.1 1228.9L519.8 1232L522 1237.2L514.1 1239.8L511.1 1242.5L514.1 1244.3L523.5 1242.5L528.2 1240.4L530.7 1242.5L535.1 1247.8L528.2 1253L528.1 1253L528.2 1253.1L542.3 1254L556.4 1255.7L562.2 1258.3L556.4 1261.6L546.5 1263.6L542.3 1264.2L539.2 1263.6L528.2 1259.8L514.1 1262.7L511.4 1263.6L513.5 1268.8L500 1269.9L490.1 1268.8L486 1267.5L476.5 1268.8L471.9 1269.6L457.8 1273.5L443.7 1273.5L435.2 1268.8L429.6 1267.5L421.7 1268.8L415.6 1273.4L401.5 1273.7L387.4 1268.9L373.3 1271.6L359.2 1272.2L347.1 1274.1L345.1 1274.4L344.3 1274.1L331.1 1270.8L317 1272.4L307.6 1268.8L302.9 1268.4L296.2 1268.8L288.8 1269.9L276.5 1274.1L274.7 1274.5L273.1 1274.1L260.7 1269.5L246.6 1270.7L232.5 1272.1L220 1274.1L218.4 1274.3L216.6 1274.1L215.4 1268.8L204.3 1267L197.3 1268.8L190.2 1271L176.2 1269.7L162.1 1271L158 1268.8L148 1266.8L148 1268.8L148 1274.1L148 1279.4L148 1284.6L148 1285.8L162.1 1285.6L176.2 1285.2L177.2 1284.6L190.2 1282.5L204.3 1281.9L215.6 1279.4L218.4 1279.2L220.1 1279.4L232.5 1281.2L246.6 1282.1L255.3 1284.6L260.7 1286.9L266.4 1284.6L274.7 1282.6L288.8 1282.4L302.9 1283.4L315.5 1284.6L317 1284.7L331.1 1284.7L331.7 1284.6L345.1 1283.6L359.2 1281.5L367.4 1284.6L373.3 1286.7L376.7 1284.6L387.4 1280.5L396.8 1279.4L401.5 1279L403.6 1279.4L413.7 1284.6L415.6 1285.7L419.1 1284.6L429.6 1282L441 1284.6L443.7 1285.2L445.9 1284.6L457.8 1282.7L471.9 1283.7L480.4 1279.4L486 1278.4L490.7 1279.4L489 1284.6L500 1287L507.7 1284.6L514.1 1283.7L522.3 1284.6L528.2 1286.4L532.4 1284.6L542.3 1282.4L548.8 1284.6L556.4 1286.7L566.4 1289.9L556.4 1294.4L548.9 1295.2L556.4 1296.1L570.4 1295.5L584.5 1299.3L589.4 1300.4L584.5 1302.7L581.9 1305.7L584.5 1306.1L598.6 1306.4L612.7 1308.6L619.1 1311L612.7 1313.7L600.5 1316.2L604 1321.5ZM626.5 1316.2L626.8 1316.2L626.9 1316.2L626.8 1316.3ZM653.8 1316.2L654.9 1315.1L658.8 1316.2L654.9 1317.3ZM676.7 1316.2L673 1311L683.1 1309.5L690.2 1311L688.6 1316.2L683.1 1321ZM626.1 1305.7L626.8 1303.3L627.6 1305.7L626.8 1306ZM605.1 1300.4L612.7 1298.7L623.9 1300.4L612.7 1301.5ZM591.6 1295.2L598.6 1290.2L604.7 1295.2L598.6 1298.6ZM625.6 1295.2L626.8 1295L627.3 1295.2L626.8 1297.5ZM682.9 1295.2L683.1 1295.1L686.5 1295.2L683.1 1296.5ZM638.5 1289.9L640.9 1288.5L649 1289.9L640.9 1291ZM678.4 1279.4L683.1 1275.9L686.7 1279.4L683.1 1281.9ZM483.8 1274.1L486 1272.2L486.8 1274.1L486 1274.3ZM606.1 1274.1L605.2 1268.8L612.7 1267.5L617.2 1268.8L624 1274.1L612.7 1274.9ZM551.3 1247.8L556.4 1245.8L560.7 1247.8L556.4 1249.5ZM537.9 1237.2L534.5 1232L542.3 1230.1L548.2 1232L544.6 1237.2L542.3 1237.9ZM611.6 1226.7L612.7 1225.6L616 1226.7L612.7 1227.1ZM550.6 1221.4L556.4 1220L559.8 1221.4L556.4 1223.4ZM625.5 1221.4L626.8 1220.9L629.5 1221.4L626.8 1222ZM607.3 1210.9L612.7 1208.4L619.1 1210.9L612.7 1213.2ZM677.6 1210.9L680 1205.6L683.1 1205.3L686.2 1205.6L689.2 1210.9L683.1 1214.4ZM585.1 1200.4L598.6 1198.7L607.1 1200.4L598.6 1202.1ZM654.5 1200.4L654.9 1200.2L655.3 1200.4L654.9 1201.5ZM632.4 1189.8L640.9 1187.2L646.4 1189.8L640.9 1192.5ZM587.1 1168.7L598.6 1166.3L607.3 1168.7L598.6 1172.6ZM619.9 1163.5L626.8 1162.1L640.9 1160.2L643.1 1163.5L640.9 1165L626.8 1164.6ZM620.8 1152.9L626.8 1150L629.8 1152.9L626.8 1154ZM531.5 1147.7L542.3 1144.8L547.6 1147.7L542.3 1150ZM566.7 1137.1L570.4 1135.7L573.5 1137.1L570.4 1137.9ZM551.7 1131.9L556.4 1130.9L559.4 1131.9L556.4 1133ZM583.8 1131.9L584.5 1131L588.1 1131.9L584.5 1132.2ZM606.4 1126.6L612.7 1124.8L623.9 1126.6L612.7 1128.6ZM596.6 1116.1L598.6 1115L602 1116.1L598.6 1118.1ZM621.1 1110.8L626.8 1108.6L630.1 1110.8L626.8 1112.1ZM640.7 1100.3L640.9 1100.2L641 1100.3L640.9 1100.4ZM675.4 1100.3L683.1 1097L685.3 1100.3L683.1 1101.9ZM604.7 1095L612.7 1094L615.1 1095L612.7 1096.5ZM609.9 1084.5L612.7 1083.6L616.1 1084.5L612.7 1085.3ZM541.9 1068.7L542.3 1068.5L542.7 1068.7L542.3 1069.6ZM571.9 1068.7L584.5 1066.3L598.6 1064.2L605.4 1068.7L598.6 1072.3L584.5 1071.3ZM739.4 1312.7L743.3 1311L739.4 1309.8L733 1311ZM556.4 1308L563.9 1305.7L556.4 1303.6L552.6 1305.7ZM486 1259.7L490.9 1258.3L486 1257.5L484.6 1258.3ZM838 1200.8L838 1200.4L838 1200.2L837.7 1200.4ZM697.2 1192.7L699.5 1189.8L697.2 1187.8L689 1189.8ZM556.4 1081L560.5 1079.2L556.4 1077.5L553.5 1079.2Z" fill="#2a788e" stroke="#2a788e" stroke-width="0.6"/>
<path d="M162.1 1316.9L163.6 1316.2L162.1 1315.2L148 1312.8L148 1316.2L148 1321.5L151.8 1321.5ZM514.1 1321.5L528.2 1321.5L542.3 1321.5L556.4 1321.5L570.4 1321.5L575.8 1321.5L583 1316.2L584.5 1315.5L594.7 1316.2L594.8 1321.5L598.6 1321.5L604 1321.5L600.5 1316.2L612.7 1313.7L619.1 1311L612.7 1308.6L598.6 1306.4L584.5 1306.1L581.9 1305.7L584.5 1302.7L589.4 1300.4L584.5 1299.3L570.4 1295.5L556.4 1296.1L548.9 1295.2L556.4 1294.4L566.4 1289.9L556.4 1286.7L548.8 1284.6L542.3 1282.4L532.4 1284.6L528.2 1286.4L522.3 1284.6L514.1 1283.7L507.7 1284.6L500 1287L489 1284.6L490.7 1279.4L486 1278.4L480.4 1279.4L471.9 1283.7L457.8 1282.7L445.9 1284.6L443.7 1285.2L441 1284.6L429.6 1282L419.1 1284.6L415.6 1285.7L413.7 1284.6L403.6 1279.4L401.5 1279L396.8 1279.4L387.4 1280.5L376.7 1284.6L373.3 1286.7L367.4 1284.6L359.2 1281.5L345.1 1283.6L331.7 1284.6L331.1 1284.7L317 1284.7L315.5 1284.6L302.9 1283.4L288.8 1282.4L274.7 1282.6L266.4 1284.6L260.7 1286.9L255.3 1284.6L246.6 1282.1L232.5 1281.2L220.1 1279.4L218.4 1279.2L215.6 1279.4L204.3 1281.9L190.2 1282.5L177.2 1284.6L176.2 1285.2L162.1 1285.6L148 1285.8L148 1289.9L148 1295.2L148 1299.5L152.2 1300.4L148 1301.8L148 1305.7L148 1309.7L162.1 1307.5L175 1311L176.2 1311.2L176.5 1311L183.6 1305.7L176.2 1303.2L170.1 1300.4L176.2 1299.2L183.6 1300.4L190.2 1303.2L195.8 1300.4L204.3 1298.4L216.6 1295.2L218.4 1294.5L232.5 1292.6L244.9 1295.2L246.6 1295.4L260.7 1296L274.7 1298.8L288.8 1296L302.9 1297.1L306.2 1295.2L317 1292.3L331.1 1293.8L334.2 1295.2L345.1 1297.1L358.6 1295.2L359.2 1295L360.1 1295.2L373.3 1296.4L381.9 1295.2L387.4 1293.6L401.5 1293.9L409.5 1295.2L415.6 1297L429.6 1297.6L435.4 1295.2L443.7 1292.6L457.8 1293.9L460.9 1295.2L468.3 1300.4L471.9 1302.3L479 1305.7L482.5 1311L486 1312.2L495.2 1311L500 1310L502.4 1311L514.1 1314.1L520.7 1316.2L514.1 1318.7L503.7 1321.5ZM552.6 1305.7L556.4 1303.6L563.9 1305.7L556.4 1308ZM343.3 1289.9L345.1 1289.6L346.2 1289.9L345.1 1290.5ZM626.8 1316.3L626.9 1316.2L626.8 1316.2L626.5 1316.2ZM626.8 1306L627.6 1305.7L626.8 1303.3L626.1 1305.7ZM317 1300.6L317.4 1300.4L317 1300.1L315.5 1300.4ZM612.7 1301.5L623.9 1300.4L612.7 1298.7L605.1 1300.4ZM598.6 1298.6L604.7 1295.2L598.6 1290.2L591.6 1295.2ZM626.8 1297.5L627.3 1295.2L626.8 1295L625.6 1295.2ZM640.9 1291L649 1289.9L640.9 1288.5L638.5 1289.9ZM767.6 1285.2L770.3 1284.6L779.8 1279.4L781.7 1277.8L784.4 1279.4L795.8 1280.5L809.8 1281.8L823.9 1281.9L838 1280.6L838 1279.4L838 1274.1L838 1268.8L838 1267.3L832.5 1263.6L823.9 1260.9L817.2 1263.6L811.1 1268.8L809.8 1269.1L808.7 1268.8L798.5 1263.6L795.8 1262.9L789 1263.6L781.7 1264.8L767.6 1265.9L753.5 1264.5L750.6 1263.6L746.3 1258.3L739.4 1256.1L725.3 1254.1L723.8 1253L725.3 1251.6L735.9 1247.8L725.3 1245.9L714.9 1247.8L711.3 1248.3L709.5 1247.8L702.5 1242.5L697.2 1240.1L692.1 1237.2L697.2 1234.4L702.8 1237.2L711.3 1240L717.1 1237.2L712.1 1232L725.3 1231.6L739.4 1230.6L752 1226.7L753.5 1226.3L761.4 1226.7L767.6 1227.2L771.2 1226.7L781.7 1225.5L786.6 1226.7L795.8 1228.1L806 1226.7L809.8 1225.8L823.9 1223.3L833 1221.4L838 1220.4L838 1216.2L838 1213.8L824.9 1216.2L823.9 1216.3L823.4 1216.2L809.8 1211.8L798.1 1216.2L795.8 1218.1L793.2 1216.2L781.7 1213.9L767.6 1212.8L753.5 1215.9L739.4 1214.5L727.4 1210.9L725.3 1210.3L722.9 1210.9L711.3 1215.2L706.5 1216.2L700.7 1221.4L697.2 1223.7L692.8 1221.4L683.1 1217.3L669 1219.5L660.8 1216.2L656.7 1210.9L654.9 1208L653.3 1210.9L651 1216.2L643.7 1221.4L640.9 1223.3L634.4 1226.7L626.8 1228.9L623 1232L624 1237.2L612.7 1242.1L609 1242.5L612.7 1246.5L621.9 1247.8L612.7 1248.1L604.5 1253L608.6 1258.3L612.7 1260.7L622.1 1258.3L622.8 1253L626.8 1248.1L632.3 1253L636.3 1258.3L633 1263.6L640.9 1267.6L647.4 1268.8L640.9 1274.1L640.6 1274.1L640.9 1274.1L654.9 1276.5L663 1274.1L660.4 1268.8L669 1265L683.1 1268.2L685.6 1268.8L693.7 1274.1L697.2 1274.4L707 1279.4L711.3 1280.9L714.6 1279.4L725.3 1276.1L739.4 1277.8L747.9 1279.4L753.5 1281L765.5 1284.6ZM680.7 1263.6L680.6 1258.3L683.1 1257.1L685.1 1258.3L687.3 1263.6L683.1 1264.3ZM711.3 1258.3L711.3 1258.3L711.3 1258.3L711.3 1258.3ZM678.8 1242.5L683.1 1241.7L686.9 1242.5L683.1 1243.8ZM763.5 1221.4L767.6 1219.9L773.6 1221.4L767.6 1226.1ZM683.1 1281.9L686.7 1279.4L683.1 1275.9L678.4 1279.4ZM612.7 1274.9L624 1274.1L617.2 1268.8L612.7 1267.5L605.2 1268.8L606.1 1274.1ZM739.4 1237.7L753.5 1238.9L757.2 1237.2L753.5 1234.3L739.4 1235L737.4 1237.2ZM612.7 1227.1L616 1226.7L612.7 1225.6L611.6 1226.7ZM626.8 1222L629.5 1221.4L626.8 1220.9L625.5 1221.4ZM429.6 1216.2L429.7 1216.2L440.8 1210.9L443.7 1209.4L447.5 1210.9L457.8 1214.9L468.3 1210.9L471.9 1208.8L482.8 1210.9L484.9 1216.2L486 1216.3L487 1216.2L490.6 1210.9L500 1209.2L514.1 1206.2L528.2 1208.7L535.6 1210.9L542.3 1212.5L556.4 1213.6L566.7 1210.9L570.4 1208.9L579.6 1205.6L583.8 1200.4L584.5 1199.9L587.1 1195.1L584.5 1190.9L570.4 1190.6L569.8 1189.8L570.4 1189.2L584.5 1189.3L598.6 1187.3L605.6 1184.5L598.6 1179.8L597 1179.3L584.5 1176.8L578.4 1174L570.4 1168.8L569.8 1168.7L566.9 1163.5L570.4 1159.4L572 1158.2L570.4 1157.6L568.3 1158.2L556.4 1160.1L542.4 1158.2L542.3 1158.2L542.2 1158.2L528.2 1162.7L522.2 1163.5L514.1 1164.5L511.7 1163.5L514.1 1159.2L514.8 1158.2L514.1 1157.9L513.1 1158.2L500 1160.2L486 1159.8L471.9 1158.4L457.8 1160.6L444.9 1163.5L443.7 1163.8L440.1 1163.5L429.6 1161.9L415.6 1160.8L401.5 1160.5L387.4 1161.5L373.3 1159.6L359.2 1160.3L345.1 1158.8L331.1 1158.6L317 1161.3L302.9 1159.5L288.8 1160.1L274.7 1160.2L260.7 1160.7L246.6 1160.8L232.5 1161.1L218.4 1161.1L204.3 1160.5L190.2 1160.8L180.7 1158.2L176.2 1156.4L172.6 1158.2L162.1 1162.2L148 1161.4L148 1163.5L148 1168.3L150.2 1168.7L158.6 1174L162.1 1175.1L166.8 1174L176.2 1172.3L190.2 1169.8L197.4 1168.7L204.3 1167.9L218.4 1166.7L232.5 1167.4L246.6 1166.2L260.7 1165L274.7 1166.2L286.8 1168.7L288.8 1169.1L290.7 1168.7L302.9 1164.6L317 1168L331.1 1167.4L345.1 1167.4L359.2 1167.6L364 1168.7L373.3 1169.7L387.4 1169.1L396.8 1168.7L401.5 1168.1L403.6 1168.7L415.6 1170.7L429.6 1172.8L443.7 1171.7L457.8 1171.3L471.9 1172.8L486 1173.3L500 1173.4L501 1174L511.8 1179.3L514.1 1180.1L519.2 1179.3L528.2 1178.1L531.4 1179.3L532.8 1184.5L542.3 1187.7L549.2 1189.8L542.3 1193.3L528.2 1192.7L514.1 1190L509.9 1189.8L500 1189.6L499.2 1189.8L486 1193.4L481.7 1195.1L474.9 1200.4L471.9 1200.5L457.8 1201.7L443.7 1203.7L429.6 1202.1L415.6 1202.6L402.6 1205.6L401.5 1205.8L391.5 1205.6L387.4 1205.3L373.3 1204.8L359.2 1203.6L345.1 1203.9L331.1 1202.3L323.5 1205.6L317 1207.9L304.5 1205.6L302.9 1204.4L288.8 1204.9L286.2 1205.6L274.7 1207.2L265.3 1205.6L260.7 1203.8L246.6 1203.9L232.5 1201.5L221.1 1205.6L218.4 1206.3L204.3 1205.6L204.2 1205.6L190.2 1201.1L185.8 1200.4L176.2 1199.5L170.8 1200.4L162.1 1201.1L157.9 1200.4L148 1198.8L148 1200.4L148 1205.6L148 1208L162.1 1209.1L169.5 1210.9L176.2 1211.5L190.2 1213L199.6 1210.9L204.3 1210.1L209.8 1210.9L218.4 1214.7L232.5 1213.3L246.6 1213.3L260.7 1212.8L274.7 1211.4L288.8 1211.3L302.9 1213.7L317 1212.9L331.1 1211.8L345.1 1212.5L359.2 1212L373.3 1211.7L387.4 1213L401.5 1212.8L415.6 1213.5L429.6 1216.2ZM612.7 1213.2L619.1 1210.9L612.7 1208.4L607.3 1210.9ZM683.1 1214.4L689.2 1210.9L686.2 1205.6L683.1 1205.3L680 1205.6L677.6 1210.9ZM598.6 1202.1L607.1 1200.4L598.6 1198.7L585.1 1200.4ZM654.9 1201.5L655.3 1200.4L654.9 1200.2L654.5 1200.4ZM150 1179.3L148 1178.4L148 1179.3L148 1180.4ZM471.9 1184.1L478.5 1179.3L471.9 1174.8L468.2 1179.3ZM598.6 1172.6L607.3 1168.7L598.6 1166.3L587.1 1168.7ZM626.8 1164.6L640.9 1165L643.1 1163.5L640.9 1160.2L626.8 1162.1L619.9 1163.5ZM781.7 1163.7L782.5 1163.5L787.7 1158.2L795.8 1157.2L802.1 1158.2L809.8 1160.7L823.9 1159.7L832.6 1158.2L838 1156.7L838 1152.9L838 1149.4L830.9 1147.7L823.9 1147.2L816.1 1147.7L809.8 1149.1L795.8 1150.9L781.7 1149.3L767.6 1148.2L763.5 1147.7L755.7 1142.4L753.5 1141.7L751.3 1142.4L739.4 1146.6L725.3 1145.8L711.3 1142.6L697.2 1143.7L694.7 1142.4L694.9 1137.1L697.2 1136.4L711.3 1133.6L719.1 1131.9L711.3 1127.2L710.6 1126.6L711.3 1126.4L725.3 1125.7L739.4 1122.7L753.5 1126.5L767.6 1126.1L781.7 1121.9L785.4 1121.3L795.8 1120.3L809.8 1117.6L823.9 1121.3L838 1120.1L838 1116.5L835.2 1116.1L823.9 1112.4L809.8 1113.4L795.8 1113.1L781.7 1111.6L767.6 1112.2L755.7 1116.1L753.5 1116.5L739.4 1116.9L731.9 1116.1L725.3 1114.2L713 1116.1L711.3 1116.4L708.8 1116.1L697.2 1115L683.1 1115.1L669.6 1110.8L669 1110.3L654.9 1109.5L651.8 1110.8L648.1 1116.1L640.9 1119L630.9 1121.3L640.9 1123.7L649.7 1121.3L654.9 1119.6L669 1116.7L672.4 1121.3L669 1123.6L654.9 1124.3L651.2 1126.6L640.9 1128.5L632 1131.9L626.8 1135.2L612.7 1136L598.6 1135.4L597.5 1137.1L594.4 1142.4L598.6 1147L612.7 1144.4L626.8 1143.8L640.9 1146.2L642.4 1147.7L653.8 1152.9L654.9 1153.2L669 1155.4L675.2 1158.2L683.1 1159L687.3 1158.2L697.2 1155.2L705.9 1158.2L711.3 1159.8L725.3 1159.5L732.1 1158.2L739.4 1156.7L746.6 1158.2L753.5 1159.3L767.6 1161.7L778.8 1163.5ZM626.8 1154L629.8 1152.9L626.8 1150L620.8 1152.9ZM584.5 1132.2L588.1 1131.9L584.5 1131L583.8 1131.9ZM612.7 1128.6L623.9 1126.6L612.7 1124.8L606.4 1126.6ZM823.9 1126.9L825 1126.6L823.9 1121.7L821.8 1126.6ZM514.1 1116.6L524.4 1116.1L521.7 1110.8L528.2 1109.6L534.7 1110.8L542.3 1113L553.9 1116.1L556.4 1116.8L563 1116.1L561.4 1110.8L559.5 1105.5L570.4 1103.1L581.3 1105.5L575.8 1110.8L584.5 1113.8L593.9 1110.8L587.3 1105.5L598.6 1102.1L603.9 1100.3L598.6 1096.7L596.4 1095L598.6 1094.1L605.2 1089.7L598.6 1086.9L590.6 1084.5L598.6 1081.9L605 1079.2L598.6 1075.6L584.5 1075.6L570.4 1075.3L566.3 1073.9L556.4 1071.9L544.6 1073.9L542.3 1074.4L538.4 1073.9L528.2 1072.6L514.5 1073.9L514.1 1074L500 1076.2L486 1074.9L479.9 1073.9L471.9 1071.2L457.8 1072.3L443.7 1071.7L429.6 1071.4L415.6 1073.7L401.5 1070.7L387.4 1071.9L373.3 1070.8L359.2 1071.2L345.1 1070.1L331.1 1071.3L317 1072.5L302.9 1073.3L288.8 1071.3L274.7 1072.6L260.7 1070.3L246.6 1070.5L232.5 1070.4L218.4 1072.1L204.3 1071.9L190.7 1068.7L190.2 1068.5L187.8 1068.7L176.2 1072.8L162.1 1071L148 1073.1L148 1073.9L148 1079.2L148 1084.5L148 1089.7L148 1090.4L162.1 1091.6L163.8 1089.7L162.1 1087.8L151.4 1084.5L162.1 1081.6L176.2 1079.9L190.2 1080.7L194.7 1079.2L204.3 1076.4L218.4 1077.2L232.5 1076.9L244.8 1073.9L246.6 1073.9L247.2 1073.9L260.7 1077.1L274.7 1076.9L288.8 1075.9L302.9 1077.1L317 1078.3L331.1 1077.8L345.1 1076.7L359.2 1074.5L373.3 1077.5L387.4 1076.8L401.5 1076.7L415.6 1077.3L427.8 1079.2L429.6 1079.7L432.1 1079.2L443.7 1076.8L457.6 1079.2L457.8 1079.2L471.9 1079.9L474.3 1079.2L486 1078.7L488.1 1079.2L486 1081L477.9 1084.5L486 1085.7L494.6 1084.5L500 1083.5L502.8 1084.5L514.1 1087.5L525.4 1089.7L517.2 1095L514.1 1097.2L500 1095.2L486 1098.5L481.6 1100.3L471.9 1101.8L457.8 1103.2L443.7 1103.3L430.8 1105.5L429.6 1105.7L415.6 1105.8L410.6 1105.5L401.5 1104.5L387.4 1104.1L373.3 1105.3L359.2 1104.9L345.1 1105.2L343.9 1105.5L331.1 1107.6L317 1106.8L302.9 1107.3L288.8 1107L280.4 1105.5L274.7 1104.5L260.7 1104.5L250.9 1105.5L246.6 1106L232.5 1107.1L218.4 1106.5L204.3 1107.1L198.6 1105.5L190.2 1102.8L176.2 1102L162.1 1103L150.1 1100.3L148 1098.2L148 1100.3L148 1105.5L148 1110.8L148 1112.3L157.1 1110.8L162.1 1109L166.2 1110.8L176.2 1113.1L185.2 1110.8L190.2 1108.6L204.3 1110.8L204.5 1110.8L218.4 1113.7L232.5 1113L237.9 1110.8L246.6 1108.8L259 1110.8L260.7 1111.4L274.7 1112.4L288.8 1113.2L298.4 1110.8L302.9 1110.2L308.7 1110.8L317 1112.1L330 1110.8L331.1 1110.7L331.9 1110.8L345.1 1112.8L359.2 1113.9L368.8 1110.8L373.3 1109.5L378.3 1110.8L387.4 1113.2L400.3 1110.8L401.5 1110.5L415.6 1110.7L429.6 1110.6L430.4 1110.8L443.7 1113.4L457.8 1112.6L469.4 1110.8L471.9 1109.7L473.7 1110.8L486 1113.8L497.2 1110.8L500 1108.9L504.7 1110.8L512 1116.1ZM553.5 1079.2L556.4 1077.5L560.5 1079.2L556.4 1081ZM598.6 1118.1L602 1116.1L598.6 1115L596.6 1116.1ZM626.8 1112.1L630.1 1110.8L626.8 1108.6L621.1 1110.8ZM640.9 1100.4L641 1100.3L640.9 1100.2L640.7 1100.3ZM612.7 1096.5L615.1 1095L612.7 1094L604.7 1095ZM612.7 1085.3L616.1 1084.5L612.7 1083.6L609.9 1084.5ZM542.3 1069.6L542.7 1068.7L542.3 1068.5L541.9 1068.7ZM584.5 1071.3L598.6 1072.3L605.4 1068.7L598.6 1064.2L584.5 1066.3L571.9 1068.7ZM640.9 1069L641.8 1068.7L654.9 1066.3L669 1066.7L683.1 1067L693.6 1068.7L697.2 1069.6L701.7 1068.7L711.3 1066.8L718 1068.7L725.3 1071.8L739.4 1069.3L753.5 1070.7L767.6 1070.8L775.1 1068.7L781.7 1067.1L788.3 1068.7L795.8 1070.7L809.8 1070.1L820.5 1068.7L823.9 1068.5L825.2 1068.7L838 1070.5L838 1068.7L838 1063.4L834.9 1063.4L823.9 1064.5L809.8 1064.3L800.9 1063.4L795.8 1063.4L781.7 1063.4L767.6 1063.4L753.5 1063.4L739.4 1063.4L725.3 1063.4L711.3 1063.4L697.2 1063.4L683.1 1063.4L669 1063.4L654.9 1063.4L640.9 1063.4L626.8 1063.4L613.1 1063.4L626.8 1066.6L639.6 1068.7Z" fill="#22a884" stroke="#22a884" stroke-width="0.6"/>
<path d="M162.1 1321.5L176.2 1321.5L190.2 1321.5L204.3 1321.5L218.4 1321.5L219.7 1321.5L228.1 1316.2L228.1 1311L230.4 1305.7L232.5 1304.6L235.6 1305.7L239.9 1311L238.2 1316.2L246.6 1318.2L249.1 1316.2L260.7 1313.1L274 1311L274.7 1310.6L275.7 1311L288.8 1313.8L299.7 1311L302.9 1306.6L316.7 1311L317 1311L317.6 1311L331.1 1307.4L332 1311L331.1 1312.9L327.4 1316.2L331.1 1318.5L334.7 1316.2L345.1 1314.8L359.2 1314.9L363.7 1316.2L373.3 1320.9L386.9 1316.2L387.4 1316L394.3 1311L401.5 1306.2L409.8 1311L402.8 1316.2L401.5 1318L394.6 1321.5L401.5 1321.5L415.6 1321.5L429.6 1321.5L443.7 1321.5L457.8 1321.5L471.9 1321.5L486 1321.5L500 1321.5L503.7 1321.5L514.1 1318.7L520.7 1316.2L514.1 1314.1L502.4 1311L500 1310L495.2 1311L486 1312.2L482.5 1311L479 1305.7L471.9 1302.3L468.3 1300.4L460.9 1295.2L457.8 1293.9L443.7 1292.6L435.4 1295.2L429.6 1297.6L415.6 1297L409.5 1295.2L401.5 1293.9L387.4 1293.6L381.9 1295.2L373.3 1296.4L360.1 1295.2L359.2 1295L358.6 1295.2L345.1 1297.1L334.2 1295.2L331.1 1293.8L317 1292.3L306.2 1295.2L302.9 1297.1L288.8 1296L274.7 1298.8L260.7 1296L246.6 1295.4L244.9 1295.2L232.5 1292.6L218.4 1294.5L216.6 1295.2L204.3 1298.4L195.8 1300.4L190.2 1303.2L183.6 1300.4L176.2 1299.2L170.1 1300.4L176.2 1303.2L183.6 1305.7L176.5 1311L176.2 1311.2L175 1311L162.1 1307.5L148 1309.7L148 1311L148 1312.8L162.1 1315.2L163.6 1316.2L162.1 1316.9L151.8 1321.5ZM427.5 1311L429.6 1310.8L430.9 1311L429.6 1312.1ZM358.7 1305.7L359.2 1305.1L360.6 1305.7L359.2 1306.1ZM315.5 1300.4L317 1300.1L317.4 1300.4L317 1300.6ZM288.8 1321.5L289.8 1321.5L288.8 1320.5L287.4 1321.5ZM152.2 1300.4L148 1299.5L148 1300.4L148 1301.8ZM345.1 1290.5L346.2 1289.9L345.1 1289.6L343.3 1289.9ZM809.8 1269.1L811.1 1268.8L817.2 1263.6L823.9 1260.9L832.5 1263.6L838 1267.3L838 1263.6L838 1258.3L838 1255.6L823.9 1254.7L817.3 1253L823.9 1250L830.4 1247.8L836.2 1242.5L838 1241L838 1237.2L838 1232L838 1226.7L838 1221.4L838 1220.4L833 1221.4L823.9 1223.3L809.8 1225.8L806 1226.7L795.8 1228.1L786.6 1226.7L781.7 1225.5L771.2 1226.7L767.6 1227.2L761.4 1226.7L753.5 1226.3L752 1226.7L739.4 1230.6L725.3 1231.6L712.1 1232L717.1 1237.2L711.3 1240L702.8 1237.2L697.2 1234.4L692.1 1237.2L697.2 1240.1L702.5 1242.5L709.5 1247.8L711.3 1248.3L714.9 1247.8L725.3 1245.9L735.9 1247.8L725.3 1251.6L723.8 1253L725.3 1254.1L739.4 1256.1L746.3 1258.3L750.6 1263.6L753.5 1264.5L767.6 1265.9L781.7 1264.8L789 1263.6L795.8 1262.9L798.5 1263.6L808.7 1268.8ZM774.2 1242.5L781.7 1240.3L788.7 1242.5L781.7 1245.8ZM737.4 1237.2L739.4 1235L753.5 1234.3L757.2 1237.2L753.5 1238.9L739.4 1237.7ZM790.7 1237.2L795.8 1235.3L809.8 1237.1L810 1237.2L809.8 1237.9L795.8 1239.5ZM683.1 1264.3L687.3 1263.6L685.1 1258.3L683.1 1257.1L680.6 1258.3L680.7 1263.6ZM711.3 1258.3L711.3 1258.3L711.3 1258.3L711.3 1258.3ZM683.1 1243.8L686.9 1242.5L683.1 1241.7L678.8 1242.5ZM767.6 1226.1L773.6 1221.4L767.6 1219.9L763.5 1221.4ZM204.3 1205.6L218.4 1206.3L221.1 1205.6L232.5 1201.5L246.6 1203.9L260.7 1203.8L265.3 1205.6L274.7 1207.2L286.2 1205.6L288.8 1204.9L302.9 1204.4L304.5 1205.6L317 1207.9L323.5 1205.6L331.1 1202.3L345.1 1203.9L359.2 1203.6L373.3 1204.8L387.4 1205.3L391.5 1205.6L401.5 1205.8L402.6 1205.6L415.6 1202.6L429.6 1202.1L443.7 1203.7L457.8 1201.7L471.9 1200.5L474.9 1200.4L481.7 1195.1L486 1193.4L499.2 1189.8L500 1189.6L509.9 1189.8L514.1 1190L528.2 1192.7L542.3 1193.3L549.2 1189.8L542.3 1187.7L532.8 1184.5L531.4 1179.3L528.2 1178.1L519.2 1179.3L514.1 1180.1L511.8 1179.3L501 1174L500 1173.4L486 1173.3L471.9 1172.8L457.8 1171.3L443.7 1171.7L429.6 1172.8L415.6 1170.7L403.6 1168.7L401.5 1168.1L396.8 1168.7L387.4 1169.1L373.3 1169.7L364 1168.7L359.2 1167.6L345.1 1167.4L331.1 1167.4L317 1168L302.9 1164.6L290.7 1168.7L288.8 1169.1L286.8 1168.7L274.7 1166.2L260.7 1165L246.6 1166.2L232.5 1167.4L218.4 1166.7L204.3 1167.9L197.4 1168.7L190.2 1169.8L176.2 1172.3L166.8 1174L162.1 1175.1L158.6 1174L150.2 1168.7L148 1168.3L148 1168.7L148 1174L148 1178.4L150 1179.3L148 1180.4L148 1184.5L148 1189.8L148 1195.1L148 1198.8L157.9 1200.4L162.1 1201.1L170.8 1200.4L176.2 1199.5L185.8 1200.4L190.2 1201.1L204.2 1205.6ZM223.6 1195.1L223.2 1189.8L218.4 1189.3L205.9 1184.5L208.8 1179.3L218.4 1178.3L223.2 1179.3L232.5 1182.8L246.6 1180.1L250.3 1179.3L260.7 1175.6L274.7 1176.2L288.8 1177.8L296.2 1174L302.9 1172.7L306.7 1174L317 1177.6L331.1 1177L338.1 1179.3L345.1 1180.9L354.6 1179.3L359.2 1176.8L373.3 1177.4L384.3 1174L387.4 1173.6L394.2 1174L401.5 1176.6L405.9 1179.3L415.6 1181.9L429.6 1184.3L430.7 1184.5L429.6 1184.9L415.6 1187.6L401.5 1187.8L399.6 1189.8L387.4 1193.1L373.3 1191.8L359.2 1194.5L345.1 1194.7L331.2 1189.8L332.7 1184.5L331.1 1183.4L327.7 1184.5L331 1189.8L326.9 1195.1L317 1196.9L302.9 1195.4L295.5 1195.1L288.8 1194.5L274.7 1192.1L266.7 1195.1L260.7 1196.7L254.8 1195.1L246.6 1191.6L239.1 1195.1L232.5 1196.5ZM404.3 1195.1L415.6 1192.1L420.4 1195.1L415.6 1196.3ZM187.5 1179.3L190.2 1178.6L196.5 1179.3L190.2 1180.1ZM468.2 1179.3L471.9 1174.8L478.5 1179.3L471.9 1184.1ZM767.6 1148.2L781.7 1149.3L795.8 1150.9L809.8 1149.1L816.1 1147.7L823.9 1147.2L830.9 1147.7L838 1149.4L838 1147.7L838 1143.6L823.9 1144.5L812.3 1142.4L817.4 1137.1L809.8 1135.1L803.2 1131.9L809.8 1130.1L823.9 1130.4L836.6 1126.6L838 1125.8L838 1121.3L838 1120.1L823.9 1121.3L809.8 1117.6L795.8 1120.3L785.4 1121.3L781.7 1121.9L767.6 1126.1L753.5 1126.5L739.4 1122.7L725.3 1125.7L711.3 1126.4L710.6 1126.6L711.3 1127.2L719.1 1131.9L711.3 1133.6L697.2 1136.4L694.9 1137.1L694.7 1142.4L697.2 1143.7L711.3 1142.6L725.3 1145.8L739.4 1146.6L751.3 1142.4L753.5 1141.7L755.7 1142.4L763.5 1147.7ZM821.8 1126.6L823.9 1121.7L825 1126.6L823.9 1126.9ZM838 1138.9L838 1137.1L838 1133.7L831.1 1137.1ZM204.3 1107.1L218.4 1106.5L232.5 1107.1L246.6 1106L250.9 1105.5L260.7 1104.5L274.7 1104.5L280.4 1105.5L288.8 1107L302.9 1107.3L317 1106.8L331.1 1107.6L343.9 1105.5L345.1 1105.2L359.2 1104.9L373.3 1105.3L387.4 1104.1L401.5 1104.5L410.6 1105.5L415.6 1105.8L429.6 1105.7L430.8 1105.5L443.7 1103.3L457.8 1103.2L471.9 1101.8L481.6 1100.3L486 1098.5L500 1095.2L514.1 1097.2L517.2 1095L525.4 1089.7L514.1 1087.5L502.8 1084.5L500 1083.5L494.6 1084.5L486 1085.7L477.9 1084.5L486 1081L488.1 1079.2L486 1078.7L474.3 1079.2L471.9 1079.9L457.8 1079.2L457.6 1079.2L443.7 1076.8L432.1 1079.2L429.6 1079.7L427.8 1079.2L415.6 1077.3L401.5 1076.7L387.4 1076.8L373.3 1077.5L359.2 1074.5L345.1 1076.7L331.1 1077.8L317 1078.3L302.9 1077.1L288.8 1075.9L274.7 1076.9L260.7 1077.1L247.2 1073.9L246.6 1073.9L244.8 1073.9L232.5 1076.9L218.4 1077.2L204.3 1076.4L194.7 1079.2L190.2 1080.7L176.2 1079.9L162.1 1081.6L151.4 1084.5L162.1 1087.8L163.8 1089.7L162.1 1091.6L148 1090.4L148 1095L148 1098.2L150.1 1100.3L162.1 1103L176.2 1102L190.2 1102.8L198.6 1105.5ZM222.3 1100.3L218.4 1099.3L206.8 1095L211.9 1089.7L216.3 1084.5L218.4 1083.7L221.4 1084.5L232.5 1086.2L246.6 1089.3L260.7 1086L269.1 1084.5L274.7 1083.2L288.8 1083L302.9 1084.1L317 1083.7L331.1 1083.7L345.1 1084.1L359.2 1082.4L369.3 1084.5L373.3 1085.8L378.5 1084.5L387.4 1083L392.1 1084.5L401.5 1088.2L405.1 1089.7L405.4 1095L401.5 1095.9L394.5 1095L387.4 1093.9L373.3 1094.1L359.2 1094.2L353.5 1095L345.1 1096.6L331.1 1097.7L317 1098.4L302.9 1098L291.2 1100.3L288.8 1100.8L286 1100.3L274.7 1095L268.1 1100.3L260.7 1101.5L254.2 1100.3L253.6 1095L246.6 1091.1L243.9 1095L237.8 1100.3L232.5 1101.8ZM366.9 1100.3L373.3 1097.4L375.1 1100.3L373.3 1100.7ZM456.1 1095L451.6 1089.7L457.8 1088.2L460.2 1089.7L461.2 1095L457.8 1095.5ZM174.5 1089.7L176.2 1087.6L178.7 1089.7L176.2 1094.1ZM809.8 1064.3L823.9 1064.5L834.9 1063.4L823.9 1063.4L809.8 1063.4L800.9 1063.4Z" fill="#7ad151" stroke="#7ad151" stroke-width="0.6"/>
<path d="M232.5 1321.5L246.6 1321.5L260.7 1321.5L274.7 1321.5L287.4 1321.5L288.8 1320.5L289.8 1321.5L302.9 1321.5L317 1321.5L331.1 1321.5L345.1 1321.5L359.2 1321.5L373.3 1321.5L387.4 1321.5L394.6 1321.5L401.5 1318L402.8 1316.2L409.8 1311L401.5 1306.2L394.3 1311L387.4 1316L386.9 1316.2L373.3 1320.9L363.7 1316.2L359.2 1314.9L345.1 1314.8L334.7 1316.2L331.1 1318.5L327.4 1316.2L331.1 1312.9L332 1311L331.1 1307.4L317.6 1311L317 1311L316.7 1311L302.9 1306.6L299.7 1311L288.8 1313.8L275.7 1311L274.7 1310.6L274 1311L260.7 1313.1L249.1 1316.2L246.6 1318.2L238.2 1316.2L239.9 1311L235.6 1305.7L232.5 1304.6L230.4 1305.7L228.1 1311L228.1 1316.2L219.7 1321.5ZM429.6 1312.1L430.9 1311L429.6 1310.8L427.5 1311ZM359.2 1306.1L360.6 1305.7L359.2 1305.1L358.7 1305.7ZM823.9 1254.7L838 1255.6L838 1253L838 1247.8L838 1242.5L838 1241L836.2 1242.5L830.4 1247.8L823.9 1250L817.3 1253ZM781.7 1245.8L788.7 1242.5L781.7 1240.3L774.2 1242.5ZM795.8 1239.5L809.8 1237.9L810 1237.2L809.8 1237.1L795.8 1235.3L790.7 1237.2ZM232.5 1196.5L239.1 1195.1L246.6 1191.6L254.8 1195.1L260.7 1196.7L266.7 1195.1L274.7 1192.1L288.8 1194.5L295.5 1195.1L302.9 1195.4L317 1196.9L326.9 1195.1L331 1189.8L327.7 1184.5L331.1 1183.4L332.7 1184.5L331.2 1189.8L345.1 1194.7L359.2 1194.5L373.3 1191.8L387.4 1193.1L399.6 1189.8L401.5 1187.8L415.6 1187.6L429.6 1184.9L430.7 1184.5L429.6 1184.3L415.6 1181.9L405.9 1179.3L401.5 1176.6L394.2 1174L387.4 1173.6L384.3 1174L373.3 1177.4L359.2 1176.8L354.6 1179.3L345.1 1180.9L338.1 1179.3L331.1 1177L317 1177.6L306.7 1174L302.9 1172.7L296.2 1174L288.8 1177.8L274.7 1176.2L260.7 1175.6L250.3 1179.3L246.6 1180.1L232.5 1182.8L223.2 1179.3L218.4 1178.3L208.8 1179.3L205.9 1184.5L218.4 1189.3L223.2 1189.8L223.6 1195.1ZM415.6 1196.3L420.4 1195.1L415.6 1192.1L404.3 1195.1ZM190.2 1180.1L196.5 1179.3L190.2 1178.6L187.5 1179.3ZM823.9 1144.5L838 1143.6L838 1142.4L838 1138.9L831.1 1137.1L838 1133.7L838 1131.9L838 1126.6L838 1125.8L836.6 1126.6L823.9 1130.4L809.8 1130.1L803.2 1131.9L809.8 1135.1L817.4 1137.1L812.3 1142.4ZM232.5 1101.8L237.8 1100.3L243.9 1095L246.6 1091.1L253.6 1095L254.2 1100.3L260.7 1101.5L268.1 1100.3L274.7 1095L286 1100.3L288.8 1100.8L291.2 1100.3L302.9 1098L317 1098.4L331.1 1097.7L345.1 1096.6L353.5 1095L359.2 1094.2L373.3 1094.1L387.4 1093.9L394.5 1095L401.5 1095.9L405.4 1095L405.1 1089.7L401.5 1088.2L392.1 1084.5L387.4 1083L378.5 1084.5L373.3 1085.8L369.3 1084.5L359.2 1082.4L345.1 1084.1L331.1 1083.7L317 1083.7L302.9 1084.1L288.8 1083L274.7 1083.2L269.1 1084.5L260.7 1086L246.6 1089.3L232.5 1086.2L221.4 1084.5L218.4 1083.7L216.3 1084.5L211.9 1089.7L206.8 1095L218.4 1099.3L222.3 1100.3ZM373.3 1100.7L375.1 1100.3L373.3 1097.4L366.9 1100.3ZM457.8 1095.5L461.2 1095L460.2 1089.7L457.8 1088.2L451.6 1089.7L456.1 1095ZM176.2 1094.1L178.7 1089.7L176.2 1087.6L174.5 1089.7Z" fill="#fde725" stroke="#fde725" stroke-width="0.6"/>
<path d="M814.8 1321.5L823.9 1319L838 1319.8M838 1312.2L823.9 1312.9L812.9 1311L823.9 1309.4L838 1309.9M838 1193.1L824.5 1195.1L823.9 1195.3L809.8 1195.1L807.2 1195.1L809.8 1194.8L815.8 1189.8L809.8 1187.4L795.8 1187.4L790.5 1189.8L793.3 1195.1L781.7 1196L768.3 1195.1L774.4 1189.8L767.6 1186.3L762.5 1184.5L767.6 1181.7L774.6 1184.5L781.7 1186.2L787.4 1184.5L795.8 1180.6L809.8 1181.2L823.9 1181.9L827.7 1179.3L823.9 1175.1L809.8 1174.2L809.7 1174L809.8 1174L823.9 1173.6L829 1174L838 1174.7M838 1101.2L823.9 1101.3L812.6 1100.3L814.6 1095L809.8 1093.6L796.7 1095L795.8 1095.1L793.4 1095L781.7 1092L772 1089.7L778.6 1084.5L781.7 1083L786 1084.5L795.8 1089.7L807.8 1084.5L809.8 1084.1L823.9 1081.3L838 1082.5M781.7 1317.7L777.2 1316.2L781.7 1314.6L795.8 1315L809.8 1312.3L814.4 1316.2L809.8 1318.8L795.8 1319.4L781.7 1317.7M317 1264.9L304.7 1263.6L302.9 1262.2L288.8 1262.1L274.7 1259.5L261.6 1258.3L263.8 1253L260.7 1252L256.6 1253L246.6 1256.5L242.4 1258.3L232.5 1261.4L218.4 1259.9L215.9 1258.3L214.1 1253L204.3 1250.7L190.2 1247.8L190.1 1247.8L186.2 1242.5L178 1237.2L190.2 1232.2L203.8 1237.2L204.3 1237.5L205.1 1237.2L218.4 1232.6L232.5 1236.5L240.3 1232L246.6 1230.7L260.7 1231.7L270.7 1226.7L274.7 1225.8L287.5 1226.7L288.8 1227L302.9 1228.4L317 1230.2L323.7 1226.7L331.1 1225.9L337.6 1226.7L345.1 1230.7L359.1 1226.7L359.2 1226.7L359.3 1226.7L373.3 1230.8L378.7 1232L387.4 1234.3L398.9 1232L401.5 1229.2L406.6 1232L415.6 1234.4L421.2 1237.2L420.9 1242.5L429.6 1247.1L432.4 1247.8L434.4 1253L429.6 1254.2L418.3 1258.3L415.6 1260L412.3 1258.3L401.5 1255.9L387.4 1256L380.4 1258.3L387.4 1261.1L391.2 1263.6L387.4 1264.7L374.8 1263.6L373.3 1263.1L359.2 1262.2L345.1 1260.1L340.9 1258.3L331.1 1256.6L324.8 1258.3L330.6 1263.6L317 1264.9M162.1 1255.1L159.1 1253L162.1 1251.3L167.8 1253L162.1 1255.1M359.2 1248.1L359.6 1247.8L359.2 1247.6L358.9 1247.8L359.2 1248.1M162.1 1244.1L157.9 1242.5L162.1 1240.5L166.6 1242.5L162.1 1244.1M331.1 1237.6L332.7 1237.2L331.1 1233.5L329.5 1237.2L331.1 1237.6M359.2 1237.6L360.7 1237.2L359.2 1236.5L358.1 1237.2L359.2 1237.6M457.8 1235.1L452.1 1232L457.8 1230L461.9 1232L457.8 1235.1M232.5 1148.1L230.1 1147.7L218.4 1144.8L206.7 1142.4L204.3 1140.8L195.7 1137.1L190.2 1136L180.6 1137.1L176.2 1138.1L175.1 1137.1L172.6 1131.9L176.2 1131.2L190.2 1130.3L204.3 1128.9L218.4 1129.8L225 1126.6L232.5 1123.5L246.6 1123.2L260.7 1123.9L274.7 1123.6L288.8 1125.6L294.2 1126.6L302.9 1127.9L317 1127.6L320.9 1126.6L324.3 1121.3L331.1 1120.6L333.2 1121.3L345.1 1125.5L356.5 1126.6L359.2 1127.1L362.4 1126.6L373.3 1125.5L387.4 1125.5L401.5 1124.5L415.6 1125.9L422.1 1126.6L424.5 1131.9L429.6 1134.6L443.4 1131.9L443.7 1131.8L444.3 1131.9L457.8 1132.9L470.9 1137.1L457.8 1141.7L443.7 1142.4L429.6 1142.1L428.6 1142.4L415.6 1144.1L401.5 1145.3L387.4 1142.6L378.6 1142.4L373.3 1142.3L373.1 1142.4L359.6 1147.7L359.2 1147.8L349.8 1147.7L345.1 1147.3L341.9 1147.7L331.1 1147.8L330 1147.7L317 1145.8L308.9 1147.7L302.9 1148.9L288.8 1148.2L274.7 1149.3L263.4 1147.7L260.7 1146.9L246.6 1147.2L242.9 1147.7L232.5 1148.1M401.5 1140.1L408 1137.1L401.5 1134L397.8 1137.1L401.5 1140.1M704 1321.5L701.5 1316.2L702.5 1311L711.3 1307.4L715.2 1305.7L711.3 1303.2L705.9 1300.4L711.3 1296.6L718.7 1300.4L725.3 1301.9L731.9 1300.4L739.4 1298.9L753.5 1296.7L764 1300.4L767.6 1301.5L769.8 1300.4L775.1 1295.2L781.7 1291.2L792.4 1295.2L795.8 1296.7L804 1295.2L807.6 1289.9L809.8 1289.3L812.4 1289.9L823.9 1294.8L838 1290.1M148 1224.8L162.1 1221.7L163.7 1221.4L176.2 1220.3L178.3 1221.4L190.2 1223.1L204.3 1222.1L213.5 1221.4L218.4 1221.1L232.5 1219.6L246.6 1219.9L255.2 1221.4L260.7 1222.4L266.4 1221.4L274.2 1216.2L274.7 1216L279.1 1216.2L288.8 1217.9L302.9 1219.8L317 1219.1L322.3 1221.4L331.1 1222.6L336.4 1221.4L345.1 1218.7L355.5 1221.4L359.2 1222.3L363.4 1221.4L373.3 1218.4L387.4 1221.3L401.5 1219.9L410.3 1221.4L415.6 1222.9L420.8 1221.4L429.6 1220.5L443.7 1219.9L454.1 1221.4L457.8 1222.2L471.9 1223.1L486 1224.4L495.2 1226.7L500 1227.7L514.1 1228.9L519.8 1232L522 1237.2L514.1 1239.8L511.1 1242.5L514.1 1244.3L523.5 1242.5L528.2 1240.4L530.7 1242.5L535.1 1247.8L528.2 1253L528.1 1253L528.2 1253.1L542.3 1254L556.4 1255.7L562.2 1258.3L556.4 1261.6L546.5 1263.6L542.3 1264.2L539.2 1263.6L528.2 1259.8L514.1 1262.7L511.4 1263.6L513.5 1268.8L500 1269.9L490.1 1268.8L486 1267.5L476.5 1268.8L471.9 1269.6L457.8 1273.5L443.7 1273.5L435.2 1268.8L429.6 1267.5L421.7 1268.8L415.6 1273.4L401.5 1273.7L387.4 1268.9L373.3 1271.6L359.2 1272.2L347.1 1274.1L345.1 1274.4L344.3 1274.1L331.1 1270.8L317 1272.4L307.6 1268.8L302.9 1268.4L296.2 1268.8L288.8 1269.9L276.5 1274.1L274.7 1274.5L273.1 1274.1L260.7 1269.5L246.6 1270.7L232.5 1272.1L220 1274.1L218.4 1274.3L216.6 1274.1L215.4 1268.8L204.3 1267L197.3 1268.8L190.2 1271L176.2 1269.7L162.1 1271L158 1268.8L148 1266.8M838 1206.8L823.9 1207.1L812 1205.6L809.8 1202.5L795.8 1203.1L781.7 1202.8L772.1 1205.6L767.6 1206.2L765.3 1205.6L753.5 1203.3L744.8 1205.6L739.4 1207.6L732.1 1205.6L734.3 1200.4L725.3 1196.5L711.3 1198.4L697.2 1197.3L683.1 1198.1L676 1195.1L679.5 1189.8L669 1187L663.8 1184.5L669 1181.8L683.1 1180.6L697.2 1180.1L698.9 1179.3L697.2 1178.9L688.2 1174L697.2 1170.2L711.3 1173.9L725.3 1172.8L728.3 1174L739.4 1174.4L753.5 1174.5L757 1174L753.5 1173.4L739.4 1169.1L738.3 1168.7L739.4 1168.7L753.5 1165.5L765.6 1168.7L767.6 1170.2L774.1 1168.7L781.7 1168.3L784.7 1168.7L795.8 1170.7L801.8 1168.7L809.8 1166.8L823.7 1163.5L823.9 1163.4L824.6 1163.5L838 1167.5M838 1200.2L837.7 1200.4L838 1200.8M148 1120.2L162.1 1120.5L176.2 1119.3L190.2 1119L204.3 1119.5L218.4 1120.8L232.5 1118.4L246.6 1116.8L260.7 1117.6L274.7 1116.1L288.8 1118.6L302.9 1118.2L317 1116.8L320.6 1116.1L331.1 1114.5L338 1116.1L345.1 1118.6L359.2 1118.8L373.3 1117.4L383.8 1121.3L387.4 1122L391.6 1121.3L401.5 1118.5L415.6 1118.1L428.8 1121.3L429.6 1121.5L430.5 1121.3L443.7 1118.5L457.8 1119.4L471.9 1120.7L484 1121.3L486 1121.5L486.4 1121.3L500 1118.2L514.1 1121L518.6 1121.3L522.3 1126.6L528.2 1128.7L535 1131.9L542.3 1134.1L548.3 1137.1L542.3 1139.5L528.2 1140.6L521.8 1142.4L521.7 1147.7L514.1 1148.6L500 1148.3L497.8 1147.7L486 1146.6L482.9 1147.7L471.9 1151.7L457.8 1148.7L443.7 1148.3L429.6 1152.9L429.6 1152.9L429.5 1152.9L415.6 1152.4L413 1152.9L401.5 1155.1L387.4 1155.3L373.3 1153.6L359.2 1154.7L345.1 1154.9L333.2 1152.9L331.1 1152.5L329.5 1152.9L317 1155.8L302.9 1153L288.8 1155.5L274.7 1154.4L270.4 1152.9L260.7 1151.1L249.1 1152.9L246.6 1154.1L232.5 1155L218.4 1155.3L204.3 1153.9L194.4 1152.9L190.2 1152.1L176.2 1150.8L162.1 1150.9L151.9 1147.7L148 1146.3M838 1108L830.6 1105.5L823.9 1104.8L809.8 1105.3L808.8 1105.5L795.8 1107.7L781.7 1106.8L767.6 1107.2L758.3 1105.5L753.5 1103.9L746.2 1105.5L739.4 1107.2L733.2 1105.5L725.3 1103.5L712.2 1105.5L711.3 1105.7L710.6 1105.5L708.1 1100.3L697.2 1096.5L686.3 1095L683.1 1092.7L678.3 1089.7L671.5 1084.5L683.1 1083.9L697.2 1081.2L704.7 1084.5L711.3 1086.5L715.2 1084.5L715.7 1079.2L725.3 1077.7L739 1079.2L739.4 1079.6L739.6 1079.2L753.5 1075.7L767.6 1076.9L781.7 1077.3L795.8 1076.8L807.1 1079.2L809.8 1079.5L811.1 1079.2L821.5 1073.9L823.9 1073.3L834 1073.9L838 1074.4M475.6 1063.4L471.9 1064.4L457.8 1066.3L443.7 1066.6L429.6 1066.4L415.6 1065.5L401.5 1065.6L387.4 1065.1L373.3 1065.7L359.2 1067.8L345.1 1065.4L331.1 1066.6L317 1068.4L302.9 1064.8L288.8 1066.7L274.7 1067.2L260.7 1065.1L246.6 1067L232.5 1065.9L218.4 1064L204.3 1068.1L190.2 1064.8L176.2 1063.5L175.5 1063.4M654.9 1317.3L653.8 1316.2L654.9 1315.1L658.8 1316.2L654.9 1317.3M683.1 1321L676.7 1316.2L673 1311L683.1 1309.5L690.2 1311L688.6 1316.2L683.1 1321M739.4 1312.7L743.3 1311L739.4 1309.8L733 1311L739.4 1312.7M683.1 1296.5L682.9 1295.2L683.1 1295.1L686.5 1295.2L683.1 1296.5M486 1274.3L483.8 1274.1L486 1272.2L486.8 1274.1L486 1274.3M486 1259.7L490.9 1258.3L486 1257.5L484.6 1258.3L486 1259.7M556.4 1249.5L551.3 1247.8L556.4 1245.8L560.7 1247.8L556.4 1249.5M542.3 1237.9L537.9 1237.2L534.5 1232L542.3 1230.1L548.2 1232L544.6 1237.2L542.3 1237.9M556.4 1223.4L550.6 1221.4L556.4 1220L559.8 1221.4L556.4 1223.4M640.9 1192.5L632.4 1189.8L640.9 1187.2L646.4 1189.8L640.9 1192.5M697.2 1192.7L699.5 1189.8L697.2 1187.8L689 1189.8L697.2 1192.7M542.3 1150L531.5 1147.7L542.3 1144.8L547.6 1147.7L542.3 1150M570.4 1137.9L566.7 1137.1L570.4 1135.7L573.5 1137.1L570.4 1137.9M556.4 1133L551.7 1131.9L556.4 1130.9L559.4 1131.9L556.4 1133M683.1 1101.9L675.4 1100.3L683.1 1097L685.3 1100.3L683.1 1101.9M575.8 1321.5L583 1316.2L584.5 1315.5L594.7 1316.2L594.8 1321.5M604 1321.5L600.5 1316.2L612.7 1313.7L619.1 1311L612.7 1308.6L598.6 1306.4L584.5 1306.1L581.9 1305.7L584.5 1302.7L589.4 1300.4L584.5 1299.3L570.4 1295.5L556.4 1296.1L548.9 1295.2L556.4 1294.4L566.4 1289.9L556.4 1286.7L548.8 1284.6L542.3 1282.4L532.4 1284.6L528.2 1286.4L522.3 1284.6L514.1 1283.7L507.7 1284.6L500 1287L489 1284.6L490.7 1279.4L486 1278.4L480.4 1279.4L471.9 1283.7L457.8 1282.7L445.9 1284.6L443.7 1285.2L441 1284.6L429.6 1282L419.1 1284.6L415.6 1285.7L413.7 1284.6L403.6 1279.4L401.5 1279L396.8 1279.4L387.4 1280.5L376.7 1284.6L373.3 1286.7L367.4 1284.6L359.2 1281.5L345.1 1283.6L331.7 1284.6L331.1 1284.7L317 1284.7L315.5 1284.6L302.9 1283.4L288.8 1282.4L274.7 1282.6L266.4 1284.6L260.7 1286.9L255.3 1284.6L246.6 1282.1L232.5 1281.2L220.1 1279.4L218.4 1279.2L215.6 1279.4L204.3 1281.9L190.2 1282.5L177.2 1284.6L176.2 1285.2L162.1 1285.6L148 1285.8M838 1213.8L824.9 1216.2L823.9 1216.3L823.4 1216.2L809.8 1211.8L798.1 1216.2L795.8 1218.1L793.2 1216.2L781.7 1213.9L767.6 1212.8L753.5 1215.9L739.4 1214.5L727.4 1210.9L725.3 1210.3L722.9 1210.9L711.3 1215.2L706.5 1216.2L700.7 1221.4L697.2 1223.7L692.8 1221.4L683.1 1217.3L669 1219.5L660.8 1216.2L656.7 1210.9L654.9 1208L653.3 1210.9L651 1216.2L643.7 1221.4L640.9 1223.3L634.4 1226.7L626.8 1228.9L623 1232L624 1237.2L612.7 1242.1L609 1242.5L612.7 1246.5L621.9 1247.8L612.7 1248.1L604.5 1253L608.6 1258.3L612.7 1260.7L622.1 1258.3L622.8 1253L626.8 1248.1L632.3 1253L636.3 1258.3L633 1263.6L640.9 1267.6L647.4 1268.8L640.9 1274.1L640.6 1274.1L640.9 1274.1L654.9 1276.5L663 1274.1L660.4 1268.8L669 1265L683.1 1268.2L685.6 1268.8L693.7 1274.1L697.2 1274.4L707 1279.4L711.3 1280.9L714.6 1279.4L725.3 1276.1L739.4 1277.8L747.9 1279.4L753.5 1281L765.5 1284.6L767.6 1285.2L770.3 1284.6L779.8 1279.4L781.7 1277.8L784.4 1279.4L795.8 1280.5L809.8 1281.8L823.9 1281.9L838 1280.6M148 1208L162.1 1209.1L169.5 1210.9L176.2 1211.5L190.2 1213L199.6 1210.9L204.3 1210.1L209.8 1210.9L218.4 1214.7L232.5 1213.3L246.6 1213.3L260.7 1212.8L274.7 1211.4L288.8 1211.3L302.9 1213.7L317 1212.9L331.1 1211.8L345.1 1212.5L359.2 1212L373.3 1211.7L387.4 1213L401.5 1212.8L415.6 1213.5L429.6 1216.2L429.6 1216.2L429.7 1216.2L440.8 1210.9L443.7 1209.4L447.5 1210.9L457.8 1214.9L468.3 1210.9L471.9 1208.8L482.8 1210.9L484.9 1216.2L486 1216.3L487 1216.2L490.6 1210.9L500 1209.2L514.1 1206.2L528.2 1208.7L535.6 1210.9L542.3 1212.5L556.4 1213.6L566.7 1210.9L570.4 1208.9L579.6 1205.6L583.8 1200.4L584.5 1199.9L587.1 1195.1L584.5 1190.9L570.4 1190.6L569.8 1189.8L570.4 1189.2L584.5 1189.3L598.6 1187.3L605.6 1184.5L598.6 1179.8L597 1179.3L584.5 1176.8L578.4 1174L570.4 1168.8L569.8 1168.7L566.9 1163.5L570.4 1159.4L572 1158.2L570.4 1157.6L568.3 1158.2L556.4 1160.1L542.4 1158.2L542.3 1158.2L542.2 1158.2L528.2 1162.7L522.2 1163.5L514.1 1164.5L511.7 1163.5L514.1 1159.2L514.8 1158.2L514.1 1157.9L513.1 1158.2L500 1160.2L486 1159.8L471.9 1158.4L457.8 1160.6L444.9 1163.5L443.7 1163.8L440.1 1163.5L429.6 1161.9L415.6 1160.8L401.5 1160.5L387.4 1161.5L373.3 1159.6L359.2 1160.3L345.1 1158.8L331.1 1158.6L317 1161.3L302.9 1159.5L288.8 1160.1L274.7 1160.2L260.7 1160.7L246.6 1160.8L232.5 1161.1L218.4 1161.1L204.3 1160.5L190.2 1160.8L180.7 1158.2L176.2 1156.4L172.6 1158.2L162.1 1162.2L148 1161.4M838 1116.5L835.2 1116.1L823.9 1112.4L809.8 1113.4L795.8 1113.1L781.7 1111.6L767.6 1112.2L755.7 1116.1L753.5 1116.5L739.4 1116.9L731.9 1116.1L725.3 1114.2L713 1116.1L711.3 1116.4L708.8 1116.1L697.2 1115L683.1 1115.1L669.6 1110.8L669 1110.3L654.9 1109.5L651.8 1110.8L648.1 1116.1L640.9 1119L630.9 1121.3L640.9 1123.7L649.7 1121.3L654.9 1119.6L669 1116.7L672.4 1121.3L669 1123.6L654.9 1124.3L651.2 1126.6L640.9 1128.5L632 1131.9L626.8 1135.2L612.7 1136L598.6 1135.4L597.5 1137.1L594.4 1142.4L598.6 1147L612.7 1144.4L626.8 1143.8L640.9 1146.2L642.4 1147.7L653.8 1152.9L654.9 1153.2L669 1155.4L675.2 1158.2L683.1 1159L687.3 1158.2L697.2 1155.2L705.9 1158.2L711.3 1159.8L725.3 1159.5L732.1 1158.2L739.4 1156.7L746.6 1158.2L753.5 1159.3L767.6 1161.7L778.8 1163.5L781.7 1163.7L782.5 1163.5L787.7 1158.2L795.8 1157.2L802.1 1158.2L809.8 1160.7L823.9 1159.7L832.6 1158.2L838 1156.7M148 1112.3L157.1 1110.8L162.1 1109L166.2 1110.8L176.2 1113.1L185.2 1110.8L190.2 1108.6L204.3 1110.8L204.5 1110.8L218.4 1113.7L232.5 1113L237.9 1110.8L246.6 1108.8L259 1110.8L260.7 1111.4L274.7 1112.4L288.8 1113.2L298.4 1110.8L302.9 1110.2L308.7 1110.8L317 1112.1L330 1110.8L331.1 1110.7L331.9 1110.8L345.1 1112.8L359.2 1113.9L368.8 1110.8L373.3 1109.5L378.3 1110.8L387.4 1113.2L400.3 1110.8L401.5 1110.5L415.6 1110.7L429.6 1110.6L430.4 1110.8L443.7 1113.4L457.8 1112.6L469.4 1110.8L471.9 1109.7L473.7 1110.8L486 1113.8L497.2 1110.8L500 1108.9L504.7 1110.8L512 1116.1L514.1 1116.6L524.4 1116.1L521.7 1110.8L528.2 1109.6L534.7 1110.8L542.3 1113L553.9 1116.1L556.4 1116.8L563 1116.1L561.4 1110.8L559.5 1105.5L570.4 1103.1L581.3 1105.5L575.8 1110.8L584.5 1113.8L593.9 1110.8L587.3 1105.5L598.6 1102.1L603.9 1100.3L598.6 1096.7L596.4 1095L598.6 1094.1L605.2 1089.7L598.6 1086.9L590.6 1084.5L598.6 1081.9L605 1079.2L598.6 1075.6L584.5 1075.6L570.4 1075.3L566.3 1073.9L556.4 1071.9L544.6 1073.9L542.3 1074.4L538.4 1073.9L528.2 1072.6L514.5 1073.9L514.1 1074L500 1076.2L486 1074.9L479.9 1073.9L471.9 1071.2L457.8 1072.3L443.7 1071.7L429.6 1071.4L415.6 1073.7L401.5 1070.7L387.4 1071.9L373.3 1070.8L359.2 1071.2L345.1 1070.1L331.1 1071.3L317 1072.5L302.9 1073.3L288.8 1071.3L274.7 1072.6L260.7 1070.3L246.6 1070.5L232.5 1070.4L218.4 1072.1L204.3 1071.9L190.7 1068.7L190.2 1068.5L187.8 1068.7L176.2 1072.8L162.1 1071L148 1073.1M613.1 1063.4L626.8 1066.6L639.6 1068.7L640.9 1069L641.8 1068.7L654.9 1066.3L669 1066.7L683.1 1067L693.6 1068.7L697.2 1069.6L701.7 1068.7L711.3 1066.8L718 1068.7L725.3 1071.8L739.4 1069.3L753.5 1070.7L767.6 1070.8L775.1 1068.7L781.7 1067.1L788.3 1068.7L795.8 1070.7L809.8 1070.1L820.5 1068.7L823.9 1068.5L825.2 1068.7L838 1070.5M626.8 1316.3L626.9 1316.2L626.8 1316.2L626.5 1316.2L626.8 1316.3M556.4 1308L552.6 1305.7L556.4 1303.6L563.9 1305.7L556.4 1308M626.8 1306L627.6 1305.7L626.8 1303.3L626.1 1305.7L626.8 1306M612.7 1301.5L623.9 1300.4L612.7 1298.7L605.1 1300.4L612.7 1301.5M598.6 1298.6L604.7 1295.2L598.6 1290.2L591.6 1295.2L598.6 1298.6M626.8 1297.5L627.3 1295.2L626.8 1295L625.6 1295.2L626.8 1297.5M640.9 1291L649 1289.9L640.9 1288.5L638.5 1289.9L640.9 1291M683.1 1281.9L686.7 1279.4L683.1 1275.9L678.4 1279.4L683.1 1281.9M612.7 1274.9L624 1274.1L617.2 1268.8L612.7 1267.5L605.2 1268.8L606.1 1274.1L612.7 1274.9M612.7 1227.1L616 1226.7L612.7 1225.6L611.6 1226.7L612.7 1227.1M626.8 1222L629.5 1221.4L626.8 1220.9L625.5 1221.4L626.8 1222M612.7 1213.2L619.1 1210.9L612.7 1208.4L607.3 1210.9L612.7 1213.2M683.1 1214.4L689.2 1210.9L686.2 1205.6L683.1 1205.3L680 1205.6L677.6 1210.9L683.1 1214.4M598.6 1202.1L607.1 1200.4L598.6 1198.7L585.1 1200.4L598.6 1202.1M654.9 1201.5L655.3 1200.4L654.9 1200.2L654.5 1200.4L654.9 1201.5M598.6 1172.6L607.3 1168.7L598.6 1166.3L587.1 1168.7L598.6 1172.6M626.8 1164.6L640.9 1165L643.1 1163.5L640.9 1160.2L626.8 1162.1L619.9 1163.5L626.8 1164.6M626.8 1154L629.8 1152.9L626.8 1150L620.8 1152.9L626.8 1154M584.5 1132.2L588.1 1131.9L584.5 1131L583.8 1131.9L584.5 1132.2M612.7 1128.6L623.9 1126.6L612.7 1124.8L606.4 1126.6L612.7 1128.6M598.6 1118.1L602 1116.1L598.6 1115L596.6 1116.1L598.6 1118.1M626.8 1112.1L630.1 1110.8L626.8 1108.6L621.1 1110.8L626.8 1112.1M640.9 1100.4L641 1100.3L640.9 1100.2L640.7 1100.3L640.9 1100.4M612.7 1096.5L615.1 1095L612.7 1094L604.7 1095L612.7 1096.5M612.7 1085.3L616.1 1084.5L612.7 1083.6L609.9 1084.5L612.7 1085.3M556.4 1081L553.5 1079.2L556.4 1077.5L560.5 1079.2L556.4 1081M542.3 1069.6L542.7 1068.7L542.3 1068.5L541.9 1068.7L542.3 1069.6M584.5 1071.3L598.6 1072.3L605.4 1068.7L598.6 1064.2L584.5 1066.3L571.9 1068.7L584.5 1071.3M503.7 1321.5L514.1 1318.7L520.7 1316.2L514.1 1314.1L502.4 1311L500 1310L495.2 1311L486 1312.2L482.5 1311L479 1305.7L471.9 1302.3L468.3 1300.4L460.9 1295.2L457.8 1293.9L443.7 1292.6L435.4 1295.2L429.6 1297.6L415.6 1297L409.5 1295.2L401.5 1293.9L387.4 1293.6L381.9 1295.2L373.3 1296.4L360.1 1295.2L359.2 1295L358.6 1295.2L345.1 1297.1L334.2 1295.2L331.1 1293.8L317 1292.3L306.2 1295.2L302.9 1297.1L288.8 1296L274.7 1298.8L260.7 1296L246.6 1295.4L244.9 1295.2L232.5 1292.6L218.4 1294.5L216.6 1295.2L204.3 1298.4L195.8 1300.4L190.2 1303.2L183.6 1300.4L176.2 1299.2L170.1 1300.4L176.2 1303.2L183.6 1305.7L176.5 1311L176.2 1311.2L175 1311L162.1 1307.5L148 1309.7M148 1312.8L162.1 1315.2L163.6 1316.2L162.1 1316.9L151.8 1321.5M148 1301.8L152.2 1300.4L148 1299.5M838 1220.4L833 1221.4L823.9 1223.3L809.8 1225.8L806 1226.7L795.8 1228.1L786.6 1226.7L781.7 1225.5L771.2 1226.7L767.6 1227.2L761.4 1226.7L753.5 1226.3L752 1226.7L739.4 1230.6L725.3 1231.6L712.1 1232L717.1 1237.2L711.3 1240L702.8 1237.2L697.2 1234.4L692.1 1237.2L697.2 1240.1L702.5 1242.5L709.5 1247.8L711.3 1248.3L714.9 1247.8L725.3 1245.9L735.9 1247.8L725.3 1251.6L723.8 1253L725.3 1254.1L739.4 1256.1L746.3 1258.3L750.6 1263.6L753.5 1264.5L767.6 1265.9L781.7 1264.8L789 1263.6L795.8 1262.9L798.5 1263.6L808.7 1268.8L809.8 1269.1L811.1 1268.8L817.2 1263.6L823.9 1260.9L832.5 1263.6L838 1267.3M148 1198.8L157.9 1200.4L162.1 1201.1L170.8 1200.4L176.2 1199.5L185.8 1200.4L190.2 1201.1L204.2 1205.6L204.3 1205.6L218.4 1206.3L221.1 1205.6L232.5 1201.5L246.6 1203.9L260.7 1203.8L265.3 1205.6L274.7 1207.2L286.2 1205.6L288.8 1204.9L302.9 1204.4L304.5 1205.6L317 1207.9L323.5 1205.6L331.1 1202.3L345.1 1203.9L359.2 1203.6L373.3 1204.8L387.4 1205.3L391.5 1205.6L401.5 1205.8L402.6 1205.6L415.6 1202.6L429.6 1202.1L443.7 1203.7L457.8 1201.7L471.9 1200.5L474.9 1200.4L481.7 1195.1L486 1193.4L499.2 1189.8L500 1189.6L509.9 1189.8L514.1 1190L528.2 1192.7L542.3 1193.3L549.2 1189.8L542.3 1187.7L532.8 1184.5L531.4 1179.3L528.2 1178.1L519.2 1179.3L514.1 1180.1L511.8 1179.3L501 1174L500 1173.4L486 1173.3L471.9 1172.8L457.8 1171.3L443.7 1171.7L429.6 1172.8L415.6 1170.7L403.6 1168.7L401.5 1168.1L396.8 1168.7L387.4 1169.1L373.3 1169.7L364 1168.7L359.2 1167.6L345.1 1167.4L331.1 1167.4L317 1168L302.9 1164.6L290.7 1168.7L288.8 1169.1L286.8 1168.7L274.7 1166.2L260.7 1165L246.6 1166.2L232.5 1167.4L218.4 1166.7L204.3 1167.9L197.4 1168.7L190.2 1169.8L176.2 1172.3L166.8 1174L162.1 1175.1L158.6 1174L150.2 1168.7L148 1168.3M148 1178.4L150 1179.3L148 1180.4M838 1120.1L823.9 1121.3L809.8 1117.6L795.8 1120.3L785.4 1121.3L781.7 1121.9L767.6 1126.1L753.5 1126.5L739.4 1122.7L725.3 1125.7L711.3 1126.4L710.6 1126.6L711.3 1127.2L719.1 1131.9L711.3 1133.6L697.2 1136.4L694.9 1137.1L694.7 1142.4L697.2 1143.7L711.3 1142.6L725.3 1145.8L739.4 1146.6L751.3 1142.4L753.5 1141.7L755.7 1142.4L763.5 1147.7L767.6 1148.2L781.7 1149.3L795.8 1150.9L809.8 1149.1L816.1 1147.7L823.9 1147.2L830.9 1147.7L838 1149.4M148 1098.2L150.1 1100.3L162.1 1103L176.2 1102L190.2 1102.8L198.6 1105.5L204.3 1107.1L218.4 1106.5L232.5 1107.1L246.6 1106L250.9 1105.5L260.7 1104.5L274.7 1104.5L280.4 1105.5L288.8 1107L302.9 1107.3L317 1106.8L331.1 1107.6L343.9 1105.5L345.1 1105.2L359.2 1104.9L373.3 1105.3L387.4 1104.1L401.5 1104.5L410.6 1105.5L415.6 1105.8L429.6 1105.7L430.8 1105.5L443.7 1103.3L457.8 1103.2L471.9 1101.8L481.6 1100.3L486 1098.5L500 1095.2L514.1 1097.2L517.2 1095L525.4 1089.7L514.1 1087.5L502.8 1084.5L500 1083.5L494.6 1084.5L486 1085.7L477.9 1084.5L486 1081L488.1 1079.2L486 1078.7L474.3 1079.2L471.9 1079.9L457.8 1079.2L457.6 1079.2L443.7 1076.8L432.1 1079.2L429.6 1079.7L427.8 1079.2L415.6 1077.3L401.5 1076.7L387.4 1076.8L373.3 1077.5L359.2 1074.5L345.1 1076.7L331.1 1077.8L317 1078.3L302.9 1077.1L288.8 1075.9L274.7 1076.9L260.7 1077.1L247.2 1073.9L246.6 1073.9L244.8 1073.9L232.5 1076.9L218.4 1077.2L204.3 1076.4L194.7 1079.2L190.2 1080.7L176.2 1079.9L162.1 1081.6L151.4 1084.5L162.1 1087.8L163.8 1089.7L162.1 1091.6L148 1090.4M800.9 1063.4L809.8 1064.3L823.9 1064.5L834.9 1063.4M317 1300.6L315.5 1300.4L317 1300.1L317.4 1300.4L317 1300.6M345.1 1290.5L346.2 1289.9L345.1 1289.6L343.3 1289.9L345.1 1290.5M683.1 1264.3L687.3 1263.6L685.1 1258.3L683.1 1257.1L680.6 1258.3L680.7 1263.6L683.1 1264.3M711.3 1258.3L711.3 1258.3L711.3 1258.3L711.3 1258.3L711.3 1258.3M683.1 1243.8L686.9 1242.5L683.1 1241.7L678.8 1242.5L683.1 1243.8M739.4 1237.7L737.4 1237.2L739.4 1235L753.5 1234.3L757.2 1237.2L753.5 1238.9L739.4 1237.7M767.6 1226.1L773.6 1221.4L767.6 1219.9L763.5 1221.4L767.6 1226.1M471.9 1184.1L468.2 1179.3L471.9 1174.8L478.5 1179.3L471.9 1184.1M823.9 1126.9L821.8 1126.6L823.9 1121.7L825 1126.6L823.9 1126.9M287.4 1321.5L288.8 1320.5L289.8 1321.5M394.6 1321.5L401.5 1318L402.8 1316.2L409.8 1311L401.5 1306.2L394.3 1311L387.4 1316L386.9 1316.2L373.3 1320.9L363.7 1316.2L359.2 1314.9L345.1 1314.8L334.7 1316.2L331.1 1318.5L327.4 1316.2L331.1 1312.9L332 1311L331.1 1307.4L317.6 1311L317 1311L316.7 1311L302.9 1306.6L299.7 1311L288.8 1313.8L275.7 1311L274.7 1310.6L274 1311L260.7 1313.1L249.1 1316.2L246.6 1318.2L238.2 1316.2L239.9 1311L235.6 1305.7L232.5 1304.6L230.4 1305.7L228.1 1311L228.1 1316.2L219.7 1321.5M838 1241L836.2 1242.5L830.4 1247.8L823.9 1250L817.3 1253L823.9 1254.7L838 1255.6M838 1138.9L831.1 1137.1L838 1133.7M838 1125.8L836.6 1126.6L823.9 1130.4L809.8 1130.1L803.2 1131.9L809.8 1135.1L817.4 1137.1L812.3 1142.4L823.9 1144.5L838 1143.6M429.6 1312.1L430.9 1311L429.6 1310.8L427.5 1311L429.6 1312.1M359.2 1306.1L360.6 1305.7L359.2 1305.1L358.7 1305.7L359.2 1306.1M781.7 1245.8L788.7 1242.5L781.7 1240.3L774.2 1242.5L781.7 1245.8M795.8 1239.5L809.8 1237.9L810 1237.2L809.8 1237.1L795.8 1235.3L790.7 1237.2L795.8 1239.5M232.5 1196.5L239.1 1195.1L246.6 1191.6L254.8 1195.1L260.7 1196.7L266.7 1195.1L274.7 1192.1L288.8 1194.5L295.5 1195.1L302.9 1195.4L317 1196.9L326.9 1195.1L331 1189.8L327.7 1184.5L331.1 1183.4L332.7 1184.5L331.2 1189.8L345.1 1194.7L359.2 1194.5L373.3 1191.8L387.4 1193.1L399.6 1189.8L401.5 1187.8L415.6 1187.6L429.6 1184.9L430.7 1184.5L429.6 1184.3L415.6 1181.9L405.9 1179.3L401.5 1176.6L394.2 1174L387.4 1173.6L384.3 1174L373.3 1177.4L359.2 1176.8L354.6 1179.3L345.1 1180.9L338.1 1179.3L331.1 1177L317 1177.6L306.7 1174L302.9 1172.7L296.2 1174L288.8 1177.8L274.7 1176.2L260.7 1175.6L250.3 1179.3L246.6 1180.1L232.5 1182.8L223.2 1179.3L218.4 1178.3L208.8 1179.3L205.9 1184.5L218.4 1189.3L223.2 1189.8L223.6 1195.1L232.5 1196.5M415.6 1196.3L420.4 1195.1L415.6 1192.1L404.3 1195.1L415.6 1196.3M190.2 1180.1L196.5 1179.3L190.2 1178.6L187.5 1179.3L190.2 1180.1M232.5 1101.8L237.8 1100.3L243.9 1095L246.6 1091.1L253.6 1095L254.2 1100.3L260.7 1101.5L268.1 1100.3L274.7 1095L286 1100.3L288.8 1100.8L291.2 1100.3L302.9 1098L317 1098.4L331.1 1097.7L345.1 1096.6L353.5 1095L359.2 1094.2L373.3 1094.1L387.4 1093.9L394.5 1095L401.5 1095.9L405.4 1095L405.1 1089.7L401.5 1088.2L392.1 1084.5L387.4 1083L378.5 1084.5L373.3 1085.8L369.3 1084.5L359.2 1082.4L345.1 1084.1L331.1 1083.7L317 1083.7L302.9 1084.1L288.8 1083L274.7 1083.2L269.1 1084.5L260.7 1086L246.6 1089.3L232.5 1086.2L221.4 1084.5L218.4 1083.7L216.3 1084.5L211.9 1089.7L206.8 1095L218.4 1099.3L222.3 1100.3L232.5 1101.8M373.3 1100.7L375.1 1100.3L373.3 1097.4L366.9 1100.3L373.3 1100.7M457.8 1095.5L461.2 1095L460.2 1089.7L457.8 1088.2L451.6 1089.7L456.1 1095L457.8 1095.5M176.2 1094.1L178.7 1089.7L176.2 1087.6L174.5 1089.7L176.2 1094.1" fill="none" stroke="#000" stroke-width="2" stroke-linejoin="round"/>
</g>
<rect x="148" y="788" width="690" height="255.5" fill="none" stroke="#000" stroke-width="2"/>
<rect x="148" y="1063.4" width="690" height="258.0999999999999" fill="none" stroke="#000" stroke-width="2"/>
<line x1="138" y1="973.8" x2="148" y2="973.8" stroke="#000" stroke-width="2"/>
<text x="127" y="983.8" text-anchor="end" font-size="28">2</text>
<line x1="138" y1="1251.1" x2="148" y2="1251.1" stroke="#000" stroke-width="2"/>
<text x="127" y="1261.1" text-anchor="end" font-size="28">2</text>
<line x1="336.2" y1="1321.5" x2="336.2" y2="1331.5" stroke="#000" stroke-width="2"/>
<text x="336.2" y="1364" text-anchor="middle" font-size="28">2</text>
<line x1="138" y1="880.9" x2="148" y2="880.9" stroke="#000" stroke-width="2"/>
<text x="127" y="890.9" text-anchor="end" font-size="28">4</text>
<line x1="138" y1="1157.3" x2="148" y2="1157.3" stroke="#000" stroke-width="2"/>
<text x="127" y="1167.3" text-anchor="end" font-size="28">4</text>
<line x1="587.1" y1="1321.5" x2="587.1" y2="1331.5" stroke="#000" stroke-width="2"/>
<text x="587.1" y="1364" text-anchor="middle" font-size="28">4</text>
<line x1="138" y1="788" x2="148" y2="788" stroke="#000" stroke-width="2"/>
<text x="127" y="798" text-anchor="end" font-size="28">6</text>
<line x1="138" y1="1063.4" x2="148" y2="1063.4" stroke="#000" stroke-width="2"/>
<text x="127" y="1073.4" text-anchor="end" font-size="28">6</text>
<line x1="838" y1="1321.5" x2="838" y2="1331.5" stroke="#000" stroke-width="2"/>
<text x="838" y="1364" text-anchor="middle" font-size="28">6</text>
<text x="493" y="774" text-anchor="middle" font-size="28" font-weight="bold">Histological analysis</text>
<rect x="858.4" y="1232.6" width="22.8" height="89.2" fill="#440154"/>
<rect x="858.4" y="1143.7" width="22.8" height="89.2" fill="#414487"/>
<rect x="858.4" y="1054.8" width="22.8" height="89.2" fill="#2a788e"/>
<rect x="858.4" y="965.8" width="22.8" height="89.2" fill="#22a884"/>
<rect x="858.4" y="876.9" width="22.8" height="89.2" fill="#7ad151"/>
<rect x="858.4" y="788" width="22.8" height="89.2" fill="#fde725"/>
<rect x="858.4" y="788" width="22.8" height="533.5" fill="none" stroke="#000" stroke-width="2"/>
<line x1="881.2" y1="1277" x2="891.2" y2="1277" stroke="#000" stroke-width="2"/>
<text x="900" y="1287" text-anchor="start" font-size="28">1</text>
<line x1="881.2" y1="1188.1" x2="891.2" y2="1188.1" stroke="#000" stroke-width="2"/>
<text x="900" y="1198.1" text-anchor="start" font-size="28">2</text>
<line x1="881.2" y1="1099.2" x2="891.2" y2="1099.2" stroke="#000" stroke-width="2"/>
<text x="900" y="1109.2" text-anchor="start" font-size="28">3</text>
<line x1="881.2" y1="1010.3" x2="891.2" y2="1010.3" stroke="#000" stroke-width="2"/>
<text x="900" y="1020.3" text-anchor="start" font-size="28">4</text>
<line x1="881.2" y1="921.4" x2="891.2" y2="921.4" stroke="#000" stroke-width="2"/>
<text x="900" y="931.4" text-anchor="start" font-size="28">5</text>
<line x1="881.2" y1="832.5" x2="891.2" y2="832.5" stroke="#000" stroke-width="2"/>
<text x="900" y="842.5" text-anchor="start" font-size="28">6</text>
<text x="0" y="0" transform="translate(952 1054.8) rotate(-90)" text-anchor="middle" font-size="28">cell group</text>
<line x1="1422" y1="640.6" x2="1104.4" y2="497.1" stroke="rgba(0,0,0,0.12)" stroke-width="2"/>
<line x1="1294.6" y1="623.5" x2="1664.9" y2="501.1" stroke="rgba(0,0,0,0.12)" stroke-width="2"/>
<line x1="1104.4" y1="497.1" x2="1104.4" y2="197.1" stroke="rgba(0,0,0,0.12)" stroke-width="2"/>
<line x1="1052.6" y1="488.7" x2="1422.9" y2="366.3" stroke="rgba(0,0,0,0.12)" stroke-width="2"/>
<line x1="1664.9" y1="501.1" x2="1664.9" y2="201.1" stroke="rgba(0,0,0,0.12)" stroke-width="2"/>
<line x1="1740.5" y1="509.8" x2="1422.9" y2="366.3" stroke="rgba(0,0,0,0.12)" stroke-width="2"/>
<line x1="1553.5" y1="597.1" x2="1235.9" y2="453.6" stroke="rgba(0,0,0,0.12)" stroke-width="2"/>
<line x1="1206.9" y1="583.9" x2="1577.2" y2="461.5" stroke="rgba(0,0,0,0.12)" stroke-width="2"/>
<line x1="1235.9" y1="453.6" x2="1235.9" y2="153.6" stroke="rgba(0,0,0,0.12)" stroke-width="2"/>
<line x1="1052.6" y1="366.2" x2="1422.9" y2="243.8" stroke="rgba(0,0,0,0.12)" stroke-width="2"/>
<line x1="1577.2" y1="461.5" x2="1577.2" y2="161.5" stroke="rgba(0,0,0,0.12)" stroke-width="2"/>
<line x1="1740.5" y1="387.3" x2="1422.9" y2="243.8" stroke="rgba(0,0,0,0.12)" stroke-width="2"/>
<line x1="1685.1" y1="553.6" x2="1367.5" y2="410.1" stroke="rgba(0,0,0,0.12)" stroke-width="2"/>
<line x1="1119.2" y1="544.3" x2="1489.5" y2="421.9" stroke="rgba(0,0,0,0.12)" stroke-width="2"/>
<line x1="1367.5" y1="410.1" x2="1367.5" y2="110.1" stroke="rgba(0,0,0,0.12)" stroke-width="2"/>
<line x1="1052.6" y1="243.7" x2="1422.9" y2="121.3" stroke="rgba(0,0,0,0.12)" stroke-width="2"/>
<line x1="1489.5" y1="421.9" x2="1489.5" y2="121.9" stroke="rgba(0,0,0,0.12)" stroke-width="2"/>
<line x1="1740.5" y1="264.8" x2="1422.9" y2="121.3" stroke="rgba(0,0,0,0.12)" stroke-width="2"/>
<line x1="1052.6" y1="514.2" x2="1422.9" y2="391.8" stroke="#000" stroke-width="2"/>
<line x1="1422.9" y1="391.8" x2="1740.5" y2="535.3" stroke="#000" stroke-width="2"/>
<line x1="1422.9" y1="391.8" x2="1422.9" y2="91.8" stroke="#000" stroke-width="2"/>
<line x1="1422.9" y1="91.8" x2="1052.6" y2="214.2" stroke="#000" stroke-width="2"/>
<line x1="1052.6" y1="214.2" x2="1052.6" y2="514.2" stroke="#000" stroke-width="2"/>
<line x1="1422.9" y1="91.8" x2="1740.5" y2="235.3" stroke="#000" stroke-width="2"/>
<line x1="1740.5" y1="235.3" x2="1740.5" y2="535.3" stroke="#000" stroke-width="2"/>
<line x1="1052.6" y1="514.2" x2="1370.2" y2="657.7" stroke="#000" stroke-width="2"/>
<line x1="1370.2" y1="657.7" x2="1740.5" y2="535.3" stroke="#000" stroke-width="2"/>
<defs><linearGradient id="br1" x1="0" y1="0" x2="1" y2="0"><stop offset="0.000" stop-color="#421153"/><stop offset="0.074" stop-color="#4b1459"/><stop offset="0.148" stop-color="#571863"/><stop offset="0.222" stop-color="#671d6f"/><stop offset="0.296" stop-color="#752178"/><stop offset="0.370" stop-color="#7b247a"/><stop offset="0.444" stop-color="#7e2578"/><stop offset="0.519" stop-color="#782370"/><stop offset="0.593" stop-color="#76236b"/><stop offset="0.667" stop-color="#752267"/><stop offset="0.741" stop-color="#732263"/><stop offset="0.815" stop-color="#71225e"/><stop offset="0.889" stop-color="#6b2057"/><stop offset="0.963" stop-color="#691f51"/><stop offset="1.000" stop-color="#691f4f"/></linearGradient><linearGradient id="br2" x1="0" y1="0" x2="1" y2="0"><stop offset="0.000" stop-color="#401052"/><stop offset="0.052" stop-color="#461258"/><stop offset="0.104" stop-color="#511661"/><stop offset="0.156" stop-color="#611b6f"/><stop offset="0.208" stop-color="#71207a"/><stop offset="0.260" stop-color="#7c2480"/><stop offset="0.312" stop-color="#862783"/><stop offset="0.364" stop-color="#8d2984"/><stop offset="0.416" stop-color="#922b83"/><stop offset="0.468" stop-color="#962c82"/><stop offset="0.519" stop-color="#9b2e81"/><stop offset="0.571" stop-color="#9d2f80"/><stop offset="0.623" stop-color="#a02f7f"/><stop offset="0.675" stop-color="#a2307d"/><stop offset="0.727" stop-color="#a3317b"/><stop offset="0.779" stop-color="#a33177"/><stop offset="0.831" stop-color="#a23071"/><stop offset="0.883" stop-color="#982e65"/><stop offset="0.935" stop-color="#812751"/><stop offset="0.987" stop-color="#722344"/><stop offset="1.000" stop-color="#722343"/></linearGradient><linearGradient id="br3" x1="0" y1="0" x2="1" y2="0"><stop offset="0.000" stop-color="#3d0f52"/><stop offset="0.042" stop-color="#451257"/><stop offset="0.084" stop-color="#4f1561"/><stop offset="0.126" stop-color="#561766"/><stop offset="0.168" stop-color="#691d78"/><stop offset="0.211" stop-color="#74207f"/><stop offset="0.253" stop-color="#7d2482"/><stop offset="0.295" stop-color="#852784"/><stop offset="0.337" stop-color="#8d2983"/><stop offset="0.379" stop-color="#922b81"/><stop offset="0.421" stop-color="#982d80"/><stop offset="0.463" stop-color="#9d2e7f"/><stop offset="0.505" stop-color="#a3307e"/><stop offset="0.547" stop-color="#a6327d"/><stop offset="0.589" stop-color="#ab337c"/><stop offset="0.632" stop-color="#af347c"/><stop offset="0.674" stop-color="#b3357b"/><stop offset="0.716" stop-color="#b7377b"/><stop offset="0.758" stop-color="#bc397a"/><stop offset="0.800" stop-color="#c13b78"/><stop offset="0.842" stop-color="#c53c74"/><stop offset="0.884" stop-color="#bf3b6a"/><stop offset="0.926" stop-color="#a53458"/><stop offset="0.968" stop-color="#802941"/><stop offset="1.000" stop-color="#79273b"/></linearGradient><linearGradient id="br4" x1="0" y1="0" x2="1" y2="0"><stop offset="0.000" stop-color="#390e50"/><stop offset="0.038" stop-color="#451259"/><stop offset="0.076" stop-color="#5d1970"/><stop offset="0.114" stop-color="#6e1e7d"/><stop offset="0.152" stop-color="#762181"/><stop offset="0.190" stop-color="#7c2382"/><stop offset="0.229" stop-color="#822584"/><stop offset="0.267" stop-color="#882783"/><stop offset="0.305" stop-color="#8e2a81"/><stop offset="0.343" stop-color="#942c80"/><stop offset="0.381" stop-color="#9d2e7f"/><stop offset="0.419" stop-color="#a3307e"/><stop offset="0.457" stop-color="#aa337d"/><stop offset="0.495" stop-color="#af347c"/><stop offset="0.533" stop-color="#b4367a"/><stop offset="0.571" stop-color="#b83779"/><stop offset="0.610" stop-color="#bc3978"/><stop offset="0.648" stop-color="#c13a76"/><stop offset="0.686" stop-color="#c43c75"/><stop offset="0.724" stop-color="#c73d74"/><stop offset="0.762" stop-color="#cc3f72"/><stop offset="0.800" stop-color="#d2426f"/><stop offset="0.838" stop-color="#d9466c"/><stop offset="0.876" stop-color="#da4868"/><stop offset="0.914" stop-color="#cc455c"/><stop offset="0.952" stop-color="#9d3744"/><stop offset="0.990" stop-color="#7a2c34"/><stop offset="1.000" stop-color="#772b33"/></linearGradient><linearGradient id="br5" x1="0" y1="0" x2="1" y2="0"><stop offset="0.000" stop-color="#360d4e"/><stop offset="0.035" stop-color="#45125a"/><stop offset="0.071" stop-color="#621a76"/><stop offset="0.106" stop-color="#732082"/><stop offset="0.141" stop-color="#7d2484"/><stop offset="0.176" stop-color="#832683"/><stop offset="0.212" stop-color="#882882"/><stop offset="0.247" stop-color="#8e2a81"/><stop offset="0.282" stop-color="#942c80"/><stop offset="0.318" stop-color="#9d2e7f"/><stop offset="0.353" stop-color="#a5317e"/><stop offset="0.388" stop-color="#ab337c"/><stop offset="0.424" stop-color="#b4367a"/><stop offset="0.459" stop-color="#b83779"/><stop offset="0.494" stop-color="#bf3a77"/><stop offset="0.529" stop-color="#c43c75"/><stop offset="0.565" stop-color="#c93e73"/><stop offset="0.600" stop-color="#cc3f72"/><stop offset="0.635" stop-color="#cf4170"/><stop offset="0.671" stop-color="#d4436e"/><stop offset="0.706" stop-color="#d7456c"/><stop offset="0.741" stop-color="#db476a"/><stop offset="0.776" stop-color="#e04c67"/><stop offset="0.812" stop-color="#e44f65"/><stop offset="0.847" stop-color="#e95462"/><stop offset="0.882" stop-color="#ea585f"/><stop offset="0.918" stop-color="#d15152"/><stop offset="0.953" stop-color="#a4423f"/><stop offset="0.988" stop-color="#8d3936"/><stop offset="1.000" stop-color="#8b3835"/></linearGradient><linearGradient id="br6" x1="0" y1="0" x2="1" y2="0"><stop offset="0.000" stop-color="#340c4d"/><stop offset="0.033" stop-color="#431159"/><stop offset="0.066" stop-color="#601a75"/><stop offset="0.098" stop-color="#742083"/><stop offset="0.131" stop-color="#7e2483"/><stop offset="0.164" stop-color="#862781"/><stop offset="0.197" stop-color="#8e2a81"/><stop offset="0.230" stop-color="#942c80"/><stop offset="0.262" stop-color="#9d2e7f"/><stop offset="0.295" stop-color="#a5317e"/><stop offset="0.328" stop-color="#ad347c"/><stop offset="0.361" stop-color="#b5367a"/><stop offset="0.393" stop-color="#bd3977"/><stop offset="0.426" stop-color="#c43c75"/><stop offset="0.459" stop-color="#ca3e72"/><stop offset="0.492" stop-color="#cf4170"/><stop offset="0.525" stop-color="#d4436e"/><stop offset="0.557" stop-color="#d8466c"/><stop offset="0.590" stop-color="#db476a"/><stop offset="0.623" stop-color="#df4a68"/><stop offset="0.656" stop-color="#e24d66"/><stop offset="0.689" stop-color="#e65064"/><stop offset="0.721" stop-color="#e95462"/><stop offset="0.754" stop-color="#ec5960"/><stop offset="0.787" stop-color="#ef5d5e"/><stop offset="0.820" stop-color="#f2625d"/><stop offset="0.852" stop-color="#f4675c"/><stop offset="0.885" stop-color="#f26b5a"/><stop offset="0.918" stop-color="#e26754"/><stop offset="0.951" stop-color="#b65443"/><stop offset="0.984" stop-color="#904336"/><stop offset="1.000" stop-color="#8e4135"/></linearGradient><linearGradient id="br7" x1="0" y1="0" x2="1" y2="0"><stop offset="0.000" stop-color="#2f0a4c"/><stop offset="0.030" stop-color="#3b0e57"/><stop offset="0.061" stop-color="#511569"/><stop offset="0.091" stop-color="#6a1d7e"/><stop offset="0.122" stop-color="#7a2284"/><stop offset="0.152" stop-color="#812582"/><stop offset="0.182" stop-color="#8c2981"/><stop offset="0.213" stop-color="#962c80"/><stop offset="0.243" stop-color="#a02f7f"/><stop offset="0.273" stop-color="#a8327d"/><stop offset="0.304" stop-color="#b2357b"/><stop offset="0.334" stop-color="#ba3878"/><stop offset="0.365" stop-color="#c23b75"/><stop offset="0.395" stop-color="#ca3e72"/><stop offset="0.425" stop-color="#d0416f"/><stop offset="0.456" stop-color="#d7456c"/><stop offset="0.486" stop-color="#dc4869"/><stop offset="0.516" stop-color="#e04c67"/><stop offset="0.547" stop-color="#e34e65"/><stop offset="0.577" stop-color="#e75263"/><stop offset="0.608" stop-color="#ea5661"/><stop offset="0.638" stop-color="#ec5960"/><stop offset="0.668" stop-color="#ef5d5e"/><stop offset="0.699" stop-color="#f2625d"/><stop offset="0.729" stop-color="#f4675c"/><stop offset="0.759" stop-color="#f66d5c"/><stop offset="0.790" stop-color="#f7725c"/><stop offset="0.820" stop-color="#f9785d"/><stop offset="0.851" stop-color="#fa7b5d"/><stop offset="0.881" stop-color="#fb805f"/><stop offset="0.911" stop-color="#f17b5b"/><stop offset="0.942" stop-color="#d56c50"/><stop offset="0.972" stop-color="#9a4e3a"/><stop offset="1.000" stop-color="#824131"/></linearGradient><linearGradient id="br8" x1="0" y1="0" x2="1" y2="0"><stop offset="0.000" stop-color="#2a0948"/><stop offset="0.029" stop-color="#390d57"/><stop offset="0.058" stop-color="#551576"/><stop offset="0.087" stop-color="#691c81"/><stop offset="0.117" stop-color="#752084"/><stop offset="0.146" stop-color="#802582"/><stop offset="0.175" stop-color="#8b2981"/><stop offset="0.204" stop-color="#962c80"/><stop offset="0.233" stop-color="#a1307e"/><stop offset="0.262" stop-color="#ab337c"/><stop offset="0.291" stop-color="#b73779"/><stop offset="0.320" stop-color="#c13a76"/><stop offset="0.350" stop-color="#ca3e72"/><stop offset="0.379" stop-color="#d4436e"/><stop offset="0.408" stop-color="#d9466b"/><stop offset="0.437" stop-color="#df4a68"/><stop offset="0.466" stop-color="#e44f65"/><stop offset="0.495" stop-color="#e85362"/><stop offset="0.524" stop-color="#eb5760"/><stop offset="0.553" stop-color="#ee5c5f"/><stop offset="0.583" stop-color="#f1605d"/><stop offset="0.612" stop-color="#f2645c"/><stop offset="0.641" stop-color="#f5695c"/><stop offset="0.670" stop-color="#f66e5c"/><stop offset="0.699" stop-color="#f7725c"/><stop offset="0.728" stop-color="#f9785d"/><stop offset="0.757" stop-color="#fa7d5e"/><stop offset="0.786" stop-color="#fb835f"/><stop offset="0.816" stop-color="#fc8761"/><stop offset="0.845" stop-color="#fc8b62"/><stop offset="0.874" stop-color="#fc8e64"/><stop offset="0.903" stop-color="#fe8f64"/><stop offset="0.932" stop-color="#f1865f"/><stop offset="0.961" stop-color="#bf694b"/><stop offset="0.990" stop-color="#7e4431"/><stop offset="1.000" stop-color="#7e4431"/></linearGradient><linearGradient id="br9" x1="0" y1="0" x2="1" y2="0"><stop offset="0.000" stop-color="#290947"/><stop offset="0.028" stop-color="#370c57"/><stop offset="0.056" stop-color="#531477"/><stop offset="0.084" stop-color="#661b82"/><stop offset="0.112" stop-color="#721f81"/><stop offset="0.140" stop-color="#7d2482"/><stop offset="0.168" stop-color="#892881"/><stop offset="0.196" stop-color="#962c80"/><stop offset="0.224" stop-color="#a1307e"/><stop offset="0.252" stop-color="#af347c"/><stop offset="0.280" stop-color="#bc3978"/><stop offset="0.308" stop-color="#c73d74"/><stop offset="0.336" stop-color="#d2426f"/><stop offset="0.364" stop-color="#db476a"/><stop offset="0.393" stop-color="#e24d66"/><stop offset="0.421" stop-color="#e85362"/><stop offset="0.449" stop-color="#ec5960"/><stop offset="0.477" stop-color="#ef5d5e"/><stop offset="0.505" stop-color="#f2645c"/><stop offset="0.533" stop-color="#f4675c"/><stop offset="0.561" stop-color="#f66d5c"/><stop offset="0.589" stop-color="#f7725c"/><stop offset="0.617" stop-color="#f8765c"/><stop offset="0.645" stop-color="#fa7b5d"/><stop offset="0.673" stop-color="#fa7f5e"/><stop offset="0.701" stop-color="#fb8560"/><stop offset="0.729" stop-color="#fc8b62"/><stop offset="0.757" stop-color="#fd9065"/><stop offset="0.785" stop-color="#fd9467"/><stop offset="0.813" stop-color="#fd9869"/><stop offset="0.841" stop-color="#fe9c6b"/><stop offset="0.869" stop-color="#fe9c6b"/><stop offset="0.897" stop-color="#fe9c6b"/><stop offset="0.925" stop-color="#ee9163"/><stop offset="0.953" stop-color="#bf714e"/><stop offset="0.981" stop-color="#95573c"/><stop offset="1.000" stop-color="#8b5038"/></linearGradient><linearGradient id="br10" x1="0" y1="0" x2="1" y2="0"><stop offset="0.000" stop-color="#290947"/><stop offset="0.027" stop-color="#330b55"/><stop offset="0.054" stop-color="#501376"/><stop offset="0.081" stop-color="#631981"/><stop offset="0.108" stop-color="#6e1e81"/><stop offset="0.135" stop-color="#792282"/><stop offset="0.161" stop-color="#862781"/><stop offset="0.188" stop-color="#932b80"/><stop offset="0.215" stop-color="#a02f7f"/><stop offset="0.242" stop-color="#af347c"/><stop offset="0.269" stop-color="#bc3978"/><stop offset="0.296" stop-color="#c93e73"/><stop offset="0.323" stop-color="#d5446d"/><stop offset="0.350" stop-color="#e04c67"/><stop offset="0.377" stop-color="#e85362"/><stop offset="0.404" stop-color="#ed5a5f"/><stop offset="0.430" stop-color="#f2625d"/><stop offset="0.457" stop-color="#f5695c"/><stop offset="0.484" stop-color="#f66e5c"/><stop offset="0.511" stop-color="#f8745c"/><stop offset="0.538" stop-color="#f97a5d"/><stop offset="0.565" stop-color="#fa7d5e"/><stop offset="0.592" stop-color="#fb835f"/><stop offset="0.619" stop-color="#fc8761"/><stop offset="0.646" stop-color="#fc8c63"/><stop offset="0.673" stop-color="#fd9266"/><stop offset="0.700" stop-color="#fd9668"/><stop offset="0.726" stop-color="#fe9c6b"/><stop offset="0.753" stop-color="#fea16e"/><stop offset="0.780" stop-color="#fea571"/><stop offset="0.807" stop-color="#fea973"/><stop offset="0.834" stop-color="#feab74"/><stop offset="0.861" stop-color="#feab74"/><stop offset="0.888" stop-color="#fea973"/><stop offset="0.915" stop-color="#fba36f"/><stop offset="0.942" stop-color="#e79364"/><stop offset="0.969" stop-color="#ab6b49"/><stop offset="0.996" stop-color="#804e36"/><stop offset="1.000" stop-color="#7f4e35"/></linearGradient><linearGradient id="br11" x1="0" y1="0" x2="1" y2="0"><stop offset="0.000" stop-color="#280945"/><stop offset="0.026" stop-color="#320b56"/><stop offset="0.053" stop-color="#4f1277"/><stop offset="0.079" stop-color="#601881"/><stop offset="0.105" stop-color="#6b1d81"/><stop offset="0.132" stop-color="#782282"/><stop offset="0.158" stop-color="#842681"/><stop offset="0.184" stop-color="#912b81"/><stop offset="0.211" stop-color="#a02f7f"/><stop offset="0.237" stop-color="#ad347c"/><stop offset="0.263" stop-color="#bc3978"/><stop offset="0.289" stop-color="#ca3e72"/><stop offset="0.316" stop-color="#d7456c"/><stop offset="0.342" stop-color="#e34e65"/><stop offset="0.368" stop-color="#eb5760"/><stop offset="0.395" stop-color="#f1605d"/><stop offset="0.421" stop-color="#f5695c"/><stop offset="0.447" stop-color="#f7725c"/><stop offset="0.474" stop-color="#f97a5d"/><stop offset="0.500" stop-color="#fa7f5e"/><stop offset="0.526" stop-color="#fb8560"/><stop offset="0.553" stop-color="#fc8b62"/><stop offset="0.579" stop-color="#fc8e64"/><stop offset="0.605" stop-color="#fd9467"/><stop offset="0.632" stop-color="#fd9869"/><stop offset="0.658" stop-color="#fe9d6c"/><stop offset="0.684" stop-color="#fea16e"/><stop offset="0.711" stop-color="#fea772"/><stop offset="0.737" stop-color="#feac76"/><stop offset="0.763" stop-color="#feb078"/><stop offset="0.789" stop-color="#feb47b"/><stop offset="0.816" stop-color="#feb77e"/><stop offset="0.842" stop-color="#feb77e"/><stop offset="0.868" stop-color="#feb77e"/><stop offset="0.895" stop-color="#feb47b"/><stop offset="0.921" stop-color="#feb078"/><stop offset="0.947" stop-color="#e79d6b"/><stop offset="0.974" stop-color="#a16b49"/><stop offset="1.000" stop-color="#7f5339"/></linearGradient><linearGradient id="br12" x1="0" y1="0" x2="1" y2="0"><stop offset="0.000" stop-color="#270944"/><stop offset="0.026" stop-color="#330b57"/><stop offset="0.052" stop-color="#501278"/><stop offset="0.078" stop-color="#601880"/><stop offset="0.104" stop-color="#6b1d81"/><stop offset="0.130" stop-color="#782282"/><stop offset="0.157" stop-color="#842681"/><stop offset="0.183" stop-color="#932b80"/><stop offset="0.209" stop-color="#a02f7f"/><stop offset="0.235" stop-color="#af347c"/><stop offset="0.261" stop-color="#bd3977"/><stop offset="0.287" stop-color="#cc3f72"/><stop offset="0.313" stop-color="#d9466b"/><stop offset="0.339" stop-color="#e65064"/><stop offset="0.365" stop-color="#ee5c5f"/><stop offset="0.391" stop-color="#f4675c"/><stop offset="0.417" stop-color="#f7725c"/><stop offset="0.443" stop-color="#fa7b5d"/><stop offset="0.470" stop-color="#fb8560"/><stop offset="0.496" stop-color="#fc8c63"/><stop offset="0.522" stop-color="#fd9266"/><stop offset="0.548" stop-color="#fd9668"/><stop offset="0.574" stop-color="#fe9c6b"/><stop offset="0.600" stop-color="#fe9f6d"/><stop offset="0.626" stop-color="#fea36f"/><stop offset="0.652" stop-color="#fea973"/><stop offset="0.678" stop-color="#feae77"/><stop offset="0.704" stop-color="#feb27a"/><stop offset="0.730" stop-color="#feb77e"/><stop offset="0.757" stop-color="#febd82"/><stop offset="0.783" stop-color="#fec185"/><stop offset="0.809" stop-color="#fec488"/><stop offset="0.835" stop-color="#fec488"/><stop offset="0.861" stop-color="#fec488"/><stop offset="0.887" stop-color="#fec387"/><stop offset="0.913" stop-color="#febd82"/><stop offset="0.939" stop-color="#f4b27a"/><stop offset="0.965" stop-color="#c28b5f"/><stop offset="0.991" stop-color="#7f593d"/><stop offset="1.000" stop-color="#7f593d"/></linearGradient><linearGradient id="br13" x1="0" y1="0" x2="1" y2="0"><stop offset="0.000" stop-color="#260943"/><stop offset="0.026" stop-color="#330b57"/><stop offset="0.052" stop-color="#4f1278"/><stop offset="0.077" stop-color="#5f1880"/><stop offset="0.103" stop-color="#6b1d81"/><stop offset="0.129" stop-color="#782282"/><stop offset="0.155" stop-color="#862781"/><stop offset="0.181" stop-color="#932b80"/><stop offset="0.206" stop-color="#a1307e"/><stop offset="0.232" stop-color="#b0357b"/><stop offset="0.258" stop-color="#bf3a77"/><stop offset="0.284" stop-color="#cd4071"/><stop offset="0.310" stop-color="#db476a"/><stop offset="0.335" stop-color="#e75263"/><stop offset="0.361" stop-color="#ef5d5e"/><stop offset="0.387" stop-color="#f56b5c"/><stop offset="0.413" stop-color="#f9785d"/><stop offset="0.439" stop-color="#fb8560"/><stop offset="0.465" stop-color="#fc8e64"/><stop offset="0.490" stop-color="#fd9668"/><stop offset="0.516" stop-color="#fe9d6c"/><stop offset="0.542" stop-color="#fea16e"/><stop offset="0.568" stop-color="#fea571"/><stop offset="0.594" stop-color="#fea973"/><stop offset="0.619" stop-color="#feae77"/><stop offset="0.645" stop-color="#feb27a"/><stop offset="0.671" stop-color="#feb77e"/><stop offset="0.697" stop-color="#febd82"/><stop offset="0.723" stop-color="#fec387"/><stop offset="0.748" stop-color="#fec88c"/><stop offset="0.774" stop-color="#fecc8f"/><stop offset="0.800" stop-color="#fecf92"/><stop offset="0.826" stop-color="#fed194"/><stop offset="0.852" stop-color="#fed194"/><stop offset="0.877" stop-color="#fecf92"/><stop offset="0.903" stop-color="#feca8d"/><stop offset="0.929" stop-color="#fac388"/><stop offset="0.955" stop-color="#d8a471"/><stop offset="0.981" stop-color="#8a6747"/><stop offset="1.000" stop-color="#7f5e40"/></linearGradient><linearGradient id="br14" x1="0" y1="0" x2="1" y2="0"><stop offset="0.000" stop-color="#260943"/><stop offset="0.026" stop-color="#320b56"/><stop offset="0.051" stop-color="#4f1278"/><stop offset="0.077" stop-color="#5f1880"/><stop offset="0.102" stop-color="#6b1d81"/><stop offset="0.128" stop-color="#782282"/><stop offset="0.153" stop-color="#862781"/><stop offset="0.179" stop-color="#932b80"/><stop offset="0.204" stop-color="#a1307e"/><stop offset="0.230" stop-color="#b0357b"/><stop offset="0.255" stop-color="#bf3a77"/><stop offset="0.281" stop-color="#cd4071"/><stop offset="0.306" stop-color="#db476a"/><stop offset="0.332" stop-color="#e75263"/><stop offset="0.357" stop-color="#f05f5e"/><stop offset="0.383" stop-color="#f66d5c"/><stop offset="0.409" stop-color="#fa7d5e"/><stop offset="0.434" stop-color="#fc8b62"/><stop offset="0.460" stop-color="#fd9668"/><stop offset="0.485" stop-color="#fe9f6d"/><stop offset="0.511" stop-color="#fea772"/><stop offset="0.536" stop-color="#feab74"/><stop offset="0.562" stop-color="#feae77"/><stop offset="0.587" stop-color="#feb27a"/><stop offset="0.613" stop-color="#feb67d"/><stop offset="0.638" stop-color="#febb81"/><stop offset="0.664" stop-color="#fec185"/><stop offset="0.689" stop-color="#fec488"/><stop offset="0.715" stop-color="#feca8d"/><stop offset="0.740" stop-color="#fecf92"/><stop offset="0.766" stop-color="#fed597"/><stop offset="0.791" stop-color="#feda9c"/><stop offset="0.817" stop-color="#fedc9e"/><stop offset="0.843" stop-color="#fddea0"/><stop offset="0.868" stop-color="#fedc9e"/><stop offset="0.894" stop-color="#fed799"/><stop offset="0.919" stop-color="#fed194"/><stop offset="0.945" stop-color="#edbe85"/><stop offset="0.970" stop-color="#af8a60"/><stop offset="0.996" stop-color="#7f6244"/><stop offset="1.000" stop-color="#7f6244"/></linearGradient><linearGradient id="br15" x1="0" y1="0" x2="1" y2="0"><stop offset="0.000" stop-color="#260943"/><stop offset="0.025" stop-color="#310b55"/><stop offset="0.051" stop-color="#4f1277"/><stop offset="0.076" stop-color="#5f1880"/><stop offset="0.101" stop-color="#6b1d81"/><stop offset="0.127" stop-color="#782282"/><stop offset="0.152" stop-color="#862781"/><stop offset="0.178" stop-color="#942c80"/><stop offset="0.203" stop-color="#a3307e"/><stop offset="0.228" stop-color="#b2357b"/><stop offset="0.254" stop-color="#c13a76"/><stop offset="0.279" stop-color="#cf4170"/><stop offset="0.304" stop-color="#dc4869"/><stop offset="0.330" stop-color="#e85362"/><stop offset="0.355" stop-color="#f1605d"/><stop offset="0.381" stop-color="#f66e5c"/><stop offset="0.406" stop-color="#fa7f5e"/><stop offset="0.431" stop-color="#fd9065"/><stop offset="0.457" stop-color="#fe9d6c"/><stop offset="0.482" stop-color="#fea973"/><stop offset="0.507" stop-color="#feb078"/><stop offset="0.533" stop-color="#feb47b"/><stop offset="0.558" stop-color="#feb67d"/><stop offset="0.584" stop-color="#feb97f"/><stop offset="0.609" stop-color="#febd82"/><stop offset="0.634" stop-color="#fec387"/><stop offset="0.660" stop-color="#fec88c"/><stop offset="0.685" stop-color="#fecc8f"/><stop offset="0.710" stop-color="#fed194"/><stop offset="0.736" stop-color="#fed799"/><stop offset="0.761" stop-color="#fedc9e"/><stop offset="0.786" stop-color="#fde2a3"/><stop offset="0.812" stop-color="#fde5a7"/><stop offset="0.837" stop-color="#fde7a9"/><stop offset="0.863" stop-color="#fde5a7"/><stop offset="0.888" stop-color="#fde2a3"/><stop offset="0.913" stop-color="#fedc9e"/><stop offset="0.939" stop-color="#f5cf93"/><stop offset="0.964" stop-color="#c7a575"/><stop offset="0.989" stop-color="#7f6849"/><stop offset="1.000" stop-color="#7f6849"/></linearGradient><linearGradient id="br16" x1="0" y1="0" x2="1" y2="0"><stop offset="0.000" stop-color="#260943"/><stop offset="0.025" stop-color="#300b54"/><stop offset="0.050" stop-color="#4d1176"/><stop offset="0.076" stop-color="#5e177f"/><stop offset="0.101" stop-color="#6a1c81"/><stop offset="0.126" stop-color="#782282"/><stop offset="0.151" stop-color="#862781"/><stop offset="0.176" stop-color="#942c80"/><stop offset="0.202" stop-color="#a3307e"/><stop offset="0.227" stop-color="#b2357b"/><stop offset="0.252" stop-color="#c23b75"/><stop offset="0.277" stop-color="#cf4170"/><stop offset="0.303" stop-color="#dc4869"/><stop offset="0.328" stop-color="#e85362"/><stop offset="0.353" stop-color="#f1605d"/><stop offset="0.378" stop-color="#f66e5c"/><stop offset="0.403" stop-color="#fb815f"/><stop offset="0.429" stop-color="#fd9467"/><stop offset="0.454" stop-color="#fea571"/><stop offset="0.479" stop-color="#feb078"/><stop offset="0.504" stop-color="#feb77e"/><stop offset="0.529" stop-color="#feb97f"/><stop offset="0.555" stop-color="#febb81"/><stop offset="0.580" stop-color="#febf84"/><stop offset="0.605" stop-color="#fec488"/><stop offset="0.630" stop-color="#fec88c"/><stop offset="0.655" stop-color="#fece90"/><stop offset="0.681" stop-color="#fed395"/><stop offset="0.706" stop-color="#fed799"/><stop offset="0.731" stop-color="#fedc9e"/><stop offset="0.756" stop-color="#fde2a3"/><stop offset="0.782" stop-color="#fde7a9"/><stop offset="0.807" stop-color="#fdebac"/><stop offset="0.832" stop-color="#fdedae"/><stop offset="0.857" stop-color="#fdedae"/><stop offset="0.882" stop-color="#fde9ab"/><stop offset="0.908" stop-color="#fde5a7"/><stop offset="0.933" stop-color="#f9dc9f"/><stop offset="0.958" stop-color="#d6ba85"/><stop offset="0.983" stop-color="#847252"/><stop offset="1.000" stop-color="#7f6c4d"/></linearGradient><linearGradient id="br17" x1="0" y1="0" x2="1" y2="0"><stop offset="0.000" stop-color="#260942"/><stop offset="0.025" stop-color="#310b55"/><stop offset="0.050" stop-color="#491075"/><stop offset="0.075" stop-color="#59157f"/><stop offset="0.100" stop-color="#651a80"/><stop offset="0.125" stop-color="#732081"/><stop offset="0.150" stop-color="#812582"/><stop offset="0.175" stop-color="#912b81"/><stop offset="0.200" stop-color="#a1307e"/><stop offset="0.225" stop-color="#b0357b"/><stop offset="0.251" stop-color="#bf3a77"/><stop offset="0.276" stop-color="#cd4071"/><stop offset="0.301" stop-color="#db476a"/><stop offset="0.326" stop-color="#e75263"/><stop offset="0.351" stop-color="#ef5d5e"/><stop offset="0.376" stop-color="#f56b5c"/><stop offset="0.401" stop-color="#fa7d5e"/><stop offset="0.426" stop-color="#fd9266"/><stop offset="0.451" stop-color="#fea571"/><stop offset="0.476" stop-color="#feb67d"/><stop offset="0.501" stop-color="#febd82"/><stop offset="0.526" stop-color="#febf84"/><stop offset="0.551" stop-color="#fec185"/><stop offset="0.576" stop-color="#fec488"/><stop offset="0.601" stop-color="#fec88c"/><stop offset="0.626" stop-color="#fece90"/><stop offset="0.651" stop-color="#fed194"/><stop offset="0.676" stop-color="#fed799"/><stop offset="0.701" stop-color="#feda9c"/><stop offset="0.727" stop-color="#fde0a2"/><stop offset="0.752" stop-color="#fde5a7"/><stop offset="0.777" stop-color="#fdebac"/><stop offset="0.802" stop-color="#fdeeb0"/><stop offset="0.827" stop-color="#fcf0b2"/><stop offset="0.852" stop-color="#fcf2b4"/><stop offset="0.877" stop-color="#fcf0b2"/><stop offset="0.902" stop-color="#fdedae"/><stop offset="0.927" stop-color="#fae6a9"/><stop offset="0.952" stop-color="#dbc791"/><stop offset="0.977" stop-color="#8b7d5b"/><stop offset="1.000" stop-color="#7f7152"/></linearGradient><linearGradient id="br18" x1="0" y1="0" x2="1" y2="0"><stop offset="0.000" stop-color="#250840"/><stop offset="0.025" stop-color="#290948"/><stop offset="0.050" stop-color="#400e6b"/><stop offset="0.075" stop-color="#53137c"/><stop offset="0.101" stop-color="#621980"/><stop offset="0.126" stop-color="#721f81"/><stop offset="0.151" stop-color="#812582"/><stop offset="0.176" stop-color="#912b81"/><stop offset="0.201" stop-color="#a1307e"/><stop offset="0.226" stop-color="#b2357b"/><stop offset="0.252" stop-color="#c23b75"/><stop offset="0.277" stop-color="#d0416f"/><stop offset="0.302" stop-color="#dc4869"/><stop offset="0.327" stop-color="#e75263"/><stop offset="0.352" stop-color="#f05f5e"/><stop offset="0.377" stop-color="#f66d5c"/><stop offset="0.403" stop-color="#fa7f5e"/><stop offset="0.428" stop-color="#fd9266"/><stop offset="0.453" stop-color="#fea571"/><stop offset="0.478" stop-color="#feb67d"/><stop offset="0.503" stop-color="#febf84"/><stop offset="0.528" stop-color="#fec387"/><stop offset="0.553" stop-color="#fec68a"/><stop offset="0.579" stop-color="#feca8d"/><stop offset="0.604" stop-color="#fecf92"/><stop offset="0.629" stop-color="#fed395"/><stop offset="0.654" stop-color="#fed799"/><stop offset="0.679" stop-color="#feda9c"/><stop offset="0.704" stop-color="#fde0a2"/><stop offset="0.730" stop-color="#fde3a5"/><stop offset="0.755" stop-color="#fde7a9"/><stop offset="0.780" stop-color="#fdedae"/><stop offset="0.805" stop-color="#fcf0b2"/><stop offset="0.830" stop-color="#fcf4b6"/><stop offset="0.855" stop-color="#fcf4b6"/><stop offset="0.881" stop-color="#fcf4b6"/><stop offset="0.906" stop-color="#fcf2b4"/><stop offset="0.931" stop-color="#eee3a8"/><stop offset="0.956" stop-color="#c7bb89"/><stop offset="0.981" stop-color="#7e7556"/><stop offset="1.000" stop-color="#7e7455"/></linearGradient><linearGradient id="br19" x1="0" y1="0" x2="1" y2="0"><stop offset="0.000" stop-color="#24083f"/><stop offset="0.026" stop-color="#2e0b51"/><stop offset="0.051" stop-color="#440f71"/><stop offset="0.077" stop-color="#56147d"/><stop offset="0.103" stop-color="#651a80"/><stop offset="0.128" stop-color="#762182"/><stop offset="0.154" stop-color="#882781"/><stop offset="0.179" stop-color="#992d80"/><stop offset="0.205" stop-color="#ab337c"/><stop offset="0.231" stop-color="#bc3978"/><stop offset="0.256" stop-color="#ca3e72"/><stop offset="0.282" stop-color="#d7456c"/><stop offset="0.308" stop-color="#e24d66"/><stop offset="0.333" stop-color="#eb5760"/><stop offset="0.359" stop-color="#f2645c"/><stop offset="0.385" stop-color="#f8745c"/><stop offset="0.410" stop-color="#fc8761"/><stop offset="0.436" stop-color="#fd9a6a"/><stop offset="0.462" stop-color="#feab74"/><stop offset="0.487" stop-color="#feb77e"/><stop offset="0.513" stop-color="#fec387"/><stop offset="0.538" stop-color="#fec88c"/><stop offset="0.564" stop-color="#fece90"/><stop offset="0.590" stop-color="#fed194"/><stop offset="0.615" stop-color="#fed799"/><stop offset="0.641" stop-color="#feda9c"/><stop offset="0.667" stop-color="#fddea0"/><stop offset="0.692" stop-color="#fde0a2"/><stop offset="0.718" stop-color="#fde3a5"/><stop offset="0.744" stop-color="#fde7a9"/><stop offset="0.769" stop-color="#fdedae"/><stop offset="0.795" stop-color="#fcf0b2"/><stop offset="0.821" stop-color="#fcf4b6"/><stop offset="0.846" stop-color="#fcf4b6"/><stop offset="0.872" stop-color="#fcf4b6"/><stop offset="0.897" stop-color="#f4ebaf"/><stop offset="0.923" stop-color="#ddd59f"/><stop offset="0.949" stop-color="#b6b083"/><stop offset="0.974" stop-color="#7e795a"/><stop offset="1.000" stop-color="#7e7859"/></linearGradient><linearGradient id="br20" x1="0" y1="0" x2="1" y2="0"><stop offset="0.000" stop-color="#24083f"/><stop offset="0.026" stop-color="#2c0a4d"/><stop offset="0.053" stop-color="#400e6d"/><stop offset="0.079" stop-color="#54137c"/><stop offset="0.105" stop-color="#651a80"/><stop offset="0.132" stop-color="#782282"/><stop offset="0.158" stop-color="#8b2981"/><stop offset="0.185" stop-color="#9e2f7f"/><stop offset="0.211" stop-color="#b0357b"/><stop offset="0.237" stop-color="#c13a76"/><stop offset="0.264" stop-color="#cd4071"/><stop offset="0.290" stop-color="#d9466b"/><stop offset="0.316" stop-color="#e44f65"/><stop offset="0.343" stop-color="#ed5a5f"/><stop offset="0.369" stop-color="#f4675c"/><stop offset="0.396" stop-color="#f8765c"/><stop offset="0.422" stop-color="#fc8761"/><stop offset="0.448" stop-color="#fd9869"/><stop offset="0.475" stop-color="#fea973"/><stop offset="0.501" stop-color="#feb77e"/><stop offset="0.527" stop-color="#fec387"/><stop offset="0.554" stop-color="#fecc8f"/><stop offset="0.580" stop-color="#fed194"/><stop offset="0.607" stop-color="#fed799"/><stop offset="0.633" stop-color="#feda9c"/><stop offset="0.659" stop-color="#fddea0"/><stop offset="0.686" stop-color="#fde2a3"/><stop offset="0.712" stop-color="#fde5a7"/><stop offset="0.738" stop-color="#fde7a9"/><stop offset="0.765" stop-color="#fdebac"/><stop offset="0.791" stop-color="#fcf0b2"/><stop offset="0.818" stop-color="#fcf4b6"/><stop offset="0.844" stop-color="#fcf4b6"/><stop offset="0.870" stop-color="#fcf3b5"/><stop offset="0.897" stop-color="#ebe3a9"/><stop offset="0.923" stop-color="#ccc593"/><stop offset="0.949" stop-color="#9a946f"/><stop offset="0.976" stop-color="#7e7a5b"/><stop offset="1.000" stop-color="#7e7a5b"/></linearGradient><linearGradient id="br21" x1="0" y1="0" x2="1" y2="0"><stop offset="0.000" stop-color="#24083e"/><stop offset="0.028" stop-color="#290947"/><stop offset="0.055" stop-color="#3a0d65"/><stop offset="0.083" stop-color="#511379"/><stop offset="0.110" stop-color="#671b80"/><stop offset="0.138" stop-color="#7d2482"/><stop offset="0.165" stop-color="#932b80"/><stop offset="0.193" stop-color="#a6327d"/><stop offset="0.220" stop-color="#b73779"/><stop offset="0.248" stop-color="#c53c74"/><stop offset="0.275" stop-color="#d2426f"/><stop offset="0.303" stop-color="#de4968"/><stop offset="0.330" stop-color="#e75263"/><stop offset="0.358" stop-color="#ee5c5f"/><stop offset="0.385" stop-color="#f4675c"/><stop offset="0.413" stop-color="#f8765c"/><stop offset="0.440" stop-color="#fc8761"/><stop offset="0.468" stop-color="#fd9668"/><stop offset="0.495" stop-color="#fea772"/><stop offset="0.523" stop-color="#feb67d"/><stop offset="0.550" stop-color="#fec387"/><stop offset="0.578" stop-color="#fece90"/><stop offset="0.606" stop-color="#fed597"/><stop offset="0.633" stop-color="#feda9c"/><stop offset="0.661" stop-color="#fddea0"/><stop offset="0.688" stop-color="#fde2a3"/><stop offset="0.716" stop-color="#fde5a7"/><stop offset="0.743" stop-color="#fde9ab"/><stop offset="0.771" stop-color="#fdebac"/><stop offset="0.798" stop-color="#fdeeb0"/><stop offset="0.826" stop-color="#fcf2b4"/><stop offset="0.853" stop-color="#fcf4b6"/><stop offset="0.881" stop-color="#f5edb0"/><stop offset="0.908" stop-color="#ded7a0"/><stop offset="0.936" stop-color="#b5af83"/><stop offset="0.963" stop-color="#7e7a5b"/><stop offset="0.991" stop-color="#7e7a5b"/><stop offset="1.000" stop-color="#7e7a5b"/></linearGradient><linearGradient id="br22" x1="0" y1="0" x2="1" y2="0"><stop offset="0.000" stop-color="#22083b"/><stop offset="0.029" stop-color="#24083e"/><stop offset="0.058" stop-color="#3a0d5e"/><stop offset="0.087" stop-color="#561577"/><stop offset="0.116" stop-color="#732081"/><stop offset="0.145" stop-color="#8c2981"/><stop offset="0.173" stop-color="#a1307e"/><stop offset="0.202" stop-color="#b4367a"/><stop offset="0.231" stop-color="#c23b75"/><stop offset="0.260" stop-color="#cf4170"/><stop offset="0.289" stop-color="#d9466b"/><stop offset="0.318" stop-color="#e24d66"/><stop offset="0.347" stop-color="#e95462"/><stop offset="0.376" stop-color="#f05f5e"/><stop offset="0.405" stop-color="#f56b5c"/><stop offset="0.434" stop-color="#f9785d"/><stop offset="0.463" stop-color="#fc8761"/><stop offset="0.492" stop-color="#fd9668"/><stop offset="0.520" stop-color="#fea772"/><stop offset="0.549" stop-color="#feb67d"/><stop offset="0.578" stop-color="#fec387"/><stop offset="0.607" stop-color="#fecf92"/><stop offset="0.636" stop-color="#fed799"/><stop offset="0.665" stop-color="#fedc9e"/><stop offset="0.694" stop-color="#fde2a3"/><stop offset="0.723" stop-color="#fde5a7"/><stop offset="0.752" stop-color="#fde9ab"/><stop offset="0.781" stop-color="#fdedae"/><stop offset="0.810" stop-color="#fdeeb0"/><stop offset="0.839" stop-color="#fcf2b4"/><stop offset="0.867" stop-color="#fcf3b5"/><stop offset="0.896" stop-color="#e9e1a8"/><stop offset="0.925" stop-color="#c4bd8d"/><stop offset="0.954" stop-color="#888462"/><stop offset="0.983" stop-color="#7e7a5b"/><stop offset="1.000" stop-color="#7e7a5b"/></linearGradient><linearGradient id="br23" x1="0" y1="0" x2="1" y2="0"><stop offset="0.000" stop-color="#22083b"/><stop offset="0.031" stop-color="#2a0943"/><stop offset="0.062" stop-color="#4f146b"/><stop offset="0.093" stop-color="#6c1e77"/><stop offset="0.123" stop-color="#872879"/><stop offset="0.154" stop-color="#a13079"/><stop offset="0.185" stop-color="#b53678"/><stop offset="0.216" stop-color="#c43c75"/><stop offset="0.247" stop-color="#cf4170"/><stop offset="0.278" stop-color="#d8466c"/><stop offset="0.308" stop-color="#e04c67"/><stop offset="0.339" stop-color="#e75263"/><stop offset="0.370" stop-color="#ed5a5f"/><stop offset="0.401" stop-color="#f2645c"/><stop offset="0.432" stop-color="#f7705c"/><stop offset="0.463" stop-color="#fa7d5e"/><stop offset="0.494" stop-color="#fc8b62"/><stop offset="0.524" stop-color="#f79768"/><stop offset="0.555" stop-color="#f1a16e"/><stop offset="0.586" stop-color="#eaab75"/><stop offset="0.617" stop-color="#e6b47d"/><stop offset="0.648" stop-color="#e6be86"/><stop offset="0.679" stop-color="#ebc88f"/><stop offset="0.710" stop-color="#f3d599"/><stop offset="0.740" stop-color="#fae0a3"/><stop offset="0.771" stop-color="#fde9ab"/><stop offset="0.802" stop-color="#fcecae"/><stop offset="0.833" stop-color="#f1e5aa"/><stop offset="0.864" stop-color="#e8e0a7"/><stop offset="0.895" stop-color="#e4dca4"/><stop offset="0.925" stop-color="#c7c08f"/><stop offset="0.956" stop-color="#868261"/><stop offset="0.987" stop-color="#7e7a5b"/><stop offset="1.000" stop-color="#7e7a5b"/></linearGradient><linearGradient id="br24" x1="0" y1="0" x2="1" y2="0"><stop offset="0.000" stop-color="#25083d"/><stop offset="0.032" stop-color="#2f0c3f"/><stop offset="0.065" stop-color="#491452"/><stop offset="0.097" stop-color="#621d5a"/><stop offset="0.130" stop-color="#7e2561"/><stop offset="0.162" stop-color="#982d67"/><stop offset="0.195" stop-color="#b73770"/><stop offset="0.227" stop-color="#cc3f72"/><stop offset="0.259" stop-color="#d4436e"/><stop offset="0.292" stop-color="#dc4869"/><stop offset="0.324" stop-color="#e24d66"/><stop offset="0.357" stop-color="#e85362"/><stop offset="0.389" stop-color="#ed5a5f"/><stop offset="0.422" stop-color="#f2645c"/><stop offset="0.454" stop-color="#f66e5c"/><stop offset="0.486" stop-color="#f97a5d"/><stop offset="0.519" stop-color="#e87e5a"/><stop offset="0.551" stop-color="#c27651"/><stop offset="0.584" stop-color="#b57852"/><stop offset="0.616" stop-color="#a37550"/><stop offset="0.649" stop-color="#a17c56"/><stop offset="0.681" stop-color="#a78860"/><stop offset="0.714" stop-color="#bda072"/><stop offset="0.746" stop-color="#d1b784"/><stop offset="0.778" stop-color="#e0cb94"/><stop offset="0.811" stop-color="#e1d098"/><stop offset="0.843" stop-color="#d3c793"/><stop offset="0.876" stop-color="#b2ab7f"/><stop offset="0.908" stop-color="#a8a279"/><stop offset="0.941" stop-color="#948f6b"/><stop offset="0.973" stop-color="#7e7a5b"/><stop offset="1.000" stop-color="#7e7a5b"/></linearGradient><linearGradient id="br25" x1="0" y1="0" x2="1" y2="0"><stop offset="0.000" stop-color="#441441"/><stop offset="0.040" stop-color="#4f173f"/><stop offset="0.079" stop-color="#581a3e"/><stop offset="0.119" stop-color="#992e60"/><stop offset="0.158" stop-color="#bb396d"/><stop offset="0.198" stop-color="#ce406e"/><stop offset="0.238" stop-color="#d8466c"/><stop offset="0.277" stop-color="#de4968"/><stop offset="0.317" stop-color="#e34e65"/><stop offset="0.356" stop-color="#e85362"/><stop offset="0.396" stop-color="#ed5a5f"/><stop offset="0.436" stop-color="#f2625d"/><stop offset="0.475" stop-color="#f56b5c"/><stop offset="0.515" stop-color="#ef7359"/><stop offset="0.554" stop-color="#c66b4d"/><stop offset="0.594" stop-color="#7f4d35"/><stop offset="0.634" stop-color="#7f543a"/><stop offset="0.673" stop-color="#7f5c3f"/><stop offset="0.713" stop-color="#7f6244"/><stop offset="0.752" stop-color="#7f6748"/><stop offset="0.792" stop-color="#7f6b4c"/><stop offset="0.832" stop-color="#917f5c"/><stop offset="0.871" stop-color="#978964"/><stop offset="0.911" stop-color="#948965"/><stop offset="0.950" stop-color="#7e7758"/><stop offset="0.990" stop-color="#7e7a5b"/><stop offset="1.000" stop-color="#7e7a5b"/></linearGradient><linearGradient id="br26" x1="0" y1="0" x2="1" y2="0"><stop offset="0.000" stop-color="#55193e"/><stop offset="0.072" stop-color="#601d3f"/><stop offset="0.144" stop-color="#8e2b56"/><stop offset="0.216" stop-color="#ac3560"/><stop offset="0.287" stop-color="#bd3c62"/><stop offset="0.359" stop-color="#ce4365"/><stop offset="0.431" stop-color="#dc4a66"/><stop offset="0.503" stop-color="#e34e65"/><stop offset="0.575" stop-color="#e85362"/><stop offset="0.647" stop-color="#ec5960"/><stop offset="0.719" stop-color="#f1605d"/><stop offset="0.790" stop-color="#f46a5b"/><stop offset="0.862" stop-color="#de6c53"/><stop offset="0.934" stop-color="#95523a"/><stop offset="1.000" stop-color="#7f4d35"/></linearGradient><linearGradient id="br27" x1="0" y1="0" x2="1" y2="0"><stop offset="0.000" stop-color="#5b1b3d"/><stop offset="0.078" stop-color="#601d3b"/><stop offset="0.156" stop-color="#69203c"/><stop offset="0.234" stop-color="#852a47"/><stop offset="0.312" stop-color="#a63554"/><stop offset="0.390" stop-color="#c13f5d"/><stop offset="0.468" stop-color="#cf465f"/><stop offset="0.545" stop-color="#d84c5e"/><stop offset="0.623" stop-color="#e0515e"/><stop offset="0.701" stop-color="#eb5a5d"/><stop offset="0.779" stop-color="#e96158"/><stop offset="0.857" stop-color="#c95e4b"/><stop offset="0.935" stop-color="#7e4230"/><stop offset="1.000" stop-color="#7e4933"/></linearGradient><linearGradient id="br28" x1="0" y1="0" x2="1" y2="0"><stop offset="0.000" stop-color="#661f39"/><stop offset="0.103" stop-color="#692137"/><stop offset="0.207" stop-color="#7f293f"/><stop offset="0.310" stop-color="#953147"/><stop offset="0.414" stop-color="#a4384a"/><stop offset="0.517" stop-color="#b23f4d"/><stop offset="0.621" stop-color="#c64951"/><stop offset="0.724" stop-color="#c8504d"/><stop offset="0.828" stop-color="#a74a3e"/><stop offset="0.931" stop-color="#7d3e2f"/><stop offset="1.000" stop-color="#7e4330"/></linearGradient><linearGradient id="br29" x1="0" y1="0" x2="1" y2="0"><stop offset="0.000" stop-color="#6e2435"/><stop offset="0.176" stop-color="#712633"/><stop offset="0.353" stop-color="#732931"/><stop offset="0.529" stop-color="#7d2f33"/><stop offset="0.706" stop-color="#79312e"/><stop offset="0.882" stop-color="#7b372e"/><stop offset="1.000" stop-color="#7c3c2e"/></linearGradient><filter id="bblur" x="1100" y="150" width="600" height="480" filterUnits="userSpaceOnUse"><feGaussianBlur stdDeviation="5"/></filter><filter id="gyri" x="1100" y="150" width="600" height="480" filterUnits="userSpaceOnUse" color-interpolation-filters="sRGB"><feTurbulence type="turbulence" baseFrequency="0.016" numOctaves="2" seed="7" result="n"/><feColorMatrix in="n" type="matrix" values="1 0 0 0 0 1 0 0 0 0 1 0 0 0 0 0 0 0 0 1" result="g0"/><feGaussianBlur in="g0" stdDeviation="1.0" result="g"/><feColorMatrix in="g" type="matrix" values="0 0 0 0 0 0 0 0 0 0 0 0 0 0 0 1 0 0 0 0" result="h0"/><feGaussianBlur in="h0" stdDeviation="1.5" result="h"/><feDiffuseLighting in="h" surfaceScale="4" diffuseConstant="1.0" lighting-color="#fff" result="lit"><feDistantLight azimuth="225" elevation="50"/></feDiffuseLighting><feComponentTransfer in="g" result="cr"><feFuncR type="table" tableValues="0.4 0.78 0.96 1 1 1 1"/><feFuncG type="table" tableValues="0.4 0.78 0.96 1 1 1 1"/><feFuncB type="table" tableValues="0.4 0.78 0.96 1 1 1 1"/><feFuncA type="linear" slope="0" intercept="1"/></feComponentTransfer><feComposite in="lit" in2="cr" operator="arithmetic" k1="1" k2="0" k3="0" k4="0" result="sh"/><feComposite in="SourceGraphic" in2="sh" operator="arithmetic" k1="1.2" k2="0" k3="0" k4="0"/></filter><clipPath id="bclip"><path d="M1380 217.2C1387.8 216.1 1399.2 216.1 1404.4 216.5C1409.6 216.9 1407.8 219 1411.2 219.9C1414.6 220.8 1419.6 221.4 1424.8 222C1430 222.6 1435.9 222.7 1442.4 223.3C1449 223.9 1456.4 224.3 1464.1 225.4C1471.8 226.5 1481.6 228.3 1488.6 230.1C1495.6 231.9 1500.3 232.9 1506.2 236.2C1512.1 239.5 1518.5 245.1 1523.9 249.8C1529.3 254.6 1535.6 261.1 1538.8 264.7C1542 268.3 1540.4 269.2 1542.9 271.5C1545.4 273.8 1550.3 275.8 1553.7 278.3C1557.1 280.8 1559.4 283.2 1563.2 286.4C1567 289.6 1573.2 293.4 1576.8 297.3C1580.4 301.2 1583.3 305.9 1584.9 309.5C1586.5 313.1 1584.9 316.5 1586.3 319C1587.7 321.5 1590.4 321.7 1593.1 324.4C1595.8 327.1 1600.1 331 1602.6 335.3C1605.1 339.6 1607.1 345.7 1608 350.2C1608.9 354.7 1607.1 357.2 1608 362.4C1608.9 367.6 1612 376 1613.4 381.4C1614.8 386.8 1615.4 390.7 1616.2 395C1617 399.3 1618.2 401.7 1618 407.1C1617.8 412.5 1617.1 421.8 1615.3 427.5C1613.5 433.2 1610.1 437.7 1607.2 441.1C1604.3 444.5 1602.2 444.5 1597.7 447.9C1593.2 451.3 1585.2 457.3 1580 461.4C1574.8 465.5 1571 468.7 1566.5 472.3C1562 475.9 1557.4 479.1 1552.9 483.2C1548.4 487.3 1542.7 493.5 1539.3 496.7C1535.9 499.9 1537 501.1 1532.5 502.2C1528 503.3 1517.4 502.4 1512.2 503.5C1507 504.6 1504 507.3 1501.3 508.9C1498.6 510.5 1500.9 512.3 1495.9 513C1490.9 513.7 1478.9 514.1 1471.4 513C1463.9 511.9 1457.2 508 1451.1 506.2C1445 504.4 1440.5 503 1434.8 502.2C1429.1 501.4 1422.8 501.1 1417.1 501.5C1411.4 501.9 1405.4 504.1 1400.9 504.9C1396.4 505.7 1392 505.5 1390 506.2C1388 506.9 1388.9 507.8 1388.9 508.9C1388.9 510 1389.5 509.6 1390.2 513C1390.9 516.4 1393.5 523.9 1393 529.3C1392.5 534.7 1390 541.1 1387.5 545.6C1385 550.1 1382.5 554 1378 556.4C1373.5 558.8 1365.6 560 1360.4 559.8C1355.2 559.6 1352 556.3 1346.8 555.1C1341.6 553.9 1334.8 553.2 1329.2 552.4C1323.6 551.6 1317.9 551.9 1312.9 550.3C1307.9 548.7 1303.8 545 1299.3 542.9C1294.8 540.8 1291.3 539.2 1285.7 537.4C1280.1 535.6 1271.1 534.7 1265.4 532C1259.8 529.3 1255.2 524.8 1251.8 521.2C1248.4 517.6 1249.3 513 1245 510.3C1240.7 507.6 1232.1 506.3 1226 504.9C1219.9 503.5 1213.2 503.7 1208.4 502.1C1203.7 500.5 1200.5 498.6 1197.5 495.4C1194.5 492.2 1193.4 486.7 1190.7 483.1C1188 479.5 1183.9 476.8 1181.2 473.6C1178.5 470.4 1176.4 468.4 1174.4 464.1C1172.4 459.8 1170.1 452.9 1169 447.9C1167.9 442.9 1168.8 438.6 1167.6 434.3C1166.3 430 1161.8 426.6 1161.5 422.1C1161.2 417.6 1164.8 411.6 1165.6 407.1C1166.4 402.6 1166 399.3 1166.3 395C1166.6 390.7 1166.9 387 1167.6 381.4C1168.3 375.8 1169.4 366.8 1170.4 361.1C1171.4 355.5 1172 351.8 1173.8 347.5C1175.6 343.2 1178.4 339.8 1181.2 335.3C1184 330.8 1187.3 325.4 1190.7 320.4C1194.1 315.4 1198.2 309.2 1201.6 305.4C1205 301.5 1207.9 299.1 1211.1 297.3C1214.3 295.5 1218.8 296 1220.6 294.6C1222.4 293.2 1220.6 290.9 1221.9 289.1C1223.2 287.3 1226.2 286.4 1228.7 283.7C1231.2 281 1233.3 276.5 1236.9 272.9C1240.5 269.3 1245.7 265.4 1250.4 262C1255.2 258.6 1260.4 254.8 1265.4 252.5C1270.4 250.2 1276 249.2 1280.3 248.4C1284.6 247.6 1288 248.9 1291.2 247.8C1294.4 246.7 1295.7 243.2 1299.3 241.6C1302.9 240 1308.2 239.7 1312.9 238.3C1317.7 237 1323.3 235.1 1327.8 233.5C1332.3 231.9 1335 230.5 1340 228.8C1345 227.1 1351 225.2 1357.7 223.3C1364.4 221.4 1372.2 218.3 1380 217.2Z"/></clipPath></defs><g clip-path="url(#bclip)"><g filter="url(#gyri)"><g filter="url(#bblur)"><rect x="1329" y="215" width="162" height="16" fill="url(#br1)"/><rect x="1292" y="227" width="231" height="16" fill="url(#br2)"/><rect x="1253" y="239" width="285" height="16" fill="url(#br3)"/><rect x="1235" y="251" width="315" height="16" fill="url(#br4)"/><rect x="1222" y="263" width="340" height="16" fill="url(#br5)"/><rect x="1211" y="275" width="366" height="16" fill="url(#br6)"/><rect x="1195" y="287" width="395" height="16" fill="url(#br7)"/><rect x="1184" y="299" width="412" height="16" fill="url(#br8)"/><rect x="1176" y="311" width="428" height="16" fill="url(#br9)"/><rect x="1168" y="323" width="446" height="16" fill="url(#br10)"/><rect x="1162" y="335" width="456" height="16" fill="url(#br11)"/><rect x="1159" y="347" width="460" height="16" fill="url(#br12)"/><rect x="1157" y="359" width="465" height="16" fill="url(#br13)"/><rect x="1155" y="371" width="470" height="16" fill="url(#br14)"/><rect x="1154" y="383" width="473" height="16" fill="url(#br15)"/><rect x="1153" y="395" width="476" height="16" fill="url(#br16)"/><rect x="1150" y="407" width="479" height="16" fill="url(#br17)"/><rect x="1150" y="419" width="477" height="16" fill="url(#br18)"/><rect x="1155" y="431" width="468" height="16" fill="url(#br19)"/><rect x="1157" y="443" width="455" height="16" fill="url(#br20)"/><rect x="1160" y="455" width="436" height="16" fill="url(#br21)"/><rect x="1166" y="467" width="415" height="16" fill="url(#br22)"/><rect x="1177" y="479" width="389" height="16" fill="url(#br23)"/><rect x="1184" y="491" width="370" height="16" fill="url(#br24)"/><rect x="1216" y="503" width="303" height="16" fill="url(#br25)"/><rect x="1237" y="515" width="167" height="16" fill="url(#br26)"/><rect x="1250" y="527" width="154" height="16" fill="url(#br27)"/><rect x="1284" y="539" width="116" height="16" fill="url(#br28)"/><rect x="1324" y="551" width="68" height="16" fill="url(#br29)"/><path d="M1428 490L1450 494L1480 497L1505 496L1525 492L1545 484L1560 478L1548 500L1532 506L1512 508L1500 514L1470 516L1448 510L1430 506Z" fill="#b4553f"/></g></g></g>
<line x1="1052.6" y1="488.7" x2="1041.4" y2="492.6" stroke="#000" stroke-width="2"/>
<line x1="1294.6" y1="623.5" x2="1283.4" y2="627.4" stroke="#000" stroke-width="2"/>
<line x1="1422" y1="640.6" x2="1432.5" y2="645.5" stroke="#000" stroke-width="2"/>
<line x1="1052.6" y1="366.2" x2="1041.4" y2="370.1" stroke="#000" stroke-width="2"/>
<line x1="1206.9" y1="583.9" x2="1195.7" y2="587.8" stroke="#000" stroke-width="2"/>
<line x1="1553.5" y1="597.1" x2="1564" y2="602" stroke="#000" stroke-width="2"/>
<line x1="1052.6" y1="243.7" x2="1041.4" y2="247.6" stroke="#000" stroke-width="2"/>
<line x1="1119.2" y1="544.3" x2="1108" y2="548.2" stroke="#000" stroke-width="2"/>
<line x1="1685.1" y1="553.6" x2="1695.6" y2="558.5" stroke="#000" stroke-width="2"/>
<text x="1020.5" y="264.9" text-anchor="end" font-size="28">50</text>
<text x="1020.5" y="386.9" text-anchor="end" font-size="28">0</text>
<text x="1020.5" y="509.4" text-anchor="end" font-size="28">−50</text>
<text x="1083" y="578.7" text-anchor="middle" font-size="28">50</text>
<text x="1178.6" y="618.2" text-anchor="middle" font-size="28">0</text>
<text x="1250.5" y="658" text-anchor="middle" font-size="28">−50</text>
<text x="1465.9" y="676.4" text-anchor="middle" font-size="28">−50</text>
<text x="1581" y="633" text-anchor="middle" font-size="28">0</text>
<text x="1720.1" y="590.1" text-anchor="middle" font-size="28">50</text>
<text x="0" y="7" transform="translate(1586.4 691.1) rotate(-18.3)" text-anchor="middle" font-size="28">x</text>
<text x="0" y="2" transform="translate(1169.6 682) rotate(24.3)" text-anchor="middle" font-size="28">y</text>
<text x="0" y="7" transform="translate(940 365) rotate(-90)" text-anchor="middle" font-size="28">z</text>
<text x="1397" y="78" text-anchor="middle" font-size="28" font-weight="bold">Brain activation</text>
<rect x="1837.7" y="92" width="24.1" height="565.5" fill="url(#magma)" stroke="#000" stroke-width="2"/>
<line x1="1861.8" y1="193.9" x2="1871.8" y2="193.9" stroke="#000" stroke-width="2"/>
<text x="1881" y="203.9" text-anchor="start" font-size="28">50</text>
<line x1="1861.8" y1="366.8" x2="1871.8" y2="366.8" stroke="#000" stroke-width="2"/>
<text x="1881" y="376.8" text-anchor="start" font-size="28">0</text>
<line x1="1861.8" y1="539.7" x2="1871.8" y2="539.7" stroke="#000" stroke-width="2"/>
<text x="1881" y="549.7" text-anchor="start" font-size="28">−50</text>
<text x="0" y="0" transform="translate(1962 375) rotate(-90)" text-anchor="middle" font-size="28">BOLD level</text>
</svg>
</body></html>
